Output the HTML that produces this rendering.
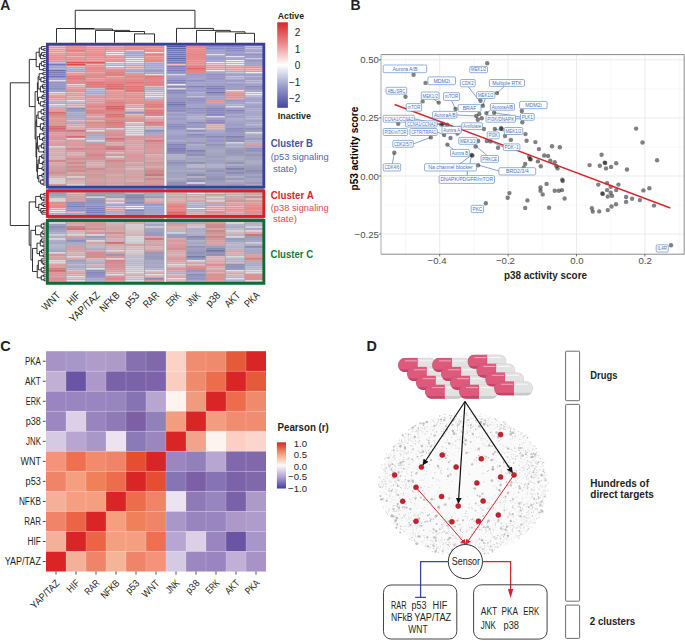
<!DOCTYPE html>
<html><head><meta charset="utf-8"><style>
html,body{margin:0;padding:0;background:#fff;width:685px;height:640px;overflow:hidden}
svg{display:block}
text{font-family:"Liberation Sans", sans-serif}
</style></head><body>
<svg width="685" height="640" viewBox="0 0 685 640">
<rect width="685" height="640" fill="#fff"/>
<text x="0.30" y="9.70" font-size="14" fill="#231f20" font-weight="bold" text-anchor="start">A</text>
<line x1="134.50" y1="33.90" x2="154.50" y2="33.90" stroke="#1a1a1a" stroke-width="0.9"/>
<line x1="134.50" y1="33.90" x2="134.50" y2="42.70" stroke="#1a1a1a" stroke-width="0.9"/>
<line x1="154.50" y1="33.90" x2="154.50" y2="42.70" stroke="#1a1a1a" stroke-width="0.9"/>
<line x1="114.50" y1="31.50" x2="144.50" y2="31.50" stroke="#1a1a1a" stroke-width="0.9"/>
<line x1="114.50" y1="31.50" x2="114.50" y2="42.70" stroke="#1a1a1a" stroke-width="0.9"/>
<line x1="144.50" y1="31.50" x2="144.50" y2="33.90" stroke="#1a1a1a" stroke-width="0.9"/>
<line x1="95.50" y1="30.40" x2="129.50" y2="30.40" stroke="#1a1a1a" stroke-width="0.9"/>
<line x1="95.50" y1="30.40" x2="95.50" y2="42.70" stroke="#1a1a1a" stroke-width="0.9"/>
<line x1="129.50" y1="30.40" x2="129.50" y2="31.50" stroke="#1a1a1a" stroke-width="0.9"/>
<line x1="75.50" y1="29.00" x2="112.50" y2="29.00" stroke="#1a1a1a" stroke-width="0.9"/>
<line x1="75.50" y1="29.00" x2="75.50" y2="42.70" stroke="#1a1a1a" stroke-width="0.9"/>
<line x1="112.50" y1="29.00" x2="112.50" y2="30.40" stroke="#1a1a1a" stroke-width="0.9"/>
<line x1="56.50" y1="28.50" x2="94.00" y2="28.50" stroke="#1a1a1a" stroke-width="0.9"/>
<line x1="56.50" y1="28.50" x2="56.50" y2="42.70" stroke="#1a1a1a" stroke-width="0.9"/>
<line x1="94.00" y1="28.50" x2="94.00" y2="29.00" stroke="#1a1a1a" stroke-width="0.9"/>
<line x1="235.50" y1="33.30" x2="254.50" y2="33.30" stroke="#1a1a1a" stroke-width="0.9"/>
<line x1="235.50" y1="33.30" x2="235.50" y2="42.70" stroke="#1a1a1a" stroke-width="0.9"/>
<line x1="254.50" y1="33.30" x2="254.50" y2="42.70" stroke="#1a1a1a" stroke-width="0.9"/>
<line x1="215.50" y1="31.80" x2="245.00" y2="31.80" stroke="#1a1a1a" stroke-width="0.9"/>
<line x1="215.50" y1="31.80" x2="215.50" y2="42.70" stroke="#1a1a1a" stroke-width="0.9"/>
<line x1="245.00" y1="31.80" x2="245.00" y2="33.30" stroke="#1a1a1a" stroke-width="0.9"/>
<line x1="196.50" y1="30.40" x2="230.25" y2="30.40" stroke="#1a1a1a" stroke-width="0.9"/>
<line x1="196.50" y1="30.40" x2="196.50" y2="42.70" stroke="#1a1a1a" stroke-width="0.9"/>
<line x1="230.25" y1="30.40" x2="230.25" y2="31.80" stroke="#1a1a1a" stroke-width="0.9"/>
<line x1="176.50" y1="28.40" x2="213.38" y2="28.40" stroke="#1a1a1a" stroke-width="0.9"/>
<line x1="176.50" y1="28.40" x2="176.50" y2="42.70" stroke="#1a1a1a" stroke-width="0.9"/>
<line x1="213.38" y1="28.40" x2="213.38" y2="30.40" stroke="#1a1a1a" stroke-width="0.9"/>
<line x1="75.25" y1="10.30" x2="194.94" y2="10.30" stroke="#1a1a1a" stroke-width="0.9"/>
<line x1="75.25" y1="10.30" x2="75.25" y2="28.50" stroke="#1a1a1a" stroke-width="0.9"/>
<line x1="194.94" y1="10.30" x2="194.94" y2="28.40" stroke="#1a1a1a" stroke-width="0.9"/>
<rect x="48" y="44" width="216" height="240" fill="#a6a4a8"/>
<rect x="46.95" y="46.02" width="18.70" height="1.16" fill="#f3bfc1"/>
<rect x="66.55" y="46.02" width="18.70" height="1.16" fill="#ef9292"/>
<rect x="86.15" y="46.02" width="18.70" height="1.16" fill="#f2b3b5"/>
<rect x="105.75" y="46.02" width="18.70" height="1.16" fill="#f2acad"/>
<rect x="125.35" y="46.02" width="18.70" height="1.16" fill="#f09b9b"/>
<rect x="144.95" y="46.02" width="18.70" height="1.16" fill="#f09797"/>
<rect x="167.15" y="46.02" width="18.63" height="1.16" fill="#5058a6"/>
<rect x="186.68" y="46.02" width="18.63" height="1.16" fill="#ec8384"/>
<rect x="206.21" y="46.02" width="18.63" height="1.16" fill="#8588c4"/>
<rect x="225.74" y="46.02" width="18.63" height="1.16" fill="#7f83c0"/>
<rect x="245.27" y="46.02" width="18.63" height="1.16" fill="#c2c2e1"/>
<rect x="46.95" y="48.03" width="18.70" height="1.16" fill="#f3bdbe"/>
<rect x="66.55" y="48.03" width="18.70" height="1.16" fill="#ef9292"/>
<rect x="86.15" y="48.03" width="18.70" height="1.16" fill="#f1a1a1"/>
<rect x="105.75" y="48.03" width="18.70" height="1.16" fill="#f19f9f"/>
<rect x="125.35" y="48.03" width="18.70" height="1.16" fill="#ee8e8e"/>
<rect x="144.95" y="48.03" width="18.70" height="1.16" fill="#f1a1a1"/>
<rect x="167.15" y="48.03" width="18.63" height="1.16" fill="#5c63ad"/>
<rect x="186.68" y="48.03" width="18.63" height="1.16" fill="#f09999"/>
<rect x="206.21" y="48.03" width="18.63" height="1.16" fill="#878bc5"/>
<rect x="225.74" y="48.03" width="18.63" height="1.16" fill="#8488c3"/>
<rect x="245.27" y="48.03" width="18.63" height="1.16" fill="#c3c3e2"/>
<rect x="46.95" y="50.03" width="18.70" height="1.16" fill="#f3b9bb"/>
<rect x="66.55" y="50.03" width="18.70" height="1.16" fill="#ea7d7e"/>
<rect x="86.15" y="50.03" width="18.70" height="1.16" fill="#f1a3a4"/>
<rect x="105.75" y="50.03" width="18.70" height="1.16" fill="#f2b4b5"/>
<rect x="125.35" y="50.03" width="18.70" height="1.16" fill="#f4c9cb"/>
<rect x="144.95" y="50.03" width="18.70" height="1.16" fill="#ee8d8d"/>
<rect x="167.15" y="50.03" width="18.63" height="1.16" fill="#7278b9"/>
<rect x="186.68" y="50.03" width="18.63" height="1.16" fill="#ee8f90"/>
<rect x="206.21" y="50.03" width="18.63" height="1.16" fill="#a3a5d3"/>
<rect x="225.74" y="50.03" width="18.63" height="1.16" fill="#898cc6"/>
<rect x="245.27" y="50.03" width="18.63" height="1.16" fill="#a6a7d4"/>
<rect x="46.95" y="52.04" width="18.70" height="1.16" fill="#f4c6c8"/>
<rect x="66.55" y="52.04" width="18.70" height="1.16" fill="#f2aeaf"/>
<rect x="86.15" y="52.04" width="18.70" height="1.16" fill="#f19e9e"/>
<rect x="105.75" y="52.04" width="18.70" height="1.16" fill="#f8f5f8"/>
<rect x="125.35" y="52.04" width="18.70" height="1.16" fill="#acadd7"/>
<rect x="144.95" y="52.04" width="18.70" height="1.16" fill="#f7e7eb"/>
<rect x="167.15" y="52.04" width="18.63" height="1.16" fill="#757abb"/>
<rect x="186.68" y="52.04" width="18.63" height="1.16" fill="#ee8e8f"/>
<rect x="206.21" y="52.04" width="18.63" height="1.16" fill="#abacd7"/>
<rect x="225.74" y="52.04" width="18.63" height="1.16" fill="#9fa0d1"/>
<rect x="245.27" y="52.04" width="18.63" height="1.16" fill="#c0c1e0"/>
<rect x="46.95" y="54.04" width="18.70" height="1.16" fill="#f1a7a8"/>
<rect x="66.55" y="54.04" width="18.70" height="1.16" fill="#f09898"/>
<rect x="86.15" y="54.04" width="18.70" height="1.16" fill="#ef9090"/>
<rect x="105.75" y="54.04" width="18.70" height="1.16" fill="#efeef6"/>
<rect x="125.35" y="54.04" width="18.70" height="1.16" fill="#b9b9dd"/>
<rect x="144.95" y="54.04" width="18.70" height="1.16" fill="#eb8081"/>
<rect x="167.15" y="54.04" width="18.63" height="1.16" fill="#6e73b7"/>
<rect x="186.68" y="54.04" width="18.63" height="1.16" fill="#ec8586"/>
<rect x="206.21" y="54.04" width="18.63" height="1.16" fill="#e5e4f1"/>
<rect x="225.74" y="54.04" width="18.63" height="1.16" fill="#9597cd"/>
<rect x="245.27" y="54.04" width="18.63" height="1.16" fill="#8e91c9"/>
<rect x="46.95" y="56.05" width="18.70" height="1.16" fill="#f19d9d"/>
<rect x="66.55" y="56.05" width="18.70" height="1.16" fill="#f3b5b6"/>
<rect x="86.15" y="56.05" width="18.70" height="1.16" fill="#f19e9f"/>
<rect x="105.75" y="56.05" width="18.70" height="1.16" fill="#f19e9e"/>
<rect x="125.35" y="56.05" width="18.70" height="1.16" fill="#c4c4e2"/>
<rect x="144.95" y="56.05" width="18.70" height="1.16" fill="#f1a2a3"/>
<rect x="167.15" y="56.05" width="18.63" height="1.16" fill="#6f74b7"/>
<rect x="186.68" y="56.05" width="18.63" height="1.16" fill="#ed8989"/>
<rect x="206.21" y="56.05" width="18.63" height="1.16" fill="#a1a3d2"/>
<rect x="225.74" y="56.05" width="18.63" height="1.16" fill="#e4e3f1"/>
<rect x="245.27" y="56.05" width="18.63" height="1.16" fill="#9c9ed0"/>
<rect x="46.95" y="58.06" width="18.70" height="1.16" fill="#f19d9e"/>
<rect x="66.55" y="58.06" width="18.70" height="1.16" fill="#f09a9a"/>
<rect x="86.15" y="58.06" width="18.70" height="1.16" fill="#f2a9a9"/>
<rect x="105.75" y="58.06" width="18.70" height="1.16" fill="#f2abac"/>
<rect x="125.35" y="58.06" width="18.70" height="1.16" fill="#f7eef2"/>
<rect x="144.95" y="58.06" width="18.70" height="1.16" fill="#f09797"/>
<rect x="167.15" y="58.06" width="18.63" height="1.16" fill="#5b62ac"/>
<rect x="186.68" y="58.06" width="18.63" height="1.16" fill="#ee8c8d"/>
<rect x="206.21" y="58.06" width="18.63" height="1.16" fill="#9a9bcf"/>
<rect x="225.74" y="58.06" width="18.63" height="1.16" fill="#a7a8d5"/>
<rect x="245.27" y="58.06" width="18.63" height="1.16" fill="#cbcbe5"/>
<rect x="46.95" y="60.06" width="18.70" height="1.16" fill="#f1a7a8"/>
<rect x="66.55" y="60.06" width="18.70" height="1.16" fill="#f19fa0"/>
<rect x="86.15" y="60.06" width="18.70" height="1.16" fill="#f1a5a6"/>
<rect x="105.75" y="60.06" width="18.70" height="1.16" fill="#f09696"/>
<rect x="125.35" y="60.06" width="18.70" height="1.16" fill="#f0eff6"/>
<rect x="144.95" y="60.06" width="18.70" height="1.16" fill="#ed8889"/>
<rect x="167.15" y="60.06" width="18.63" height="1.16" fill="#7378b9"/>
<rect x="186.68" y="60.06" width="18.63" height="1.16" fill="#f0999a"/>
<rect x="206.21" y="60.06" width="18.63" height="1.16" fill="#abacd7"/>
<rect x="225.74" y="60.06" width="18.63" height="1.16" fill="#f8f6fa"/>
<rect x="245.27" y="60.06" width="18.63" height="1.16" fill="#9194ca"/>
<rect x="46.95" y="62.07" width="18.70" height="1.16" fill="#c7c7e3"/>
<rect x="66.55" y="62.07" width="18.70" height="1.16" fill="#e04e51"/>
<rect x="86.15" y="62.07" width="18.70" height="1.16" fill="#e15457"/>
<rect x="105.75" y="62.07" width="18.70" height="1.16" fill="#f1f0f7"/>
<rect x="125.35" y="62.07" width="18.70" height="1.16" fill="#f7f0f4"/>
<rect x="144.95" y="62.07" width="18.70" height="1.16" fill="#c1c1e1"/>
<rect x="167.15" y="62.07" width="18.63" height="1.16" fill="#7479ba"/>
<rect x="186.68" y="62.07" width="18.63" height="1.16" fill="#f19c9c"/>
<rect x="206.21" y="62.07" width="18.63" height="1.16" fill="#f5f3f9"/>
<rect x="225.74" y="62.07" width="18.63" height="1.16" fill="#f6f4f9"/>
<rect x="245.27" y="62.07" width="18.63" height="1.16" fill="#a4a5d3"/>
<rect x="46.95" y="64.07" width="18.70" height="1.16" fill="#7378ba"/>
<rect x="66.55" y="64.07" width="18.70" height="1.16" fill="#de4549"/>
<rect x="86.15" y="64.07" width="18.70" height="1.16" fill="#f3b7b8"/>
<rect x="105.75" y="64.07" width="18.70" height="1.16" fill="#c9c9e4"/>
<rect x="125.35" y="64.07" width="18.70" height="1.16" fill="#c9c9e4"/>
<rect x="144.95" y="64.07" width="18.70" height="1.16" fill="#b4b4db"/>
<rect x="167.15" y="64.07" width="18.63" height="1.16" fill="#f3bec0"/>
<rect x="186.68" y="64.07" width="18.63" height="1.16" fill="#f09c9c"/>
<rect x="206.21" y="64.07" width="18.63" height="1.16" fill="#f4c8cb"/>
<rect x="225.74" y="64.07" width="18.63" height="1.16" fill="#f2f1f7"/>
<rect x="245.27" y="64.07" width="18.63" height="1.16" fill="#a7a8d5"/>
<rect x="46.95" y="66.08" width="18.70" height="1.16" fill="#acaed7"/>
<rect x="66.55" y="66.08" width="18.70" height="1.16" fill="#f3bcbd"/>
<rect x="86.15" y="66.08" width="18.70" height="1.16" fill="#f09c9c"/>
<rect x="105.75" y="66.08" width="18.70" height="1.16" fill="#f8f5f9"/>
<rect x="125.35" y="66.08" width="18.70" height="1.16" fill="#f4c7c9"/>
<rect x="144.95" y="66.08" width="18.70" height="1.16" fill="#b8b9dd"/>
<rect x="167.15" y="66.08" width="18.63" height="1.16" fill="#757abb"/>
<rect x="186.68" y="66.08" width="18.63" height="1.16" fill="#ea797b"/>
<rect x="206.21" y="66.08" width="18.63" height="1.16" fill="#f3b8b9"/>
<rect x="225.74" y="66.08" width="18.63" height="1.16" fill="#f2b0b1"/>
<rect x="245.27" y="66.08" width="18.63" height="1.16" fill="#f1a5a6"/>
<rect x="46.95" y="68.08" width="18.70" height="1.16" fill="#b6b7dc"/>
<rect x="66.55" y="68.08" width="18.70" height="1.16" fill="#c1c1e1"/>
<rect x="86.15" y="68.08" width="18.70" height="1.16" fill="#ed8a8b"/>
<rect x="105.75" y="68.08" width="18.70" height="1.16" fill="#f2aeaf"/>
<rect x="125.35" y="68.08" width="18.70" height="1.16" fill="#f4c7c9"/>
<rect x="144.95" y="68.08" width="18.70" height="1.16" fill="#bbbbde"/>
<rect x="167.15" y="68.08" width="18.63" height="1.16" fill="#8084c1"/>
<rect x="186.68" y="68.08" width="18.63" height="1.16" fill="#e35d60"/>
<rect x="206.21" y="68.08" width="18.63" height="1.16" fill="#f3bcbe"/>
<rect x="225.74" y="68.08" width="18.63" height="1.16" fill="#f3bdbe"/>
<rect x="245.27" y="68.08" width="18.63" height="1.16" fill="#f3bfc0"/>
<rect x="46.95" y="70.09" width="18.70" height="1.16" fill="#656bb2"/>
<rect x="66.55" y="70.09" width="18.70" height="1.16" fill="#b5b6db"/>
<rect x="86.15" y="70.09" width="18.70" height="1.16" fill="#ef9292"/>
<rect x="105.75" y="70.09" width="18.70" height="1.16" fill="#ed8a8a"/>
<rect x="125.35" y="70.09" width="18.70" height="1.16" fill="#acadd7"/>
<rect x="144.95" y="70.09" width="18.70" height="1.16" fill="#9799cd"/>
<rect x="167.15" y="70.09" width="18.63" height="1.16" fill="#767bbb"/>
<rect x="186.68" y="70.09" width="18.63" height="1.16" fill="#ea7d7e"/>
<rect x="206.21" y="70.09" width="18.63" height="1.16" fill="#f8f3f7"/>
<rect x="225.74" y="70.09" width="18.63" height="1.16" fill="#f3b9bb"/>
<rect x="245.27" y="70.09" width="18.63" height="1.16" fill="#f3bcbd"/>
<rect x="46.95" y="72.10" width="18.70" height="1.16" fill="#757abb"/>
<rect x="66.55" y="72.10" width="18.70" height="1.16" fill="#f4c4c6"/>
<rect x="86.15" y="72.10" width="18.70" height="1.16" fill="#f2a8a9"/>
<rect x="105.75" y="72.10" width="18.70" height="1.16" fill="#ea7c7e"/>
<rect x="125.35" y="72.10" width="18.70" height="1.16" fill="#c7c7e4"/>
<rect x="144.95" y="72.10" width="18.70" height="1.16" fill="#b1b2da"/>
<rect x="167.15" y="72.10" width="18.63" height="1.16" fill="#8c8fc7"/>
<rect x="186.68" y="72.10" width="18.63" height="1.16" fill="#ec8484"/>
<rect x="206.21" y="72.10" width="18.63" height="1.16" fill="#a8a9d5"/>
<rect x="225.74" y="72.10" width="18.63" height="1.16" fill="#cacae5"/>
<rect x="245.27" y="72.10" width="18.63" height="1.16" fill="#f8f5f9"/>
<rect x="46.95" y="74.10" width="18.70" height="1.16" fill="#7f83c0"/>
<rect x="66.55" y="74.10" width="18.70" height="1.16" fill="#f09999"/>
<rect x="86.15" y="74.10" width="18.70" height="1.16" fill="#ee8e8f"/>
<rect x="105.75" y="74.10" width="18.70" height="1.16" fill="#e97577"/>
<rect x="125.35" y="74.10" width="18.70" height="1.16" fill="#ef9494"/>
<rect x="144.95" y="74.10" width="18.70" height="1.16" fill="#f6dee1"/>
<rect x="167.15" y="74.10" width="18.63" height="1.16" fill="#dddcee"/>
<rect x="186.68" y="74.10" width="18.63" height="1.16" fill="#9b9ccf"/>
<rect x="206.21" y="74.10" width="18.63" height="1.16" fill="#8e90c8"/>
<rect x="225.74" y="74.10" width="18.63" height="1.16" fill="#a0a2d2"/>
<rect x="245.27" y="74.10" width="18.63" height="1.16" fill="#a0a2d2"/>
<rect x="46.95" y="76.11" width="18.70" height="1.16" fill="#686eb3"/>
<rect x="66.55" y="76.11" width="18.70" height="1.16" fill="#e87374"/>
<rect x="86.15" y="76.11" width="18.70" height="1.16" fill="#ed8888"/>
<rect x="105.75" y="76.11" width="18.70" height="1.16" fill="#f2adae"/>
<rect x="125.35" y="76.11" width="18.70" height="1.16" fill="#ec8384"/>
<rect x="144.95" y="76.11" width="18.70" height="1.16" fill="#e77072"/>
<rect x="167.15" y="76.11" width="18.63" height="1.16" fill="#a1a2d2"/>
<rect x="186.68" y="76.11" width="18.63" height="1.16" fill="#a3a4d3"/>
<rect x="206.21" y="76.11" width="18.63" height="1.16" fill="#9698cd"/>
<rect x="225.74" y="76.11" width="18.63" height="1.16" fill="#cacae5"/>
<rect x="245.27" y="76.11" width="18.63" height="1.16" fill="#b5b6db"/>
<rect x="46.95" y="78.11" width="18.70" height="1.16" fill="#a7a9d5"/>
<rect x="66.55" y="78.11" width="18.70" height="1.16" fill="#e87476"/>
<rect x="86.15" y="78.11" width="18.70" height="1.16" fill="#f1a6a7"/>
<rect x="105.75" y="78.11" width="18.70" height="1.16" fill="#f09595"/>
<rect x="125.35" y="78.11" width="18.70" height="1.16" fill="#f09595"/>
<rect x="144.95" y="78.11" width="18.70" height="1.16" fill="#ea7d7f"/>
<rect x="167.15" y="78.11" width="18.63" height="1.16" fill="#9799cd"/>
<rect x="186.68" y="78.11" width="18.63" height="1.16" fill="#a7a9d5"/>
<rect x="206.21" y="78.11" width="18.63" height="1.16" fill="#9193ca"/>
<rect x="225.74" y="78.11" width="18.63" height="1.16" fill="#bfc0e0"/>
<rect x="245.27" y="78.11" width="18.63" height="1.16" fill="#9d9ed0"/>
<rect x="46.95" y="80.12" width="18.70" height="1.16" fill="#e6e5f2"/>
<rect x="66.55" y="80.12" width="18.70" height="1.16" fill="#ed8a8b"/>
<rect x="86.15" y="80.12" width="18.70" height="1.16" fill="#f09898"/>
<rect x="105.75" y="80.12" width="18.70" height="1.16" fill="#ed8889"/>
<rect x="125.35" y="80.12" width="18.70" height="1.16" fill="#ec8384"/>
<rect x="144.95" y="80.12" width="18.70" height="1.16" fill="#ec8485"/>
<rect x="167.15" y="80.12" width="18.63" height="1.16" fill="#7d81bf"/>
<rect x="186.68" y="80.12" width="18.63" height="1.16" fill="#8c8fc7"/>
<rect x="206.21" y="80.12" width="18.63" height="1.16" fill="#a2a4d3"/>
<rect x="225.74" y="80.12" width="18.63" height="1.16" fill="#989ace"/>
<rect x="245.27" y="80.12" width="18.63" height="1.16" fill="#bfbfe0"/>
<rect x="46.95" y="82.12" width="18.70" height="1.16" fill="#9092ca"/>
<rect x="66.55" y="82.12" width="18.70" height="1.16" fill="#ed8787"/>
<rect x="86.15" y="82.12" width="18.70" height="1.16" fill="#e76e70"/>
<rect x="105.75" y="82.12" width="18.70" height="1.16" fill="#ea7d7f"/>
<rect x="125.35" y="82.12" width="18.70" height="1.16" fill="#e77072"/>
<rect x="144.95" y="82.12" width="18.70" height="1.16" fill="#ea7b7c"/>
<rect x="167.15" y="82.12" width="18.63" height="1.16" fill="#8185c1"/>
<rect x="186.68" y="82.12" width="18.63" height="1.16" fill="#a7a8d5"/>
<rect x="206.21" y="82.12" width="18.63" height="1.16" fill="#a6a7d4"/>
<rect x="225.74" y="82.12" width="18.63" height="1.16" fill="#b0b1d9"/>
<rect x="245.27" y="82.12" width="18.63" height="1.16" fill="#c4c4e2"/>
<rect x="46.95" y="84.13" width="18.70" height="1.16" fill="#9496cc"/>
<rect x="66.55" y="84.13" width="18.70" height="1.16" fill="#f6e3e6"/>
<rect x="86.15" y="84.13" width="18.70" height="1.16" fill="#e77172"/>
<rect x="105.75" y="84.13" width="18.70" height="1.16" fill="#e6696b"/>
<rect x="125.35" y="84.13" width="18.70" height="1.16" fill="#ed898a"/>
<rect x="144.95" y="84.13" width="18.70" height="1.16" fill="#ea7b7d"/>
<rect x="167.15" y="84.13" width="18.63" height="1.16" fill="#f7f5f9"/>
<rect x="186.68" y="84.13" width="18.63" height="1.16" fill="#a5a6d4"/>
<rect x="206.21" y="84.13" width="18.63" height="1.16" fill="#9d9ed0"/>
<rect x="225.74" y="84.13" width="18.63" height="1.16" fill="#9395cb"/>
<rect x="245.27" y="84.13" width="18.63" height="1.16" fill="#a2a3d2"/>
<rect x="46.95" y="86.14" width="18.70" height="1.16" fill="#9194ca"/>
<rect x="66.55" y="86.14" width="18.70" height="1.16" fill="#f3bdbe"/>
<rect x="86.15" y="86.14" width="18.70" height="1.16" fill="#ea7a7b"/>
<rect x="105.75" y="86.14" width="18.70" height="1.16" fill="#e56466"/>
<rect x="125.35" y="86.14" width="18.70" height="1.16" fill="#e76e70"/>
<rect x="144.95" y="86.14" width="18.70" height="1.16" fill="#f4c1c2"/>
<rect x="167.15" y="86.14" width="18.63" height="1.16" fill="#8487c3"/>
<rect x="186.68" y="86.14" width="18.63" height="1.16" fill="#797ebd"/>
<rect x="206.21" y="86.14" width="18.63" height="1.16" fill="#7a7ebd"/>
<rect x="225.74" y="86.14" width="18.63" height="1.16" fill="#9c9dd0"/>
<rect x="245.27" y="86.14" width="18.63" height="1.16" fill="#8386c2"/>
<rect x="46.95" y="88.14" width="18.70" height="1.16" fill="#878ac4"/>
<rect x="66.55" y="88.14" width="18.70" height="1.16" fill="#f1a3a3"/>
<rect x="86.15" y="88.14" width="18.70" height="1.16" fill="#c9c9e4"/>
<rect x="105.75" y="88.14" width="18.70" height="1.16" fill="#e56466"/>
<rect x="125.35" y="88.14" width="18.70" height="1.16" fill="#e87375"/>
<rect x="144.95" y="88.14" width="18.70" height="1.16" fill="#bbbbde"/>
<rect x="167.15" y="88.14" width="18.63" height="1.16" fill="#dcdbed"/>
<rect x="186.68" y="88.14" width="18.63" height="1.16" fill="#9a9bcf"/>
<rect x="206.21" y="88.14" width="18.63" height="1.16" fill="#7378b9"/>
<rect x="225.74" y="88.14" width="18.63" height="1.16" fill="#9c9ed0"/>
<rect x="245.27" y="88.14" width="18.63" height="1.16" fill="#9193ca"/>
<rect x="46.95" y="90.15" width="18.70" height="1.16" fill="#a1a3d2"/>
<rect x="66.55" y="90.15" width="18.70" height="1.16" fill="#ef9494"/>
<rect x="86.15" y="90.15" width="18.70" height="1.16" fill="#c1c1e1"/>
<rect x="105.75" y="90.15" width="18.70" height="1.16" fill="#f2afb0"/>
<rect x="125.35" y="90.15" width="18.70" height="1.16" fill="#e6696b"/>
<rect x="144.95" y="90.15" width="18.70" height="1.16" fill="#cbcbe5"/>
<rect x="167.15" y="90.15" width="18.63" height="1.16" fill="#7d81bf"/>
<rect x="186.68" y="90.15" width="18.63" height="1.16" fill="#9496cc"/>
<rect x="206.21" y="90.15" width="18.63" height="1.16" fill="#898cc6"/>
<rect x="225.74" y="90.15" width="18.63" height="1.16" fill="#f7eaed"/>
<rect x="245.27" y="90.15" width="18.63" height="1.16" fill="#aaabd6"/>
<rect x="46.95" y="92.15" width="18.70" height="1.16" fill="#f7eff3"/>
<rect x="66.55" y="92.15" width="18.70" height="1.16" fill="#f3c0c1"/>
<rect x="86.15" y="92.15" width="18.70" height="1.16" fill="#b6b6dc"/>
<rect x="105.75" y="92.15" width="18.70" height="1.16" fill="#f19c9d"/>
<rect x="125.35" y="92.15" width="18.70" height="1.16" fill="#f1a5a6"/>
<rect x="144.95" y="92.15" width="18.70" height="1.16" fill="#f7e5e8"/>
<rect x="167.15" y="92.15" width="18.63" height="1.16" fill="#7e82c0"/>
<rect x="186.68" y="92.15" width="18.63" height="1.16" fill="#b4b5db"/>
<rect x="206.21" y="92.15" width="18.63" height="1.16" fill="#6c71b5"/>
<rect x="225.74" y="92.15" width="18.63" height="1.16" fill="#f1a3a3"/>
<rect x="245.27" y="92.15" width="18.63" height="1.16" fill="#f7f5fa"/>
<rect x="46.95" y="94.16" width="18.70" height="1.16" fill="#f4c4c6"/>
<rect x="66.55" y="94.16" width="18.70" height="1.16" fill="#f2aaab"/>
<rect x="86.15" y="94.16" width="18.70" height="1.16" fill="#c4c4e2"/>
<rect x="105.75" y="94.16" width="18.70" height="1.16" fill="#f1a1a2"/>
<rect x="125.35" y="94.16" width="18.70" height="1.16" fill="#f19e9f"/>
<rect x="144.95" y="94.16" width="18.70" height="1.16" fill="#f6e2e5"/>
<rect x="167.15" y="94.16" width="18.63" height="1.16" fill="#9799cd"/>
<rect x="186.68" y="94.16" width="18.63" height="1.16" fill="#a5a6d4"/>
<rect x="206.21" y="94.16" width="18.63" height="1.16" fill="#9093ca"/>
<rect x="225.74" y="94.16" width="18.63" height="1.16" fill="#f09999"/>
<rect x="245.27" y="94.16" width="18.63" height="1.16" fill="#f8f5f9"/>
<rect x="46.95" y="96.16" width="18.70" height="1.16" fill="#f19d9d"/>
<rect x="66.55" y="96.16" width="18.70" height="1.16" fill="#f3bfc1"/>
<rect x="86.15" y="96.16" width="18.70" height="1.16" fill="#f09999"/>
<rect x="105.75" y="96.16" width="18.70" height="1.16" fill="#f09b9c"/>
<rect x="125.35" y="96.16" width="18.70" height="1.16" fill="#ef9393"/>
<rect x="144.95" y="96.16" width="18.70" height="1.16" fill="#f8f3f7"/>
<rect x="167.15" y="96.16" width="18.63" height="1.16" fill="#9a9ccf"/>
<rect x="186.68" y="96.16" width="18.63" height="1.16" fill="#c4c4e2"/>
<rect x="206.21" y="96.16" width="18.63" height="1.16" fill="#a9abd6"/>
<rect x="225.74" y="96.16" width="18.63" height="1.16" fill="#f1a2a3"/>
<rect x="245.27" y="96.16" width="18.63" height="1.16" fill="#c2c2e1"/>
<rect x="46.95" y="98.17" width="18.70" height="1.16" fill="#f3b9ba"/>
<rect x="66.55" y="98.17" width="18.70" height="1.16" fill="#f3b5b7"/>
<rect x="86.15" y="98.17" width="18.70" height="1.16" fill="#f2b3b4"/>
<rect x="105.75" y="98.17" width="18.70" height="1.16" fill="#f2abac"/>
<rect x="125.35" y="98.17" width="18.70" height="1.16" fill="#f19e9e"/>
<rect x="144.95" y="98.17" width="18.70" height="1.16" fill="#c8c8e4"/>
<rect x="167.15" y="98.17" width="18.63" height="1.16" fill="#8e91c8"/>
<rect x="186.68" y="98.17" width="18.63" height="1.16" fill="#8a8dc6"/>
<rect x="206.21" y="98.17" width="18.63" height="1.16" fill="#a6a7d4"/>
<rect x="225.74" y="98.17" width="18.63" height="1.16" fill="#f2aaab"/>
<rect x="245.27" y="98.17" width="18.63" height="1.16" fill="#a4a5d3"/>
<rect x="46.95" y="100.18" width="18.70" height="1.16" fill="#f4c3c5"/>
<rect x="66.55" y="100.18" width="18.70" height="1.16" fill="#f7f5fa"/>
<rect x="86.15" y="100.18" width="18.70" height="1.16" fill="#f2a9aa"/>
<rect x="105.75" y="100.18" width="18.70" height="1.16" fill="#ed8b8b"/>
<rect x="125.35" y="100.18" width="18.70" height="1.16" fill="#f09797"/>
<rect x="144.95" y="100.18" width="18.70" height="1.16" fill="#f09999"/>
<rect x="167.15" y="100.18" width="18.63" height="1.16" fill="#8a8dc6"/>
<rect x="186.68" y="100.18" width="18.63" height="1.16" fill="#8b8ec7"/>
<rect x="206.21" y="100.18" width="18.63" height="1.16" fill="#f09b9c"/>
<rect x="225.74" y="100.18" width="18.63" height="1.16" fill="#9799cd"/>
<rect x="245.27" y="100.18" width="18.63" height="1.16" fill="#aaabd6"/>
<rect x="46.95" y="102.18" width="18.70" height="1.16" fill="#bcbcde"/>
<rect x="66.55" y="102.18" width="18.70" height="1.16" fill="#c1c2e1"/>
<rect x="86.15" y="102.18" width="18.70" height="1.16" fill="#f2aeaf"/>
<rect x="105.75" y="102.18" width="18.70" height="1.16" fill="#e97779"/>
<rect x="125.35" y="102.18" width="18.70" height="1.16" fill="#ee8f8f"/>
<rect x="144.95" y="102.18" width="18.70" height="1.16" fill="#ed8888"/>
<rect x="167.15" y="102.18" width="18.63" height="1.16" fill="#7277b9"/>
<rect x="186.68" y="102.18" width="18.63" height="1.16" fill="#9597cc"/>
<rect x="206.21" y="102.18" width="18.63" height="1.16" fill="#f1a1a1"/>
<rect x="225.74" y="102.18" width="18.63" height="1.16" fill="#a9aad6"/>
<rect x="245.27" y="102.18" width="18.63" height="1.16" fill="#c9c9e4"/>
<rect x="46.95" y="104.19" width="18.70" height="1.16" fill="#f8f5f9"/>
<rect x="66.55" y="104.19" width="18.70" height="1.16" fill="#f4c5c7"/>
<rect x="86.15" y="104.19" width="18.70" height="1.16" fill="#ee8e8e"/>
<rect x="105.75" y="104.19" width="18.70" height="1.16" fill="#eb7e7f"/>
<rect x="125.35" y="104.19" width="18.70" height="1.16" fill="#f3bebf"/>
<rect x="144.95" y="104.19" width="18.70" height="1.16" fill="#e87576"/>
<rect x="167.15" y="104.19" width="18.63" height="1.16" fill="#646ab1"/>
<rect x="186.68" y="104.19" width="18.63" height="1.16" fill="#a4a6d3"/>
<rect x="206.21" y="104.19" width="18.63" height="1.16" fill="#a4a5d3"/>
<rect x="225.74" y="104.19" width="18.63" height="1.16" fill="#bdbedf"/>
<rect x="245.27" y="104.19" width="18.63" height="1.16" fill="#a4a6d4"/>
<rect x="46.95" y="106.19" width="18.70" height="1.16" fill="#cacae5"/>
<rect x="66.55" y="106.19" width="18.70" height="1.16" fill="#f4cacc"/>
<rect x="86.15" y="106.19" width="18.70" height="1.16" fill="#ec8485"/>
<rect x="105.75" y="106.19" width="18.70" height="1.16" fill="#e05053"/>
<rect x="125.35" y="106.19" width="18.70" height="1.16" fill="#f3b6b7"/>
<rect x="144.95" y="106.19" width="18.70" height="1.16" fill="#e97677"/>
<rect x="167.15" y="106.19" width="18.63" height="1.16" fill="#7f83c0"/>
<rect x="186.68" y="106.19" width="18.63" height="1.16" fill="#a5a6d4"/>
<rect x="206.21" y="106.19" width="18.63" height="1.16" fill="#9597cc"/>
<rect x="225.74" y="106.19" width="18.63" height="1.16" fill="#eae8f3"/>
<rect x="245.27" y="106.19" width="18.63" height="1.16" fill="#9c9ed0"/>
<rect x="46.95" y="108.20" width="18.70" height="1.16" fill="#f1a8a9"/>
<rect x="66.55" y="108.20" width="18.70" height="1.16" fill="#8589c4"/>
<rect x="86.15" y="108.20" width="18.70" height="1.16" fill="#f09b9b"/>
<rect x="105.75" y="108.20" width="18.70" height="1.16" fill="#e05053"/>
<rect x="125.35" y="108.20" width="18.70" height="1.16" fill="#f7edf1"/>
<rect x="144.95" y="108.20" width="18.70" height="1.16" fill="#f1a1a1"/>
<rect x="167.15" y="108.20" width="18.63" height="1.16" fill="#8588c3"/>
<rect x="186.68" y="108.20" width="18.63" height="1.16" fill="#878ac5"/>
<rect x="206.21" y="108.20" width="18.63" height="1.16" fill="#797ebd"/>
<rect x="225.74" y="108.20" width="18.63" height="1.16" fill="#999bce"/>
<rect x="245.27" y="108.20" width="18.63" height="1.16" fill="#b1b2d9"/>
<rect x="46.95" y="110.20" width="18.70" height="1.16" fill="#f1a4a5"/>
<rect x="66.55" y="110.20" width="18.70" height="1.16" fill="#9799ce"/>
<rect x="86.15" y="110.20" width="18.70" height="1.16" fill="#e97879"/>
<rect x="105.75" y="110.20" width="18.70" height="1.16" fill="#e87475"/>
<rect x="125.35" y="110.20" width="18.70" height="1.16" fill="#f3bfc1"/>
<rect x="144.95" y="110.20" width="18.70" height="1.16" fill="#e76e6f"/>
<rect x="167.15" y="110.20" width="18.63" height="1.16" fill="#7c80bf"/>
<rect x="186.68" y="110.20" width="18.63" height="1.16" fill="#9496cc"/>
<rect x="206.21" y="110.20" width="18.63" height="1.16" fill="#7b80be"/>
<rect x="225.74" y="110.20" width="18.63" height="1.16" fill="#797dbd"/>
<rect x="245.27" y="110.20" width="18.63" height="1.16" fill="#b3b4da"/>
<rect x="46.95" y="112.21" width="18.70" height="1.16" fill="#e35f61"/>
<rect x="66.55" y="112.21" width="18.70" height="1.16" fill="#b8b9dd"/>
<rect x="86.15" y="112.21" width="18.70" height="1.16" fill="#e9797a"/>
<rect x="105.75" y="112.21" width="18.70" height="1.16" fill="#ec8586"/>
<rect x="125.35" y="112.21" width="18.70" height="1.16" fill="#8f92c9"/>
<rect x="144.95" y="112.21" width="18.70" height="1.16" fill="#e66b6d"/>
<rect x="167.15" y="112.21" width="18.63" height="1.16" fill="#a9aad6"/>
<rect x="186.68" y="112.21" width="18.63" height="1.16" fill="#8f91c9"/>
<rect x="206.21" y="112.21" width="18.63" height="1.16" fill="#8386c2"/>
<rect x="225.74" y="112.21" width="18.63" height="1.16" fill="#9092c9"/>
<rect x="245.27" y="112.21" width="18.63" height="1.16" fill="#a9abd6"/>
<rect x="46.95" y="114.22" width="18.70" height="1.16" fill="#ea7c7e"/>
<rect x="66.55" y="114.22" width="18.70" height="1.16" fill="#afb0d8"/>
<rect x="86.15" y="114.22" width="18.70" height="1.16" fill="#f1a1a1"/>
<rect x="105.75" y="114.22" width="18.70" height="1.16" fill="#e46366"/>
<rect x="125.35" y="114.22" width="18.70" height="1.16" fill="#f4c8ca"/>
<rect x="144.95" y="114.22" width="18.70" height="1.16" fill="#e97778"/>
<rect x="167.15" y="114.22" width="18.63" height="1.16" fill="#9799ce"/>
<rect x="186.68" y="114.22" width="18.63" height="1.16" fill="#acadd7"/>
<rect x="206.21" y="114.22" width="18.63" height="1.16" fill="#7a7ebd"/>
<rect x="225.74" y="114.22" width="18.63" height="1.16" fill="#aaabd6"/>
<rect x="245.27" y="114.22" width="18.63" height="1.16" fill="#abadd7"/>
<rect x="46.95" y="116.22" width="18.70" height="1.16" fill="#ef9090"/>
<rect x="66.55" y="116.22" width="18.70" height="1.16" fill="#aeafd8"/>
<rect x="86.15" y="116.22" width="18.70" height="1.16" fill="#f3bfc0"/>
<rect x="105.75" y="116.22" width="18.70" height="1.16" fill="#e76e70"/>
<rect x="125.35" y="116.22" width="18.70" height="1.16" fill="#f2a9aa"/>
<rect x="144.95" y="116.22" width="18.70" height="1.16" fill="#f6e3e6"/>
<rect x="167.15" y="116.22" width="18.63" height="1.16" fill="#a6a7d4"/>
<rect x="186.68" y="116.22" width="18.63" height="1.16" fill="#bfc0e0"/>
<rect x="206.21" y="116.22" width="18.63" height="1.16" fill="#e1e0f0"/>
<rect x="225.74" y="116.22" width="18.63" height="1.16" fill="#9d9fd0"/>
<rect x="245.27" y="116.22" width="18.63" height="1.16" fill="#bbbcde"/>
<rect x="46.95" y="118.23" width="18.70" height="1.16" fill="#f1a3a3"/>
<rect x="66.55" y="118.23" width="18.70" height="1.16" fill="#b8b8dc"/>
<rect x="86.15" y="118.23" width="18.70" height="1.16" fill="#f09696"/>
<rect x="105.75" y="118.23" width="18.70" height="1.16" fill="#ee8e8f"/>
<rect x="125.35" y="118.23" width="18.70" height="1.16" fill="#f09696"/>
<rect x="144.95" y="118.23" width="18.70" height="1.16" fill="#f2b3b5"/>
<rect x="167.15" y="118.23" width="18.63" height="1.16" fill="#9698cd"/>
<rect x="186.68" y="118.23" width="18.63" height="1.16" fill="#bdbddf"/>
<rect x="206.21" y="118.23" width="18.63" height="1.16" fill="#9d9ed0"/>
<rect x="225.74" y="118.23" width="18.63" height="1.16" fill="#b7b8dc"/>
<rect x="245.27" y="118.23" width="18.63" height="1.16" fill="#c3c3e2"/>
<rect x="46.95" y="120.23" width="18.70" height="1.16" fill="#f09999"/>
<rect x="66.55" y="120.23" width="18.70" height="1.16" fill="#f4c8ca"/>
<rect x="86.15" y="120.23" width="18.70" height="1.16" fill="#f3b8b9"/>
<rect x="105.75" y="120.23" width="18.70" height="1.16" fill="#eb7e7f"/>
<rect x="125.35" y="120.23" width="18.70" height="1.16" fill="#ef9091"/>
<rect x="144.95" y="120.23" width="18.70" height="1.16" fill="#f19e9f"/>
<rect x="167.15" y="120.23" width="18.63" height="1.16" fill="#a5a6d4"/>
<rect x="186.68" y="120.23" width="18.63" height="1.16" fill="#a7a8d5"/>
<rect x="206.21" y="120.23" width="18.63" height="1.16" fill="#8488c3"/>
<rect x="225.74" y="120.23" width="18.63" height="1.16" fill="#aaabd6"/>
<rect x="245.27" y="120.23" width="18.63" height="1.16" fill="#a0a2d2"/>
<rect x="46.95" y="122.24" width="18.70" height="1.16" fill="#f09c9c"/>
<rect x="66.55" y="122.24" width="18.70" height="1.16" fill="#b1b2da"/>
<rect x="86.15" y="122.24" width="18.70" height="1.16" fill="#ec8586"/>
<rect x="105.75" y="122.24" width="18.70" height="1.16" fill="#e6696b"/>
<rect x="125.35" y="122.24" width="18.70" height="1.16" fill="#f7eef2"/>
<rect x="144.95" y="122.24" width="18.70" height="1.16" fill="#e77072"/>
<rect x="167.15" y="122.24" width="18.63" height="1.16" fill="#a3a4d3"/>
<rect x="186.68" y="122.24" width="18.63" height="1.16" fill="#8387c3"/>
<rect x="206.21" y="122.24" width="18.63" height="1.16" fill="#7d81bf"/>
<rect x="225.74" y="122.24" width="18.63" height="1.16" fill="#a3a4d3"/>
<rect x="245.27" y="122.24" width="18.63" height="1.16" fill="#b1b2d9"/>
<rect x="46.95" y="124.24" width="18.70" height="1.16" fill="#f09898"/>
<rect x="66.55" y="124.24" width="18.70" height="1.16" fill="#f3bebf"/>
<rect x="86.15" y="124.24" width="18.70" height="1.16" fill="#ef9191"/>
<rect x="105.75" y="124.24" width="18.70" height="1.16" fill="#e97678"/>
<rect x="125.35" y="124.24" width="18.70" height="1.16" fill="#f3c0c1"/>
<rect x="144.95" y="124.24" width="18.70" height="1.16" fill="#eb7f80"/>
<rect x="167.15" y="124.24" width="18.63" height="1.16" fill="#8487c3"/>
<rect x="186.68" y="124.24" width="18.63" height="1.16" fill="#9799cd"/>
<rect x="206.21" y="124.24" width="18.63" height="1.16" fill="#f3bec0"/>
<rect x="225.74" y="124.24" width="18.63" height="1.16" fill="#9a9bcf"/>
<rect x="245.27" y="124.24" width="18.63" height="1.16" fill="#c1c2e1"/>
<rect x="46.95" y="126.25" width="18.70" height="1.16" fill="#e35e60"/>
<rect x="66.55" y="126.25" width="18.70" height="1.16" fill="#f4c9cc"/>
<rect x="86.15" y="126.25" width="18.70" height="1.16" fill="#f09595"/>
<rect x="105.75" y="126.25" width="18.70" height="1.16" fill="#ea7d7f"/>
<rect x="125.35" y="126.25" width="18.70" height="1.16" fill="#f6f5f9"/>
<rect x="144.95" y="126.25" width="18.70" height="1.16" fill="#f4c6c8"/>
<rect x="167.15" y="126.25" width="18.63" height="1.16" fill="#7f83c0"/>
<rect x="186.68" y="126.25" width="18.63" height="1.16" fill="#9395cb"/>
<rect x="206.21" y="126.25" width="18.63" height="1.16" fill="#f4c9cb"/>
<rect x="225.74" y="126.25" width="18.63" height="1.16" fill="#a0a1d1"/>
<rect x="245.27" y="126.25" width="18.63" height="1.16" fill="#a3a5d3"/>
<rect x="46.95" y="128.26" width="18.70" height="1.16" fill="#e15558"/>
<rect x="66.55" y="128.26" width="18.70" height="1.16" fill="#f2afb0"/>
<rect x="86.15" y="128.26" width="18.70" height="1.16" fill="#f4c2c4"/>
<rect x="105.75" y="128.26" width="18.70" height="1.16" fill="#f6e2e5"/>
<rect x="125.35" y="128.26" width="18.70" height="1.16" fill="#efeef6"/>
<rect x="144.95" y="128.26" width="18.70" height="1.16" fill="#cacae5"/>
<rect x="167.15" y="128.26" width="18.63" height="1.16" fill="#8b8ec7"/>
<rect x="186.68" y="128.26" width="18.63" height="1.16" fill="#e2e1f0"/>
<rect x="206.21" y="128.26" width="18.63" height="1.16" fill="#f4c1c2"/>
<rect x="225.74" y="128.26" width="18.63" height="1.16" fill="#8386c2"/>
<rect x="245.27" y="128.26" width="18.63" height="1.16" fill="#8589c4"/>
<rect x="46.95" y="130.26" width="18.70" height="1.16" fill="#e87274"/>
<rect x="66.55" y="130.26" width="18.70" height="1.16" fill="#e56466"/>
<rect x="86.15" y="130.26" width="18.70" height="1.16" fill="#f7f0f4"/>
<rect x="105.75" y="130.26" width="18.70" height="1.16" fill="#f09a9a"/>
<rect x="125.35" y="130.26" width="18.70" height="1.16" fill="#f7eff2"/>
<rect x="144.95" y="130.26" width="18.70" height="1.16" fill="#878ac4"/>
<rect x="167.15" y="130.26" width="18.63" height="1.16" fill="#a7a8d5"/>
<rect x="186.68" y="130.26" width="18.63" height="1.16" fill="#8387c2"/>
<rect x="206.21" y="130.26" width="18.63" height="1.16" fill="#adaed7"/>
<rect x="225.74" y="130.26" width="18.63" height="1.16" fill="#888bc5"/>
<rect x="245.27" y="130.26" width="18.63" height="1.16" fill="#9c9ed0"/>
<rect x="46.95" y="132.27" width="18.70" height="1.16" fill="#f1a5a5"/>
<rect x="66.55" y="132.27" width="18.70" height="1.16" fill="#f19d9d"/>
<rect x="86.15" y="132.27" width="18.70" height="1.16" fill="#ef9090"/>
<rect x="105.75" y="132.27" width="18.70" height="1.16" fill="#ef9393"/>
<rect x="125.35" y="132.27" width="18.70" height="1.16" fill="#f0eef6"/>
<rect x="144.95" y="132.27" width="18.70" height="1.16" fill="#a7a8d5"/>
<rect x="167.15" y="132.27" width="18.63" height="1.16" fill="#acadd7"/>
<rect x="186.68" y="132.27" width="18.63" height="1.16" fill="#b0b1d9"/>
<rect x="206.21" y="132.27" width="18.63" height="1.16" fill="#a8a9d5"/>
<rect x="225.74" y="132.27" width="18.63" height="1.16" fill="#9597cd"/>
<rect x="245.27" y="132.27" width="18.63" height="1.16" fill="#f2f0f7"/>
<rect x="46.95" y="134.27" width="18.70" height="1.16" fill="#f1a7a8"/>
<rect x="66.55" y="134.27" width="18.70" height="1.16" fill="#f19c9d"/>
<rect x="86.15" y="134.27" width="18.70" height="1.16" fill="#adaed7"/>
<rect x="105.75" y="134.27" width="18.70" height="1.16" fill="#ed8787"/>
<rect x="125.35" y="134.27" width="18.70" height="1.16" fill="#f8f4f8"/>
<rect x="144.95" y="134.27" width="18.70" height="1.16" fill="#afb0d8"/>
<rect x="167.15" y="134.27" width="18.63" height="1.16" fill="#a0a1d2"/>
<rect x="186.68" y="134.27" width="18.63" height="1.16" fill="#7e82c0"/>
<rect x="206.21" y="134.27" width="18.63" height="1.16" fill="#9799ce"/>
<rect x="225.74" y="134.27" width="18.63" height="1.16" fill="#9799ce"/>
<rect x="245.27" y="134.27" width="18.63" height="1.16" fill="#b0b1d9"/>
<rect x="46.95" y="136.28" width="18.70" height="1.16" fill="#f09898"/>
<rect x="66.55" y="136.28" width="18.70" height="1.16" fill="#e2595c"/>
<rect x="86.15" y="136.28" width="18.70" height="1.16" fill="#b7b8dc"/>
<rect x="105.75" y="136.28" width="18.70" height="1.16" fill="#f09898"/>
<rect x="125.35" y="136.28" width="18.70" height="1.16" fill="#f09696"/>
<rect x="144.95" y="136.28" width="18.70" height="1.16" fill="#ef9192"/>
<rect x="167.15" y="136.28" width="18.63" height="1.16" fill="#9799cd"/>
<rect x="186.68" y="136.28" width="18.63" height="1.16" fill="#8d90c8"/>
<rect x="206.21" y="136.28" width="18.63" height="1.16" fill="#7d81bf"/>
<rect x="225.74" y="136.28" width="18.63" height="1.16" fill="#6f74b7"/>
<rect x="245.27" y="136.28" width="18.63" height="1.16" fill="#a9abd6"/>
<rect x="46.95" y="138.28" width="18.70" height="1.16" fill="#ef9292"/>
<rect x="66.55" y="138.28" width="18.70" height="1.16" fill="#f7edf1"/>
<rect x="86.15" y="138.28" width="18.70" height="1.16" fill="#c1c2e1"/>
<rect x="105.75" y="138.28" width="18.70" height="1.16" fill="#e46062"/>
<rect x="125.35" y="138.28" width="18.70" height="1.16" fill="#f09a9a"/>
<rect x="144.95" y="138.28" width="18.70" height="1.16" fill="#f1a2a3"/>
<rect x="167.15" y="138.28" width="18.63" height="1.16" fill="#999bcf"/>
<rect x="186.68" y="138.28" width="18.63" height="1.16" fill="#a8a9d5"/>
<rect x="206.21" y="138.28" width="18.63" height="1.16" fill="#9b9dcf"/>
<rect x="225.74" y="138.28" width="18.63" height="1.16" fill="#8a8dc7"/>
<rect x="245.27" y="138.28" width="18.63" height="1.16" fill="#9496cc"/>
<rect x="46.95" y="140.29" width="18.70" height="1.16" fill="#f2b4b5"/>
<rect x="66.55" y="140.29" width="18.70" height="1.16" fill="#f09b9b"/>
<rect x="86.15" y="140.29" width="18.70" height="1.16" fill="#f8f4f8"/>
<rect x="105.75" y="140.29" width="18.70" height="1.16" fill="#ed8788"/>
<rect x="125.35" y="140.29" width="18.70" height="1.16" fill="#f2b0b1"/>
<rect x="144.95" y="140.29" width="18.70" height="1.16" fill="#e6696b"/>
<rect x="167.15" y="140.29" width="18.63" height="1.16" fill="#b3b4da"/>
<rect x="186.68" y="140.29" width="18.63" height="1.16" fill="#a6a7d4"/>
<rect x="206.21" y="140.29" width="18.63" height="1.16" fill="#8f91c9"/>
<rect x="225.74" y="140.29" width="18.63" height="1.16" fill="#8185c1"/>
<rect x="245.27" y="140.29" width="18.63" height="1.16" fill="#b6b7dc"/>
<rect x="46.95" y="142.30" width="18.70" height="1.16" fill="#f1a4a5"/>
<rect x="66.55" y="142.30" width="18.70" height="1.16" fill="#f1a1a2"/>
<rect x="86.15" y="142.30" width="18.70" height="1.16" fill="#a8a9d5"/>
<rect x="105.75" y="142.30" width="18.70" height="1.16" fill="#f3bbbd"/>
<rect x="125.35" y="142.30" width="18.70" height="1.16" fill="#f1a7a8"/>
<rect x="144.95" y="142.30" width="18.70" height="1.16" fill="#ed8a8a"/>
<rect x="167.15" y="142.30" width="18.63" height="1.16" fill="#9597cc"/>
<rect x="186.68" y="142.30" width="18.63" height="1.16" fill="#9092ca"/>
<rect x="206.21" y="142.30" width="18.63" height="1.16" fill="#a0a2d2"/>
<rect x="225.74" y="142.30" width="18.63" height="1.16" fill="#e5e3f1"/>
<rect x="245.27" y="142.30" width="18.63" height="1.16" fill="#bbbcde"/>
<rect x="46.95" y="144.30" width="18.70" height="1.16" fill="#f19f9f"/>
<rect x="66.55" y="144.30" width="18.70" height="1.16" fill="#f09a9a"/>
<rect x="86.15" y="144.30" width="18.70" height="1.16" fill="#ec8687"/>
<rect x="105.75" y="144.30" width="18.70" height="1.16" fill="#f2b2b3"/>
<rect x="125.35" y="144.30" width="18.70" height="1.16" fill="#f2b3b4"/>
<rect x="144.95" y="144.30" width="18.70" height="1.16" fill="#f09696"/>
<rect x="167.15" y="144.30" width="18.63" height="1.16" fill="#7579ba"/>
<rect x="186.68" y="144.30" width="18.63" height="1.16" fill="#b4b5db"/>
<rect x="206.21" y="144.30" width="18.63" height="1.16" fill="#888bc5"/>
<rect x="225.74" y="144.30" width="18.63" height="1.16" fill="#b2b3da"/>
<rect x="245.27" y="144.30" width="18.63" height="1.16" fill="#f19d9d"/>
<rect x="46.95" y="146.31" width="18.70" height="1.16" fill="#efeef6"/>
<rect x="66.55" y="146.31" width="18.70" height="1.16" fill="#f2abac"/>
<rect x="86.15" y="146.31" width="18.70" height="1.16" fill="#ef9090"/>
<rect x="105.75" y="146.31" width="18.70" height="1.16" fill="#e87374"/>
<rect x="125.35" y="146.31" width="18.70" height="1.16" fill="#f2b3b5"/>
<rect x="144.95" y="146.31" width="18.70" height="1.16" fill="#ef9192"/>
<rect x="167.15" y="146.31" width="18.63" height="1.16" fill="#7f83c0"/>
<rect x="186.68" y="146.31" width="18.63" height="1.16" fill="#a7a8d5"/>
<rect x="206.21" y="146.31" width="18.63" height="1.16" fill="#9c9ed0"/>
<rect x="225.74" y="146.31" width="18.63" height="1.16" fill="#b9b9dd"/>
<rect x="245.27" y="146.31" width="18.63" height="1.16" fill="#aaacd6"/>
<rect x="46.95" y="148.31" width="18.70" height="1.16" fill="#f2b1b3"/>
<rect x="66.55" y="148.31" width="18.70" height="1.16" fill="#e97879"/>
<rect x="86.15" y="148.31" width="18.70" height="1.16" fill="#ec8687"/>
<rect x="105.75" y="148.31" width="18.70" height="1.16" fill="#e46062"/>
<rect x="125.35" y="148.31" width="18.70" height="1.16" fill="#f1a6a7"/>
<rect x="144.95" y="148.31" width="18.70" height="1.16" fill="#f0999a"/>
<rect x="167.15" y="148.31" width="18.63" height="1.16" fill="#676db3"/>
<rect x="186.68" y="148.31" width="18.63" height="1.16" fill="#a1a2d2"/>
<rect x="206.21" y="148.31" width="18.63" height="1.16" fill="#a1a3d2"/>
<rect x="225.74" y="148.31" width="18.63" height="1.16" fill="#9698cd"/>
<rect x="245.27" y="148.31" width="18.63" height="1.16" fill="#8589c4"/>
<rect x="46.95" y="150.32" width="18.70" height="1.16" fill="#f3babc"/>
<rect x="66.55" y="150.32" width="18.70" height="1.16" fill="#f09797"/>
<rect x="86.15" y="150.32" width="18.70" height="1.16" fill="#ef9394"/>
<rect x="105.75" y="150.32" width="18.70" height="1.16" fill="#f19f9f"/>
<rect x="125.35" y="150.32" width="18.70" height="1.16" fill="#f2b3b4"/>
<rect x="144.95" y="150.32" width="18.70" height="1.16" fill="#f19d9e"/>
<rect x="167.15" y="150.32" width="18.63" height="1.16" fill="#6b70b5"/>
<rect x="186.68" y="150.32" width="18.63" height="1.16" fill="#6c72b6"/>
<rect x="206.21" y="150.32" width="18.63" height="1.16" fill="#aaacd6"/>
<rect x="225.74" y="150.32" width="18.63" height="1.16" fill="#8c8fc8"/>
<rect x="245.27" y="150.32" width="18.63" height="1.16" fill="#8689c4"/>
<rect x="46.95" y="152.32" width="18.70" height="1.16" fill="#f3c0c1"/>
<rect x="66.55" y="152.32" width="18.70" height="1.16" fill="#f3bebf"/>
<rect x="86.15" y="152.32" width="18.70" height="1.16" fill="#ee8d8e"/>
<rect x="105.75" y="152.32" width="18.70" height="1.16" fill="#f4c9cb"/>
<rect x="125.35" y="152.32" width="18.70" height="1.16" fill="#f1a5a5"/>
<rect x="144.95" y="152.32" width="18.70" height="1.16" fill="#f09696"/>
<rect x="167.15" y="152.32" width="18.63" height="1.16" fill="#7d81bf"/>
<rect x="186.68" y="152.32" width="18.63" height="1.16" fill="#8e90c8"/>
<rect x="206.21" y="152.32" width="18.63" height="1.16" fill="#a5a6d4"/>
<rect x="225.74" y="152.32" width="18.63" height="1.16" fill="#8e90c8"/>
<rect x="245.27" y="152.32" width="18.63" height="1.16" fill="#a0a1d2"/>
<rect x="46.95" y="154.33" width="18.70" height="1.16" fill="#f3b6b7"/>
<rect x="66.55" y="154.33" width="18.70" height="1.16" fill="#f4c1c3"/>
<rect x="86.15" y="154.33" width="18.70" height="1.16" fill="#e9787a"/>
<rect x="105.75" y="154.33" width="18.70" height="1.16" fill="#ef9090"/>
<rect x="125.35" y="154.33" width="18.70" height="1.16" fill="#f09999"/>
<rect x="144.95" y="154.33" width="18.70" height="1.16" fill="#f3bec0"/>
<rect x="167.15" y="154.33" width="18.63" height="1.16" fill="#babbde"/>
<rect x="186.68" y="154.33" width="18.63" height="1.16" fill="#7e82c0"/>
<rect x="206.21" y="154.33" width="18.63" height="1.16" fill="#a3a4d3"/>
<rect x="225.74" y="154.33" width="18.63" height="1.16" fill="#9698cd"/>
<rect x="245.27" y="154.33" width="18.63" height="1.16" fill="#8c8ec7"/>
<rect x="46.95" y="156.34" width="18.70" height="1.16" fill="#f4c3c5"/>
<rect x="66.55" y="156.34" width="18.70" height="1.16" fill="#f1a2a2"/>
<rect x="86.15" y="156.34" width="18.70" height="1.16" fill="#ec8687"/>
<rect x="105.75" y="156.34" width="18.70" height="1.16" fill="#f7e4e7"/>
<rect x="125.35" y="156.34" width="18.70" height="1.16" fill="#ef9494"/>
<rect x="144.95" y="156.34" width="18.70" height="1.16" fill="#f2aeaf"/>
<rect x="167.15" y="156.34" width="18.63" height="1.16" fill="#b9badd"/>
<rect x="186.68" y="156.34" width="18.63" height="1.16" fill="#abadd7"/>
<rect x="206.21" y="156.34" width="18.63" height="1.16" fill="#999bcf"/>
<rect x="225.74" y="156.34" width="18.63" height="1.16" fill="#a9abd6"/>
<rect x="245.27" y="156.34" width="18.63" height="1.16" fill="#9d9fd0"/>
<rect x="46.95" y="158.34" width="18.70" height="1.16" fill="#f3bec0"/>
<rect x="66.55" y="158.34" width="18.70" height="1.16" fill="#ec8384"/>
<rect x="86.15" y="158.34" width="18.70" height="1.16" fill="#ed8a8b"/>
<rect x="105.75" y="158.34" width="18.70" height="1.16" fill="#f19f9f"/>
<rect x="125.35" y="158.34" width="18.70" height="1.16" fill="#f09999"/>
<rect x="144.95" y="158.34" width="18.70" height="1.16" fill="#f1a2a3"/>
<rect x="167.15" y="158.34" width="18.63" height="1.16" fill="#b3b4da"/>
<rect x="186.68" y="158.34" width="18.63" height="1.16" fill="#a2a4d3"/>
<rect x="206.21" y="158.34" width="18.63" height="1.16" fill="#a4a6d3"/>
<rect x="225.74" y="158.34" width="18.63" height="1.16" fill="#b1b2da"/>
<rect x="245.27" y="158.34" width="18.63" height="1.16" fill="#9d9fd0"/>
<rect x="46.95" y="160.35" width="18.70" height="1.16" fill="#ea7b7c"/>
<rect x="66.55" y="160.35" width="18.70" height="1.16" fill="#f09b9b"/>
<rect x="86.15" y="160.35" width="18.70" height="1.16" fill="#f1a7a8"/>
<rect x="105.75" y="160.35" width="18.70" height="1.16" fill="#e97879"/>
<rect x="125.35" y="160.35" width="18.70" height="1.16" fill="#f09696"/>
<rect x="144.95" y="160.35" width="18.70" height="1.16" fill="#f2aaab"/>
<rect x="167.15" y="160.35" width="18.63" height="1.16" fill="#9698cd"/>
<rect x="186.68" y="160.35" width="18.63" height="1.16" fill="#a6a7d4"/>
<rect x="206.21" y="160.35" width="18.63" height="1.16" fill="#9a9ccf"/>
<rect x="225.74" y="160.35" width="18.63" height="1.16" fill="#a4a5d3"/>
<rect x="245.27" y="160.35" width="18.63" height="1.16" fill="#afb0d8"/>
<rect x="46.95" y="162.35" width="18.70" height="1.16" fill="#f2b2b3"/>
<rect x="66.55" y="162.35" width="18.70" height="1.16" fill="#ea7e7f"/>
<rect x="86.15" y="162.35" width="18.70" height="1.16" fill="#f3bbbd"/>
<rect x="105.75" y="162.35" width="18.70" height="1.16" fill="#ef9393"/>
<rect x="125.35" y="162.35" width="18.70" height="1.16" fill="#f3b5b7"/>
<rect x="144.95" y="162.35" width="18.70" height="1.16" fill="#ef9393"/>
<rect x="167.15" y="162.35" width="18.63" height="1.16" fill="#8387c3"/>
<rect x="186.68" y="162.35" width="18.63" height="1.16" fill="#8286c2"/>
<rect x="206.21" y="162.35" width="18.63" height="1.16" fill="#9fa1d1"/>
<rect x="225.74" y="162.35" width="18.63" height="1.16" fill="#8589c4"/>
<rect x="245.27" y="162.35" width="18.63" height="1.16" fill="#b1b2d9"/>
<rect x="46.95" y="164.36" width="18.70" height="1.16" fill="#f2b1b2"/>
<rect x="66.55" y="164.36" width="18.70" height="1.16" fill="#f19d9d"/>
<rect x="86.15" y="164.36" width="18.70" height="1.16" fill="#f4c6c8"/>
<rect x="105.75" y="164.36" width="18.70" height="1.16" fill="#f09595"/>
<rect x="125.35" y="164.36" width="18.70" height="1.16" fill="#f19fa0"/>
<rect x="144.95" y="164.36" width="18.70" height="1.16" fill="#f19f9f"/>
<rect x="167.15" y="164.36" width="18.63" height="1.16" fill="#9597cd"/>
<rect x="186.68" y="164.36" width="18.63" height="1.16" fill="#c3c3e2"/>
<rect x="206.21" y="164.36" width="18.63" height="1.16" fill="#bbbbde"/>
<rect x="225.74" y="164.36" width="18.63" height="1.16" fill="#b1b2d9"/>
<rect x="245.27" y="164.36" width="18.63" height="1.16" fill="#a4a5d3"/>
<rect x="46.95" y="166.36" width="18.70" height="1.16" fill="#f19e9e"/>
<rect x="66.55" y="166.36" width="18.70" height="1.16" fill="#eb8081"/>
<rect x="86.15" y="166.36" width="18.70" height="1.16" fill="#f2abab"/>
<rect x="105.75" y="166.36" width="18.70" height="1.16" fill="#ef9292"/>
<rect x="125.35" y="166.36" width="18.70" height="1.16" fill="#f3b6b7"/>
<rect x="144.95" y="166.36" width="18.70" height="1.16" fill="#f2b2b3"/>
<rect x="167.15" y="166.36" width="18.63" height="1.16" fill="#a2a4d3"/>
<rect x="186.68" y="166.36" width="18.63" height="1.16" fill="#c3c3e2"/>
<rect x="206.21" y="166.36" width="18.63" height="1.16" fill="#b8b8dd"/>
<rect x="225.74" y="166.36" width="18.63" height="1.16" fill="#9597cc"/>
<rect x="245.27" y="166.36" width="18.63" height="1.16" fill="#9698cd"/>
<rect x="46.95" y="168.37" width="18.70" height="1.16" fill="#f09a9a"/>
<rect x="66.55" y="168.37" width="18.70" height="1.16" fill="#ee8e8e"/>
<rect x="86.15" y="168.37" width="18.70" height="1.16" fill="#eb7f80"/>
<rect x="105.75" y="168.37" width="18.70" height="1.16" fill="#f1a2a2"/>
<rect x="125.35" y="168.37" width="18.70" height="1.16" fill="#f4c9cb"/>
<rect x="144.95" y="168.37" width="18.70" height="1.16" fill="#ef9393"/>
<rect x="167.15" y="168.37" width="18.63" height="1.16" fill="#a2a3d3"/>
<rect x="186.68" y="168.37" width="18.63" height="1.16" fill="#9d9fd0"/>
<rect x="206.21" y="168.37" width="18.63" height="1.16" fill="#9b9dcf"/>
<rect x="225.74" y="168.37" width="18.63" height="1.16" fill="#686eb3"/>
<rect x="245.27" y="168.37" width="18.63" height="1.16" fill="#9194ca"/>
<rect x="46.95" y="170.38" width="18.70" height="1.16" fill="#ef9494"/>
<rect x="66.55" y="170.38" width="18.70" height="1.16" fill="#ea7b7c"/>
<rect x="86.15" y="170.38" width="18.70" height="1.16" fill="#f09797"/>
<rect x="105.75" y="170.38" width="18.70" height="1.16" fill="#f09797"/>
<rect x="125.35" y="170.38" width="18.70" height="1.16" fill="#f1a5a6"/>
<rect x="144.95" y="170.38" width="18.70" height="1.16" fill="#ea797b"/>
<rect x="167.15" y="170.38" width="18.63" height="1.16" fill="#abacd6"/>
<rect x="186.68" y="170.38" width="18.63" height="1.16" fill="#afb0d9"/>
<rect x="206.21" y="170.38" width="18.63" height="1.16" fill="#8488c3"/>
<rect x="225.74" y="170.38" width="18.63" height="1.16" fill="#9092ca"/>
<rect x="245.27" y="170.38" width="18.63" height="1.16" fill="#7a7fbd"/>
<rect x="46.95" y="172.38" width="18.70" height="1.16" fill="#eb8283"/>
<rect x="66.55" y="172.38" width="18.70" height="1.16" fill="#f2aaab"/>
<rect x="86.15" y="172.38" width="18.70" height="1.16" fill="#f19e9f"/>
<rect x="105.75" y="172.38" width="18.70" height="1.16" fill="#f09a9a"/>
<rect x="125.35" y="172.38" width="18.70" height="1.16" fill="#f2a8a9"/>
<rect x="144.95" y="172.38" width="18.70" height="1.16" fill="#ea7a7b"/>
<rect x="167.15" y="172.38" width="18.63" height="1.16" fill="#9b9dcf"/>
<rect x="186.68" y="172.38" width="18.63" height="1.16" fill="#9799ce"/>
<rect x="206.21" y="172.38" width="18.63" height="1.16" fill="#9ea0d1"/>
<rect x="225.74" y="172.38" width="18.63" height="1.16" fill="#767bbb"/>
<rect x="245.27" y="172.38" width="18.63" height="1.16" fill="#8c8ec7"/>
<rect x="46.95" y="174.39" width="18.70" height="1.16" fill="#f1a2a2"/>
<rect x="66.55" y="174.39" width="18.70" height="1.16" fill="#f09999"/>
<rect x="86.15" y="174.39" width="18.70" height="1.16" fill="#ef9293"/>
<rect x="105.75" y="174.39" width="18.70" height="1.16" fill="#f2b0b2"/>
<rect x="125.35" y="174.39" width="18.70" height="1.16" fill="#f1a6a7"/>
<rect x="144.95" y="174.39" width="18.70" height="1.16" fill="#e2595c"/>
<rect x="167.15" y="174.39" width="18.63" height="1.16" fill="#a3a4d3"/>
<rect x="186.68" y="174.39" width="18.63" height="1.16" fill="#787dbd"/>
<rect x="206.21" y="174.39" width="18.63" height="1.16" fill="#9496cc"/>
<rect x="225.74" y="174.39" width="18.63" height="1.16" fill="#9a9ccf"/>
<rect x="245.27" y="174.39" width="18.63" height="1.16" fill="#a2a4d3"/>
<rect x="46.95" y="176.39" width="18.70" height="1.16" fill="#f3babb"/>
<rect x="66.55" y="176.39" width="18.70" height="1.16" fill="#f7e6e9"/>
<rect x="86.15" y="176.39" width="18.70" height="1.16" fill="#ef9393"/>
<rect x="105.75" y="176.39" width="18.70" height="1.16" fill="#f1a2a3"/>
<rect x="125.35" y="176.39" width="18.70" height="1.16" fill="#f19e9e"/>
<rect x="144.95" y="176.39" width="18.70" height="1.16" fill="#f1a0a0"/>
<rect x="167.15" y="176.39" width="18.63" height="1.16" fill="#a2a4d3"/>
<rect x="186.68" y="176.39" width="18.63" height="1.16" fill="#b8b9dd"/>
<rect x="206.21" y="176.39" width="18.63" height="1.16" fill="#8b8ec7"/>
<rect x="225.74" y="176.39" width="18.63" height="1.16" fill="#b3b4da"/>
<rect x="245.27" y="176.39" width="18.63" height="1.16" fill="#9193ca"/>
<rect x="46.95" y="178.40" width="18.70" height="1.16" fill="#f7e9ec"/>
<rect x="66.55" y="178.40" width="18.70" height="1.16" fill="#f1a2a2"/>
<rect x="86.15" y="178.40" width="18.70" height="1.16" fill="#f1a1a1"/>
<rect x="105.75" y="178.40" width="18.70" height="1.16" fill="#f1a6a7"/>
<rect x="125.35" y="178.40" width="18.70" height="1.16" fill="#f1a8a8"/>
<rect x="144.95" y="178.40" width="18.70" height="1.16" fill="#e9797a"/>
<rect x="167.15" y="178.40" width="18.63" height="1.16" fill="#b3b3da"/>
<rect x="186.68" y="178.40" width="18.63" height="1.16" fill="#8f92c9"/>
<rect x="206.21" y="178.40" width="18.63" height="1.16" fill="#8084c1"/>
<rect x="225.74" y="178.40" width="18.63" height="1.16" fill="#8d90c8"/>
<rect x="245.27" y="178.40" width="18.63" height="1.16" fill="#a4a6d4"/>
<rect x="46.95" y="180.40" width="18.70" height="1.16" fill="#f6f4f9"/>
<rect x="66.55" y="180.40" width="18.70" height="1.16" fill="#f3bcbe"/>
<rect x="86.15" y="180.40" width="18.70" height="1.16" fill="#f1a4a4"/>
<rect x="105.75" y="180.40" width="18.70" height="1.16" fill="#f2aaaa"/>
<rect x="125.35" y="180.40" width="18.70" height="1.16" fill="#f3b6b7"/>
<rect x="144.95" y="180.40" width="18.70" height="1.16" fill="#f09898"/>
<rect x="167.15" y="180.40" width="18.63" height="1.16" fill="#9c9ed0"/>
<rect x="186.68" y="180.40" width="18.63" height="1.16" fill="#7f83c0"/>
<rect x="206.21" y="180.40" width="18.63" height="1.16" fill="#9295cb"/>
<rect x="225.74" y="180.40" width="18.63" height="1.16" fill="#b7b8dc"/>
<rect x="245.27" y="180.40" width="18.63" height="1.16" fill="#a4a6d4"/>
<rect x="46.95" y="182.41" width="18.70" height="1.16" fill="#f8f1f5"/>
<rect x="66.55" y="182.41" width="18.70" height="1.16" fill="#f4c6c8"/>
<rect x="86.15" y="182.41" width="18.70" height="1.16" fill="#f09797"/>
<rect x="105.75" y="182.41" width="18.70" height="1.16" fill="#f19f9f"/>
<rect x="125.35" y="182.41" width="18.70" height="1.16" fill="#f09494"/>
<rect x="144.95" y="182.41" width="18.70" height="1.16" fill="#f09696"/>
<rect x="167.15" y="182.41" width="18.63" height="1.16" fill="#7f83c0"/>
<rect x="186.68" y="182.41" width="18.63" height="1.16" fill="#f0eef6"/>
<rect x="206.21" y="182.41" width="18.63" height="1.16" fill="#9c9ed0"/>
<rect x="225.74" y="182.41" width="18.63" height="1.16" fill="#9fa0d1"/>
<rect x="245.27" y="182.41" width="18.63" height="1.16" fill="#9092ca"/>
<rect x="46.95" y="184.42" width="18.70" height="1.16" fill="#f09999"/>
<rect x="66.55" y="184.42" width="18.70" height="1.16" fill="#f7eef2"/>
<rect x="86.15" y="184.42" width="18.70" height="1.16" fill="#f19fa0"/>
<rect x="105.75" y="184.42" width="18.70" height="1.16" fill="#f2aeaf"/>
<rect x="125.35" y="184.42" width="18.70" height="1.16" fill="#f09b9b"/>
<rect x="144.95" y="184.42" width="18.70" height="1.16" fill="#ef9090"/>
<rect x="167.15" y="184.42" width="18.63" height="1.16" fill="#7c81bf"/>
<rect x="186.68" y="184.42" width="18.63" height="1.16" fill="#7378b9"/>
<rect x="206.21" y="184.42" width="18.63" height="1.16" fill="#9a9ccf"/>
<rect x="225.74" y="184.42" width="18.63" height="1.16" fill="#9294cb"/>
<rect x="245.27" y="184.42" width="18.63" height="1.16" fill="#aaabd6"/>
<rect x="46.95" y="192.80" width="18.70" height="1.10" fill="#989ace"/>
<rect x="66.55" y="192.80" width="18.70" height="1.10" fill="#f3bbbc"/>
<rect x="86.15" y="192.80" width="18.70" height="1.10" fill="#989ace"/>
<rect x="105.75" y="192.80" width="18.70" height="1.10" fill="#9395cb"/>
<rect x="125.35" y="192.80" width="18.70" height="1.10" fill="#b8b8dc"/>
<rect x="144.95" y="192.80" width="18.70" height="1.10" fill="#a2a4d3"/>
<rect x="167.15" y="192.80" width="18.63" height="1.10" fill="#f2a8a9"/>
<rect x="186.68" y="192.80" width="18.63" height="1.10" fill="#f8f5f9"/>
<rect x="206.21" y="192.80" width="18.63" height="1.10" fill="#f4c6c8"/>
<rect x="225.74" y="192.80" width="18.63" height="1.10" fill="#f2b4b5"/>
<rect x="245.27" y="192.80" width="18.63" height="1.10" fill="#f09b9c"/>
<rect x="46.95" y="194.69" width="18.70" height="1.10" fill="#9a9ccf"/>
<rect x="66.55" y="194.69" width="18.70" height="1.10" fill="#f2aaab"/>
<rect x="86.15" y="194.69" width="18.70" height="1.10" fill="#8a8dc7"/>
<rect x="105.75" y="194.69" width="18.70" height="1.10" fill="#a3a5d3"/>
<rect x="125.35" y="194.69" width="18.70" height="1.10" fill="#7e82c0"/>
<rect x="144.95" y="194.69" width="18.70" height="1.10" fill="#adaed8"/>
<rect x="167.15" y="194.69" width="18.63" height="1.10" fill="#f3babc"/>
<rect x="186.68" y="194.69" width="18.63" height="1.10" fill="#f4c2c4"/>
<rect x="206.21" y="194.69" width="18.63" height="1.10" fill="#f19f9f"/>
<rect x="225.74" y="194.69" width="18.63" height="1.10" fill="#f4c4c6"/>
<rect x="245.27" y="194.69" width="18.63" height="1.10" fill="#f3babc"/>
<rect x="46.95" y="196.58" width="18.70" height="1.10" fill="#b1b1d9"/>
<rect x="66.55" y="196.58" width="18.70" height="1.10" fill="#f1a2a3"/>
<rect x="86.15" y="196.58" width="18.70" height="1.10" fill="#e5e3f1"/>
<rect x="105.75" y="196.58" width="18.70" height="1.10" fill="#989ace"/>
<rect x="125.35" y="196.58" width="18.70" height="1.10" fill="#7075b8"/>
<rect x="144.95" y="196.58" width="18.70" height="1.10" fill="#9496cc"/>
<rect x="167.15" y="196.58" width="18.63" height="1.10" fill="#f2aaab"/>
<rect x="186.68" y="196.58" width="18.63" height="1.10" fill="#f2afb0"/>
<rect x="206.21" y="196.58" width="18.63" height="1.10" fill="#f7e6e9"/>
<rect x="225.74" y="196.58" width="18.63" height="1.10" fill="#f2abac"/>
<rect x="245.27" y="196.58" width="18.63" height="1.10" fill="#ea7c7d"/>
<rect x="46.95" y="198.47" width="18.70" height="1.10" fill="#f7f5fa"/>
<rect x="66.55" y="198.47" width="18.70" height="1.10" fill="#f1a0a0"/>
<rect x="86.15" y="198.47" width="18.70" height="1.10" fill="#9194ca"/>
<rect x="105.75" y="198.47" width="18.70" height="1.10" fill="#f4f2f8"/>
<rect x="125.35" y="198.47" width="18.70" height="1.10" fill="#8689c4"/>
<rect x="144.95" y="198.47" width="18.70" height="1.10" fill="#f4c5c7"/>
<rect x="167.15" y="198.47" width="18.63" height="1.10" fill="#f4c1c3"/>
<rect x="186.68" y="198.47" width="18.63" height="1.10" fill="#f4c8ca"/>
<rect x="206.21" y="198.47" width="18.63" height="1.10" fill="#f4c6c8"/>
<rect x="225.74" y="198.47" width="18.63" height="1.10" fill="#f1a6a7"/>
<rect x="245.27" y="198.47" width="18.63" height="1.10" fill="#f5d7da"/>
<rect x="46.95" y="200.36" width="18.70" height="1.10" fill="#f8f1f5"/>
<rect x="66.55" y="200.36" width="18.70" height="1.10" fill="#f19e9f"/>
<rect x="86.15" y="200.36" width="18.70" height="1.10" fill="#878ac4"/>
<rect x="105.75" y="200.36" width="18.70" height="1.10" fill="#f3bdbf"/>
<rect x="125.35" y="200.36" width="18.70" height="1.10" fill="#9395cb"/>
<rect x="144.95" y="200.36" width="18.70" height="1.10" fill="#f3bdbf"/>
<rect x="167.15" y="200.36" width="18.63" height="1.10" fill="#f3bfc1"/>
<rect x="186.68" y="200.36" width="18.63" height="1.10" fill="#f2a9aa"/>
<rect x="206.21" y="200.36" width="18.63" height="1.10" fill="#f7f0f4"/>
<rect x="225.74" y="200.36" width="18.63" height="1.10" fill="#ee8e8e"/>
<rect x="245.27" y="200.36" width="18.63" height="1.10" fill="#f09b9b"/>
<rect x="46.95" y="202.26" width="18.70" height="1.10" fill="#ed8889"/>
<rect x="66.55" y="202.26" width="18.70" height="1.10" fill="#7f83c0"/>
<rect x="86.15" y="202.26" width="18.70" height="1.10" fill="#8689c4"/>
<rect x="105.75" y="202.26" width="18.70" height="1.10" fill="#f7f5fa"/>
<rect x="125.35" y="202.26" width="18.70" height="1.10" fill="#7b7fbe"/>
<rect x="144.95" y="202.26" width="18.70" height="1.10" fill="#f1a0a1"/>
<rect x="167.15" y="202.26" width="18.63" height="1.10" fill="#f2aaaa"/>
<rect x="186.68" y="202.26" width="18.63" height="1.10" fill="#cbcae5"/>
<rect x="206.21" y="202.26" width="18.63" height="1.10" fill="#f1a3a3"/>
<rect x="225.74" y="202.26" width="18.63" height="1.10" fill="#f3bbbd"/>
<rect x="245.27" y="202.26" width="18.63" height="1.10" fill="#f2b0b1"/>
<rect x="46.95" y="204.15" width="18.70" height="1.10" fill="#ef9292"/>
<rect x="66.55" y="204.15" width="18.70" height="1.10" fill="#8488c3"/>
<rect x="86.15" y="204.15" width="18.70" height="1.10" fill="#9496cc"/>
<rect x="105.75" y="204.15" width="18.70" height="1.10" fill="#aaabd6"/>
<rect x="125.35" y="204.15" width="18.70" height="1.10" fill="#a9aad6"/>
<rect x="144.95" y="204.15" width="18.70" height="1.10" fill="#9194ca"/>
<rect x="167.15" y="204.15" width="18.63" height="1.10" fill="#ec8787"/>
<rect x="186.68" y="204.15" width="18.63" height="1.10" fill="#c4c4e2"/>
<rect x="206.21" y="204.15" width="18.63" height="1.10" fill="#b3b4da"/>
<rect x="225.74" y="204.15" width="18.63" height="1.10" fill="#f1a4a5"/>
<rect x="245.27" y="204.15" width="18.63" height="1.10" fill="#f09595"/>
<rect x="46.95" y="206.04" width="18.70" height="1.10" fill="#ec8485"/>
<rect x="66.55" y="206.04" width="18.70" height="1.10" fill="#787dbc"/>
<rect x="86.15" y="206.04" width="18.70" height="1.10" fill="#8487c3"/>
<rect x="105.75" y="206.04" width="18.70" height="1.10" fill="#c7c7e3"/>
<rect x="125.35" y="206.04" width="18.70" height="1.10" fill="#f6f4f9"/>
<rect x="144.95" y="206.04" width="18.70" height="1.10" fill="#b2b3da"/>
<rect x="167.15" y="206.04" width="18.63" height="1.10" fill="#ea7c7d"/>
<rect x="186.68" y="206.04" width="18.63" height="1.10" fill="#b8b8dc"/>
<rect x="206.21" y="206.04" width="18.63" height="1.10" fill="#f4c6c8"/>
<rect x="225.74" y="206.04" width="18.63" height="1.10" fill="#f3bcbd"/>
<rect x="245.27" y="206.04" width="18.63" height="1.10" fill="#ef9292"/>
<rect x="46.95" y="207.93" width="18.70" height="1.10" fill="#f4c4c6"/>
<rect x="66.55" y="207.93" width="18.70" height="1.10" fill="#9395cb"/>
<rect x="86.15" y="207.93" width="18.70" height="1.10" fill="#7d81bf"/>
<rect x="105.75" y="207.93" width="18.70" height="1.10" fill="#f4c1c3"/>
<rect x="125.35" y="207.93" width="18.70" height="1.10" fill="#f2f0f7"/>
<rect x="144.95" y="207.93" width="18.70" height="1.10" fill="#a7a9d5"/>
<rect x="167.15" y="207.93" width="18.63" height="1.10" fill="#ed8a8b"/>
<rect x="186.68" y="207.93" width="18.63" height="1.10" fill="#f8f5f9"/>
<rect x="206.21" y="207.93" width="18.63" height="1.10" fill="#f3bbbd"/>
<rect x="225.74" y="207.93" width="18.63" height="1.10" fill="#f2abac"/>
<rect x="245.27" y="207.93" width="18.63" height="1.10" fill="#ec8485"/>
<rect x="46.95" y="209.82" width="18.70" height="1.10" fill="#f3f2f8"/>
<rect x="66.55" y="209.82" width="18.70" height="1.10" fill="#8d90c8"/>
<rect x="86.15" y="209.82" width="18.70" height="1.10" fill="#7a7fbe"/>
<rect x="105.75" y="209.82" width="18.70" height="1.10" fill="#f2aeaf"/>
<rect x="125.35" y="209.82" width="18.70" height="1.10" fill="#8185c1"/>
<rect x="144.95" y="209.82" width="18.70" height="1.10" fill="#a7a8d5"/>
<rect x="167.15" y="209.82" width="18.63" height="1.10" fill="#ec8586"/>
<rect x="186.68" y="209.82" width="18.63" height="1.10" fill="#bcbddf"/>
<rect x="206.21" y="209.82" width="18.63" height="1.10" fill="#f4c3c5"/>
<rect x="225.74" y="209.82" width="18.63" height="1.10" fill="#f19fa0"/>
<rect x="245.27" y="209.82" width="18.63" height="1.10" fill="#f09494"/>
<rect x="46.95" y="211.71" width="18.70" height="1.10" fill="#f7eef1"/>
<rect x="66.55" y="211.71" width="18.70" height="1.10" fill="#f3bfc1"/>
<rect x="86.15" y="211.71" width="18.70" height="1.10" fill="#7378ba"/>
<rect x="105.75" y="211.71" width="18.70" height="1.10" fill="#b4b5db"/>
<rect x="125.35" y="211.71" width="18.70" height="1.10" fill="#8d90c8"/>
<rect x="144.95" y="211.71" width="18.70" height="1.10" fill="#a6a8d5"/>
<rect x="167.15" y="211.71" width="18.63" height="1.10" fill="#e25b5d"/>
<rect x="186.68" y="211.71" width="18.63" height="1.10" fill="#f3bbbd"/>
<rect x="206.21" y="211.71" width="18.63" height="1.10" fill="#ed8a8a"/>
<rect x="225.74" y="211.71" width="18.63" height="1.10" fill="#f3b8ba"/>
<rect x="245.27" y="211.71" width="18.63" height="1.10" fill="#ee8e8e"/>
<rect x="46.95" y="213.61" width="18.70" height="1.10" fill="#b3b4da"/>
<rect x="66.55" y="213.61" width="18.70" height="1.10" fill="#a7a9d5"/>
<rect x="86.15" y="213.61" width="18.70" height="1.10" fill="#8689c4"/>
<rect x="105.75" y="213.61" width="18.70" height="1.10" fill="#c3c3e2"/>
<rect x="125.35" y="213.61" width="18.70" height="1.10" fill="#8e90c8"/>
<rect x="144.95" y="213.61" width="18.70" height="1.10" fill="#aeafd8"/>
<rect x="167.15" y="213.61" width="18.63" height="1.10" fill="#e15558"/>
<rect x="186.68" y="213.61" width="18.63" height="1.10" fill="#f4c1c2"/>
<rect x="206.21" y="213.61" width="18.63" height="1.10" fill="#f1a0a0"/>
<rect x="225.74" y="213.61" width="18.63" height="1.10" fill="#f2abac"/>
<rect x="245.27" y="213.61" width="18.63" height="1.10" fill="#f09696"/>
<rect x="46.95" y="222.42" width="18.70" height="1.16" fill="#f2f0f7"/>
<rect x="66.55" y="222.42" width="18.70" height="1.16" fill="#f1a5a6"/>
<rect x="86.15" y="222.42" width="18.70" height="1.16" fill="#f09797"/>
<rect x="105.75" y="222.42" width="18.70" height="1.16" fill="#cbcbe5"/>
<rect x="125.35" y="222.42" width="18.70" height="1.16" fill="#f2b1b3"/>
<rect x="144.95" y="222.42" width="18.70" height="1.16" fill="#c7c7e4"/>
<rect x="167.15" y="222.42" width="18.63" height="1.16" fill="#a5a6d4"/>
<rect x="186.68" y="222.42" width="18.63" height="1.16" fill="#afb0d8"/>
<rect x="206.21" y="222.42" width="18.63" height="1.16" fill="#f09999"/>
<rect x="225.74" y="222.42" width="18.63" height="1.16" fill="#f6f4f9"/>
<rect x="245.27" y="222.42" width="18.63" height="1.16" fill="#b9badd"/>
<rect x="46.95" y="224.41" width="18.70" height="1.16" fill="#999bcf"/>
<rect x="66.55" y="224.41" width="18.70" height="1.16" fill="#f2b1b3"/>
<rect x="86.15" y="224.41" width="18.70" height="1.16" fill="#ef9393"/>
<rect x="105.75" y="224.41" width="18.70" height="1.16" fill="#f3b5b6"/>
<rect x="125.35" y="224.41" width="18.70" height="1.16" fill="#f7e6ea"/>
<rect x="144.95" y="224.41" width="18.70" height="1.16" fill="#a6a7d4"/>
<rect x="167.15" y="224.41" width="18.63" height="1.16" fill="#f19e9e"/>
<rect x="186.68" y="224.41" width="18.63" height="1.16" fill="#f4c9cb"/>
<rect x="206.21" y="224.41" width="18.63" height="1.16" fill="#eb7f80"/>
<rect x="225.74" y="224.41" width="18.63" height="1.16" fill="#bebfdf"/>
<rect x="245.27" y="224.41" width="18.63" height="1.16" fill="#c1c1e1"/>
<rect x="46.95" y="226.41" width="18.70" height="1.16" fill="#7d81bf"/>
<rect x="66.55" y="226.41" width="18.70" height="1.16" fill="#e66c6e"/>
<rect x="86.15" y="226.41" width="18.70" height="1.16" fill="#f19d9e"/>
<rect x="105.75" y="226.41" width="18.70" height="1.16" fill="#f2a9aa"/>
<rect x="125.35" y="226.41" width="18.70" height="1.16" fill="#f7e8eb"/>
<rect x="144.95" y="226.41" width="18.70" height="1.16" fill="#e5e4f1"/>
<rect x="167.15" y="226.41" width="18.63" height="1.16" fill="#f3bbbc"/>
<rect x="186.68" y="226.41" width="18.63" height="1.16" fill="#e7e6f2"/>
<rect x="206.21" y="226.41" width="18.63" height="1.16" fill="#e9797a"/>
<rect x="225.74" y="226.41" width="18.63" height="1.16" fill="#afb0d9"/>
<rect x="245.27" y="226.41" width="18.63" height="1.16" fill="#f4f2f8"/>
<rect x="46.95" y="228.40" width="18.70" height="1.16" fill="#8e91c9"/>
<rect x="66.55" y="228.40" width="18.70" height="1.16" fill="#e2575a"/>
<rect x="86.15" y="228.40" width="18.70" height="1.16" fill="#eb8182"/>
<rect x="105.75" y="228.40" width="18.70" height="1.16" fill="#f1a7a8"/>
<rect x="125.35" y="228.40" width="18.70" height="1.16" fill="#f6e0e3"/>
<rect x="144.95" y="228.40" width="18.70" height="1.16" fill="#a6a7d4"/>
<rect x="167.15" y="228.40" width="18.63" height="1.16" fill="#f3b8b9"/>
<rect x="186.68" y="228.40" width="18.63" height="1.16" fill="#b3b4da"/>
<rect x="206.21" y="228.40" width="18.63" height="1.16" fill="#f1a6a7"/>
<rect x="225.74" y="228.40" width="18.63" height="1.16" fill="#cacae5"/>
<rect x="245.27" y="228.40" width="18.63" height="1.16" fill="#adaed7"/>
<rect x="46.95" y="230.39" width="18.70" height="1.16" fill="#a1a2d2"/>
<rect x="66.55" y="230.39" width="18.70" height="1.16" fill="#f3bcbe"/>
<rect x="86.15" y="230.39" width="18.70" height="1.16" fill="#f3b4b6"/>
<rect x="105.75" y="230.39" width="18.70" height="1.16" fill="#f2afb0"/>
<rect x="125.35" y="230.39" width="18.70" height="1.16" fill="#f5d4d6"/>
<rect x="144.95" y="230.39" width="18.70" height="1.16" fill="#a0a2d2"/>
<rect x="167.15" y="230.39" width="18.63" height="1.16" fill="#c4c4e2"/>
<rect x="186.68" y="230.39" width="18.63" height="1.16" fill="#b7b7dc"/>
<rect x="206.21" y="230.39" width="18.63" height="1.16" fill="#e97779"/>
<rect x="225.74" y="230.39" width="18.63" height="1.16" fill="#f7eef2"/>
<rect x="245.27" y="230.39" width="18.63" height="1.16" fill="#f8f3f6"/>
<rect x="46.95" y="232.39" width="18.70" height="1.16" fill="#b7b7dc"/>
<rect x="66.55" y="232.39" width="18.70" height="1.16" fill="#f4cacc"/>
<rect x="86.15" y="232.39" width="18.70" height="1.16" fill="#ef8f90"/>
<rect x="105.75" y="232.39" width="18.70" height="1.16" fill="#ec8384"/>
<rect x="125.35" y="232.39" width="18.70" height="1.16" fill="#f4cacc"/>
<rect x="144.95" y="232.39" width="18.70" height="1.16" fill="#9295cb"/>
<rect x="167.15" y="232.39" width="18.63" height="1.16" fill="#edecf5"/>
<rect x="186.68" y="232.39" width="18.63" height="1.16" fill="#bebedf"/>
<rect x="206.21" y="232.39" width="18.63" height="1.16" fill="#ed8b8b"/>
<rect x="225.74" y="232.39" width="18.63" height="1.16" fill="#f4c7ca"/>
<rect x="245.27" y="232.39" width="18.63" height="1.16" fill="#f2b0b1"/>
<rect x="46.95" y="234.38" width="18.70" height="1.16" fill="#e7e6f2"/>
<rect x="66.55" y="234.38" width="18.70" height="1.16" fill="#f8f1f5"/>
<rect x="86.15" y="234.38" width="18.70" height="1.16" fill="#f1f0f7"/>
<rect x="105.75" y="234.38" width="18.70" height="1.16" fill="#f2b1b2"/>
<rect x="125.35" y="234.38" width="18.70" height="1.16" fill="#f3bebf"/>
<rect x="144.95" y="234.38" width="18.70" height="1.16" fill="#8f92c9"/>
<rect x="167.15" y="234.38" width="18.63" height="1.16" fill="#9799ce"/>
<rect x="186.68" y="234.38" width="18.63" height="1.16" fill="#b1b2d9"/>
<rect x="206.21" y="234.38" width="18.63" height="1.16" fill="#f0999a"/>
<rect x="225.74" y="234.38" width="18.63" height="1.16" fill="#c1c1e1"/>
<rect x="245.27" y="234.38" width="18.63" height="1.16" fill="#e2585a"/>
<rect x="46.95" y="236.37" width="18.70" height="1.16" fill="#b7b8dc"/>
<rect x="66.55" y="236.37" width="18.70" height="1.16" fill="#f19e9e"/>
<rect x="86.15" y="236.37" width="18.70" height="1.16" fill="#9295cb"/>
<rect x="105.75" y="236.37" width="18.70" height="1.16" fill="#f1a3a4"/>
<rect x="125.35" y="236.37" width="18.70" height="1.16" fill="#f8f2f6"/>
<rect x="144.95" y="236.37" width="18.70" height="1.16" fill="#f2aaab"/>
<rect x="167.15" y="236.37" width="18.63" height="1.16" fill="#9496cc"/>
<rect x="186.68" y="236.37" width="18.63" height="1.16" fill="#7479ba"/>
<rect x="206.21" y="236.37" width="18.63" height="1.16" fill="#e87576"/>
<rect x="225.74" y="236.37" width="18.63" height="1.16" fill="#f4f2f8"/>
<rect x="245.27" y="236.37" width="18.63" height="1.16" fill="#9698cd"/>
<rect x="46.95" y="238.37" width="18.70" height="1.16" fill="#f8f3f7"/>
<rect x="66.55" y="238.37" width="18.70" height="1.16" fill="#a2a3d2"/>
<rect x="86.15" y="238.37" width="18.70" height="1.16" fill="#aeafd8"/>
<rect x="105.75" y="238.37" width="18.70" height="1.16" fill="#f3bec0"/>
<rect x="125.35" y="238.37" width="18.70" height="1.16" fill="#f5f3f9"/>
<rect x="144.95" y="238.37" width="18.70" height="1.16" fill="#e35e61"/>
<rect x="167.15" y="238.37" width="18.63" height="1.16" fill="#f2aeaf"/>
<rect x="186.68" y="238.37" width="18.63" height="1.16" fill="#8d90c8"/>
<rect x="206.21" y="238.37" width="18.63" height="1.16" fill="#ef9393"/>
<rect x="225.74" y="238.37" width="18.63" height="1.16" fill="#9396cc"/>
<rect x="245.27" y="238.37" width="18.63" height="1.16" fill="#9e9fd1"/>
<rect x="46.95" y="240.36" width="18.70" height="1.16" fill="#b6b6dc"/>
<rect x="66.55" y="240.36" width="18.70" height="1.16" fill="#8084c1"/>
<rect x="86.15" y="240.36" width="18.70" height="1.16" fill="#f8f1f5"/>
<rect x="105.75" y="240.36" width="18.70" height="1.16" fill="#f3b9ba"/>
<rect x="125.35" y="240.36" width="18.70" height="1.16" fill="#f8f3f7"/>
<rect x="144.95" y="240.36" width="18.70" height="1.16" fill="#f2a9aa"/>
<rect x="167.15" y="240.36" width="18.63" height="1.16" fill="#f09999"/>
<rect x="186.68" y="240.36" width="18.63" height="1.16" fill="#babadd"/>
<rect x="206.21" y="240.36" width="18.63" height="1.16" fill="#f1a7a7"/>
<rect x="225.74" y="240.36" width="18.63" height="1.16" fill="#9fa1d1"/>
<rect x="245.27" y="240.36" width="18.63" height="1.16" fill="#a9abd6"/>
<rect x="46.95" y="242.35" width="18.70" height="1.16" fill="#aaabd6"/>
<rect x="66.55" y="242.35" width="18.70" height="1.16" fill="#abadd7"/>
<rect x="86.15" y="242.35" width="18.70" height="1.16" fill="#f1a3a4"/>
<rect x="105.75" y="242.35" width="18.70" height="1.16" fill="#e2585b"/>
<rect x="125.35" y="242.35" width="18.70" height="1.16" fill="#e2e1f0"/>
<rect x="144.95" y="242.35" width="18.70" height="1.16" fill="#f2b0b1"/>
<rect x="167.15" y="242.35" width="18.63" height="1.16" fill="#f2aaab"/>
<rect x="186.68" y="242.35" width="18.63" height="1.16" fill="#a7a8d5"/>
<rect x="206.21" y="242.35" width="18.63" height="1.16" fill="#f2adae"/>
<rect x="225.74" y="242.35" width="18.63" height="1.16" fill="#c1c2e1"/>
<rect x="245.27" y="242.35" width="18.63" height="1.16" fill="#e5e4f1"/>
<rect x="46.95" y="244.35" width="18.70" height="1.16" fill="#c2c2e1"/>
<rect x="66.55" y="244.35" width="18.70" height="1.16" fill="#b2b3da"/>
<rect x="86.15" y="244.35" width="18.70" height="1.16" fill="#f3bbbd"/>
<rect x="105.75" y="244.35" width="18.70" height="1.16" fill="#f2acad"/>
<rect x="125.35" y="244.35" width="18.70" height="1.16" fill="#f1a5a5"/>
<rect x="144.95" y="244.35" width="18.70" height="1.16" fill="#f1a3a3"/>
<rect x="167.15" y="244.35" width="18.63" height="1.16" fill="#f0999a"/>
<rect x="186.68" y="244.35" width="18.63" height="1.16" fill="#b2b2da"/>
<rect x="206.21" y="244.35" width="18.63" height="1.16" fill="#f1a2a3"/>
<rect x="225.74" y="244.35" width="18.63" height="1.16" fill="#cacae5"/>
<rect x="245.27" y="244.35" width="18.63" height="1.16" fill="#b5b6db"/>
<rect x="46.95" y="246.34" width="18.70" height="1.16" fill="#c1c2e1"/>
<rect x="66.55" y="246.34" width="18.70" height="1.16" fill="#f09c9c"/>
<rect x="86.15" y="246.34" width="18.70" height="1.16" fill="#cbcbe5"/>
<rect x="105.75" y="246.34" width="18.70" height="1.16" fill="#f3bec0"/>
<rect x="125.35" y="246.34" width="18.70" height="1.16" fill="#f5d1d3"/>
<rect x="144.95" y="246.34" width="18.70" height="1.16" fill="#f4c1c3"/>
<rect x="167.15" y="246.34" width="18.63" height="1.16" fill="#ef9393"/>
<rect x="186.68" y="246.34" width="18.63" height="1.16" fill="#898cc6"/>
<rect x="206.21" y="246.34" width="18.63" height="1.16" fill="#999bce"/>
<rect x="225.74" y="246.34" width="18.63" height="1.16" fill="#bebedf"/>
<rect x="245.27" y="246.34" width="18.63" height="1.16" fill="#7c80bf"/>
<rect x="46.95" y="248.33" width="18.70" height="1.16" fill="#b6b6dc"/>
<rect x="66.55" y="248.33" width="18.70" height="1.16" fill="#f19fa0"/>
<rect x="86.15" y="248.33" width="18.70" height="1.16" fill="#b3b4db"/>
<rect x="105.75" y="248.33" width="18.70" height="1.16" fill="#f3c0c1"/>
<rect x="125.35" y="248.33" width="18.70" height="1.16" fill="#f5d4d7"/>
<rect x="144.95" y="248.33" width="18.70" height="1.16" fill="#f3bfc1"/>
<rect x="167.15" y="248.33" width="18.63" height="1.16" fill="#ec8384"/>
<rect x="186.68" y="248.33" width="18.63" height="1.16" fill="#9d9fd0"/>
<rect x="206.21" y="248.33" width="18.63" height="1.16" fill="#797dbd"/>
<rect x="225.74" y="248.33" width="18.63" height="1.16" fill="#c4c4e2"/>
<rect x="245.27" y="248.33" width="18.63" height="1.16" fill="#b1b2da"/>
<rect x="46.95" y="250.33" width="18.70" height="1.16" fill="#a8a9d5"/>
<rect x="66.55" y="250.33" width="18.70" height="1.16" fill="#f2adae"/>
<rect x="86.15" y="250.33" width="18.70" height="1.16" fill="#f2b0b1"/>
<rect x="105.75" y="250.33" width="18.70" height="1.16" fill="#f7edf1"/>
<rect x="125.35" y="250.33" width="18.70" height="1.16" fill="#f2f0f7"/>
<rect x="144.95" y="250.33" width="18.70" height="1.16" fill="#f09a9a"/>
<rect x="167.15" y="250.33" width="18.63" height="1.16" fill="#f2aeaf"/>
<rect x="186.68" y="250.33" width="18.63" height="1.16" fill="#9496cc"/>
<rect x="206.21" y="250.33" width="18.63" height="1.16" fill="#545ca9"/>
<rect x="225.74" y="250.33" width="18.63" height="1.16" fill="#f2acad"/>
<rect x="245.27" y="250.33" width="18.63" height="1.16" fill="#aaabd6"/>
<rect x="46.95" y="252.32" width="18.70" height="1.16" fill="#f7eff2"/>
<rect x="66.55" y="252.32" width="18.70" height="1.16" fill="#f4c9cb"/>
<rect x="86.15" y="252.32" width="18.70" height="1.16" fill="#eb8182"/>
<rect x="105.75" y="252.32" width="18.70" height="1.16" fill="#f1a1a2"/>
<rect x="125.35" y="252.32" width="18.70" height="1.16" fill="#f7e5e8"/>
<rect x="144.95" y="252.32" width="18.70" height="1.16" fill="#8f92c9"/>
<rect x="167.15" y="252.32" width="18.63" height="1.16" fill="#f3b8b9"/>
<rect x="186.68" y="252.32" width="18.63" height="1.16" fill="#8487c3"/>
<rect x="206.21" y="252.32" width="18.63" height="1.16" fill="#878bc5"/>
<rect x="225.74" y="252.32" width="18.63" height="1.16" fill="#f3bfc1"/>
<rect x="245.27" y="252.32" width="18.63" height="1.16" fill="#a8a9d5"/>
<rect x="46.95" y="254.31" width="18.70" height="1.16" fill="#ee8f90"/>
<rect x="66.55" y="254.31" width="18.70" height="1.16" fill="#f3bcbd"/>
<rect x="86.15" y="254.31" width="18.70" height="1.16" fill="#ec8485"/>
<rect x="105.75" y="254.31" width="18.70" height="1.16" fill="#8b8ec7"/>
<rect x="125.35" y="254.31" width="18.70" height="1.16" fill="#f5cfd1"/>
<rect x="144.95" y="254.31" width="18.70" height="1.16" fill="#9698cd"/>
<rect x="167.15" y="254.31" width="18.63" height="1.16" fill="#f4c2c3"/>
<rect x="186.68" y="254.31" width="18.63" height="1.16" fill="#9194ca"/>
<rect x="206.21" y="254.31" width="18.63" height="1.16" fill="#8286c2"/>
<rect x="225.74" y="254.31" width="18.63" height="1.16" fill="#f3babc"/>
<rect x="245.27" y="254.31" width="18.63" height="1.16" fill="#f2a9aa"/>
<rect x="46.95" y="256.31" width="18.70" height="1.16" fill="#f2acad"/>
<rect x="66.55" y="256.31" width="18.70" height="1.16" fill="#f7ebee"/>
<rect x="86.15" y="256.31" width="18.70" height="1.16" fill="#eb7f80"/>
<rect x="105.75" y="256.31" width="18.70" height="1.16" fill="#ef9292"/>
<rect x="125.35" y="256.31" width="18.70" height="1.16" fill="#cdcde6"/>
<rect x="144.95" y="256.31" width="18.70" height="1.16" fill="#8f91c9"/>
<rect x="167.15" y="256.31" width="18.63" height="1.16" fill="#f2a9a9"/>
<rect x="186.68" y="256.31" width="18.63" height="1.16" fill="#6269b0"/>
<rect x="206.21" y="256.31" width="18.63" height="1.16" fill="#f4c8ca"/>
<rect x="225.74" y="256.31" width="18.63" height="1.16" fill="#f2f0f7"/>
<rect x="245.27" y="256.31" width="18.63" height="1.16" fill="#f19d9d"/>
<rect x="46.95" y="258.30" width="18.70" height="1.16" fill="#f1a5a6"/>
<rect x="66.55" y="258.30" width="18.70" height="1.16" fill="#f2acad"/>
<rect x="86.15" y="258.30" width="18.70" height="1.16" fill="#f4c3c4"/>
<rect x="105.75" y="258.30" width="18.70" height="1.16" fill="#f7e9ec"/>
<rect x="125.35" y="258.30" width="18.70" height="1.16" fill="#dddcee"/>
<rect x="144.95" y="258.30" width="18.70" height="1.16" fill="#9295cb"/>
<rect x="167.15" y="258.30" width="18.63" height="1.16" fill="#f09797"/>
<rect x="186.68" y="258.30" width="18.63" height="1.16" fill="#9294cb"/>
<rect x="206.21" y="258.30" width="18.63" height="1.16" fill="#f4cacc"/>
<rect x="225.74" y="258.30" width="18.63" height="1.16" fill="#c3c3e2"/>
<rect x="245.27" y="258.30" width="18.63" height="1.16" fill="#e97778"/>
<rect x="46.95" y="260.29" width="18.70" height="1.16" fill="#f8f1f4"/>
<rect x="66.55" y="260.29" width="18.70" height="1.16" fill="#9c9ed0"/>
<rect x="86.15" y="260.29" width="18.70" height="1.16" fill="#c9c9e4"/>
<rect x="105.75" y="260.29" width="18.70" height="1.16" fill="#e97678"/>
<rect x="125.35" y="260.29" width="18.70" height="1.16" fill="#cccce6"/>
<rect x="144.95" y="260.29" width="18.70" height="1.16" fill="#abacd7"/>
<rect x="167.15" y="260.29" width="18.63" height="1.16" fill="#f2adae"/>
<rect x="186.68" y="260.29" width="18.63" height="1.16" fill="#f5f3f8"/>
<rect x="206.21" y="260.29" width="18.63" height="1.16" fill="#f3b6b7"/>
<rect x="225.74" y="260.29" width="18.63" height="1.16" fill="#c9c9e4"/>
<rect x="245.27" y="260.29" width="18.63" height="1.16" fill="#f1a1a2"/>
<rect x="46.95" y="262.29" width="18.70" height="1.16" fill="#f2f0f7"/>
<rect x="66.55" y="262.29" width="18.70" height="1.16" fill="#afb0d8"/>
<rect x="86.15" y="262.29" width="18.70" height="1.16" fill="#b7b8dc"/>
<rect x="105.75" y="262.29" width="18.70" height="1.16" fill="#eb8283"/>
<rect x="125.35" y="262.29" width="18.70" height="1.16" fill="#cfcfe7"/>
<rect x="144.95" y="262.29" width="18.70" height="1.16" fill="#a9abd6"/>
<rect x="167.15" y="262.29" width="18.63" height="1.16" fill="#f4c6c8"/>
<rect x="186.68" y="262.29" width="18.63" height="1.16" fill="#f2afb0"/>
<rect x="206.21" y="262.29" width="18.63" height="1.16" fill="#f3bbbd"/>
<rect x="225.74" y="262.29" width="18.63" height="1.16" fill="#f4c3c5"/>
<rect x="245.27" y="262.29" width="18.63" height="1.16" fill="#b5b6db"/>
<rect x="46.95" y="264.28" width="18.70" height="1.16" fill="#f1a2a2"/>
<rect x="66.55" y="264.28" width="18.70" height="1.16" fill="#c3c3e2"/>
<rect x="86.15" y="264.28" width="18.70" height="1.16" fill="#f4c1c3"/>
<rect x="105.75" y="264.28" width="18.70" height="1.16" fill="#ee8c8d"/>
<rect x="125.35" y="264.28" width="18.70" height="1.16" fill="#d0d0e8"/>
<rect x="144.95" y="264.28" width="18.70" height="1.16" fill="#b0b1d9"/>
<rect x="167.15" y="264.28" width="18.63" height="1.16" fill="#f7f0f4"/>
<rect x="186.68" y="264.28" width="18.63" height="1.16" fill="#f4c9cb"/>
<rect x="206.21" y="264.28" width="18.63" height="1.16" fill="#ed8787"/>
<rect x="225.74" y="264.28" width="18.63" height="1.16" fill="#8689c4"/>
<rect x="245.27" y="264.28" width="18.63" height="1.16" fill="#b4b5db"/>
<rect x="46.95" y="266.27" width="18.70" height="1.16" fill="#f1a3a3"/>
<rect x="66.55" y="266.27" width="18.70" height="1.16" fill="#abacd7"/>
<rect x="86.15" y="266.27" width="18.70" height="1.16" fill="#bebedf"/>
<rect x="105.75" y="266.27" width="18.70" height="1.16" fill="#ed8889"/>
<rect x="125.35" y="266.27" width="18.70" height="1.16" fill="#e4e3f1"/>
<rect x="144.95" y="266.27" width="18.70" height="1.16" fill="#a8a9d5"/>
<rect x="167.15" y="266.27" width="18.63" height="1.16" fill="#f4c3c5"/>
<rect x="186.68" y="266.27" width="18.63" height="1.16" fill="#ee8e8f"/>
<rect x="206.21" y="266.27" width="18.63" height="1.16" fill="#f2b3b4"/>
<rect x="225.74" y="266.27" width="18.63" height="1.16" fill="#8589c4"/>
<rect x="245.27" y="266.27" width="18.63" height="1.16" fill="#c9c9e4"/>
<rect x="46.95" y="268.27" width="18.70" height="1.16" fill="#e77072"/>
<rect x="66.55" y="268.27" width="18.70" height="1.16" fill="#c4c4e2"/>
<rect x="86.15" y="268.27" width="18.70" height="1.16" fill="#f8f1f4"/>
<rect x="105.75" y="268.27" width="18.70" height="1.16" fill="#f09898"/>
<rect x="125.35" y="268.27" width="18.70" height="1.16" fill="#ebe9f4"/>
<rect x="144.95" y="268.27" width="18.70" height="1.16" fill="#c1c2e1"/>
<rect x="167.15" y="268.27" width="18.63" height="1.16" fill="#ef9394"/>
<rect x="186.68" y="268.27" width="18.63" height="1.16" fill="#ea7d7e"/>
<rect x="206.21" y="268.27" width="18.63" height="1.16" fill="#f4c6c8"/>
<rect x="225.74" y="268.27" width="18.63" height="1.16" fill="#9093ca"/>
<rect x="245.27" y="268.27" width="18.63" height="1.16" fill="#cacae5"/>
<rect x="46.95" y="270.26" width="18.70" height="1.16" fill="#e2595b"/>
<rect x="66.55" y="270.26" width="18.70" height="1.16" fill="#f4c8ca"/>
<rect x="86.15" y="270.26" width="18.70" height="1.16" fill="#878bc5"/>
<rect x="105.75" y="270.26" width="18.70" height="1.16" fill="#f2acac"/>
<rect x="125.35" y="270.26" width="18.70" height="1.16" fill="#f7e9ec"/>
<rect x="144.95" y="270.26" width="18.70" height="1.16" fill="#f3f2f8"/>
<rect x="167.15" y="270.26" width="18.63" height="1.16" fill="#f2aeaf"/>
<rect x="186.68" y="270.26" width="18.63" height="1.16" fill="#8c8fc7"/>
<rect x="206.21" y="270.26" width="18.63" height="1.16" fill="#f1a2a2"/>
<rect x="225.74" y="270.26" width="18.63" height="1.16" fill="#f6f4f9"/>
<rect x="245.27" y="270.26" width="18.63" height="1.16" fill="#f5f3f9"/>
<rect x="46.95" y="272.25" width="18.70" height="1.16" fill="#f09696"/>
<rect x="66.55" y="272.25" width="18.70" height="1.16" fill="#f2abac"/>
<rect x="86.15" y="272.25" width="18.70" height="1.16" fill="#7a7ebd"/>
<rect x="105.75" y="272.25" width="18.70" height="1.16" fill="#f4c2c4"/>
<rect x="125.35" y="272.25" width="18.70" height="1.16" fill="#f7eff2"/>
<rect x="144.95" y="272.25" width="18.70" height="1.16" fill="#f3b5b7"/>
<rect x="167.15" y="272.25" width="18.63" height="1.16" fill="#c0c0e0"/>
<rect x="186.68" y="272.25" width="18.63" height="1.16" fill="#a6a7d4"/>
<rect x="206.21" y="272.25" width="18.63" height="1.16" fill="#f3b6b8"/>
<rect x="225.74" y="272.25" width="18.63" height="1.16" fill="#f3bdbf"/>
<rect x="245.27" y="272.25" width="18.63" height="1.16" fill="#f7edf1"/>
<rect x="46.95" y="274.25" width="18.70" height="1.16" fill="#f09a9a"/>
<rect x="66.55" y="274.25" width="18.70" height="1.16" fill="#f4c0c2"/>
<rect x="86.15" y="274.25" width="18.70" height="1.16" fill="#8286c2"/>
<rect x="105.75" y="274.25" width="18.70" height="1.16" fill="#f2f0f7"/>
<rect x="125.35" y="274.25" width="18.70" height="1.16" fill="#f3bdbf"/>
<rect x="144.95" y="274.25" width="18.70" height="1.16" fill="#f6f4f9"/>
<rect x="167.15" y="274.25" width="18.63" height="1.16" fill="#f4c9cb"/>
<rect x="186.68" y="274.25" width="18.63" height="1.16" fill="#8084c1"/>
<rect x="206.21" y="274.25" width="18.63" height="1.16" fill="#ee8c8d"/>
<rect x="225.74" y="274.25" width="18.63" height="1.16" fill="#f4c9cc"/>
<rect x="245.27" y="274.25" width="18.63" height="1.16" fill="#ee8e8e"/>
<rect x="46.95" y="276.24" width="18.70" height="1.16" fill="#f1a1a1"/>
<rect x="66.55" y="276.24" width="18.70" height="1.16" fill="#f7eef2"/>
<rect x="86.15" y="276.24" width="18.70" height="1.16" fill="#8c8fc7"/>
<rect x="105.75" y="276.24" width="18.70" height="1.16" fill="#ee8e8e"/>
<rect x="125.35" y="276.24" width="18.70" height="1.16" fill="#f6dcdf"/>
<rect x="144.95" y="276.24" width="18.70" height="1.16" fill="#f3b5b6"/>
<rect x="167.15" y="276.24" width="18.63" height="1.16" fill="#f2b0b1"/>
<rect x="186.68" y="276.24" width="18.63" height="1.16" fill="#8e91c9"/>
<rect x="206.21" y="276.24" width="18.63" height="1.16" fill="#ef9091"/>
<rect x="225.74" y="276.24" width="18.63" height="1.16" fill="#cbcbe5"/>
<rect x="245.27" y="276.24" width="18.63" height="1.16" fill="#ee8c8c"/>
<rect x="46.95" y="278.23" width="18.70" height="1.16" fill="#ed8788"/>
<rect x="66.55" y="278.23" width="18.70" height="1.16" fill="#f4cacc"/>
<rect x="86.15" y="278.23" width="18.70" height="1.16" fill="#b1b2d9"/>
<rect x="105.75" y="278.23" width="18.70" height="1.16" fill="#ea7d7e"/>
<rect x="125.35" y="278.23" width="18.70" height="1.16" fill="#dfdeef"/>
<rect x="144.95" y="278.23" width="18.70" height="1.16" fill="#7c80bf"/>
<rect x="167.15" y="278.23" width="18.63" height="1.16" fill="#f8f5f9"/>
<rect x="186.68" y="278.23" width="18.63" height="1.16" fill="#8c8fc8"/>
<rect x="206.21" y="278.23" width="18.63" height="1.16" fill="#ef8f90"/>
<rect x="225.74" y="278.23" width="18.63" height="1.16" fill="#f6f4f9"/>
<rect x="245.27" y="278.23" width="18.63" height="1.16" fill="#ed8b8b"/>
<rect x="46.95" y="280.23" width="18.70" height="1.16" fill="#ee8d8e"/>
<rect x="66.55" y="280.23" width="18.70" height="1.16" fill="#f8f0f4"/>
<rect x="86.15" y="280.23" width="18.70" height="1.16" fill="#b2b3da"/>
<rect x="105.75" y="280.23" width="18.70" height="1.16" fill="#f09b9c"/>
<rect x="125.35" y="280.23" width="18.70" height="1.16" fill="#f8f2f6"/>
<rect x="144.95" y="280.23" width="18.70" height="1.16" fill="#f19c9d"/>
<rect x="167.15" y="280.23" width="18.63" height="1.16" fill="#f4c0c2"/>
<rect x="186.68" y="280.23" width="18.63" height="1.16" fill="#aeafd8"/>
<rect x="206.21" y="280.23" width="18.63" height="1.16" fill="#f19f9f"/>
<rect x="225.74" y="280.23" width="18.63" height="1.16" fill="#b8b8dd"/>
<rect x="245.27" y="280.23" width="18.63" height="1.16" fill="#f6e3e6"/>
<rect x="164.4" y="44" width="1.9" height="240" fill="#ffffff"/>
<rect x="47.35" y="44.15" width="216.5" height="143.0" fill="none" stroke="#3b3f9c" stroke-width="2.8"/>
<rect x="47.35" y="190.85" width="216.5" height="25.6" fill="none" stroke="#dc1f26" stroke-width="2.9"/>
<rect x="47.35" y="220.5" width="216.5" height="62.8" fill="none" stroke="#0f6b30" stroke-width="2.9"/>
<path d="M45.80 48.61H43.73V50.61H45.80M45.80 46.60H41.57V49.61H43.73M45.80 54.63H43.57V56.63H45.80M45.80 52.62H41.63V55.63H43.57M41.63 54.12H40.37V58.64H45.80M41.57 48.11H39.22V56.38H40.37M45.80 60.64H43.80V62.65H45.80M45.80 64.65H43.69V66.66H45.80M43.80 61.65H41.31V65.66H43.69M45.80 68.67H43.00V70.67H45.80M41.31 63.65H39.46V69.67H43.00M39.22 52.24H36.20V66.66H39.46M45.80 72.68H42.85V74.68H45.80M45.80 76.69H43.78V78.69H45.80M45.80 80.70H43.65V82.71H45.80M43.78 77.69H40.88V81.70H43.65M42.85 73.68H39.12V79.70H40.88M45.80 86.72H43.11V88.72H45.80M45.80 84.71H42.41V87.72H43.11M45.80 90.73H43.39V92.73H45.80M42.41 86.22H40.36V91.73H43.39M39.12 76.69H38.10V88.97H40.36M45.80 94.74H43.00V96.75H45.80M43.00 95.74H41.98V98.75H45.80M45.80 100.76H43.96V102.76H45.80M45.80 104.77H42.91V106.77H45.80M43.96 101.76H40.30V105.77H42.91M41.98 97.25H38.54V103.77H40.30M38.10 82.83H37.40V100.51H38.54M45.80 108.78H43.59V110.79H45.80M45.80 112.79H43.42V114.80H45.80M43.59 109.78H41.14V113.79H43.42M45.80 118.81H43.21V120.81H45.80M45.80 116.80H41.79V119.81H43.21M41.14 111.79H38.10V118.31H41.79M45.80 122.82H43.60V124.83H45.80M45.80 126.83H43.00V128.84H45.80M43.00 127.83H42.27V130.84H45.80M43.60 123.82H40.37V129.34H42.27M38.10 115.05H36.70V126.58H40.37M45.80 132.85H43.35V134.85H45.80M45.80 136.86H43.84V138.87H45.80M43.84 137.86H42.44V140.87H45.80M43.35 133.85H39.60V139.37H42.44M45.80 142.88H42.87V144.88H45.80M45.80 146.89H43.61V148.89H45.80M42.87 143.88H41.35V147.89H43.61M45.80 150.90H43.54V152.91H45.80M41.35 145.89H38.78V151.90H43.54M39.60 136.61H37.40V148.89H38.78M45.80 156.92H43.03V158.92H45.80M45.80 154.91H41.69V157.92H43.03M45.80 160.93H43.34V162.93H45.80M43.34 161.93H42.34V164.94H45.80M41.69 156.42H39.26V163.44H42.34M45.80 168.95H43.59V170.96H45.80M45.80 166.95H42.06V169.95H43.59M39.26 159.93H38.10V168.45H42.06M45.80 172.96H43.48V174.97H45.80M43.48 173.97H41.98V176.97H45.80M45.80 178.98H42.94V180.99H45.80M45.80 182.99H43.02V185.00H45.80M42.94 179.98H40.70V183.99H43.02M41.98 175.47H38.79V181.99H40.70M38.10 164.19H37.40V178.73H38.79M37.40 142.75H36.70V171.46H37.40M36.70 120.81H36.00V157.11H36.70M37.40 91.67H35.10V138.96H36.00M36.20 59.45H29.30V106.60H35.10M45.80 193.35H43.83V195.24H45.80M45.80 199.02H43.44V200.91H45.80M45.80 197.13H41.58V199.97H43.44M43.83 194.29H40.43V198.55H41.58M45.80 204.70H43.49V206.59H45.80M45.80 202.80H41.87V205.64H43.49M45.80 210.37H42.90V212.26H45.80M42.90 211.32H41.89V214.15H45.80M45.80 208.48H40.86V212.74H41.89M41.87 204.22H38.76V210.61H40.86M40.43 196.42H35.70V207.42H38.76M45.80 223.00H43.71V224.99H45.80M45.80 226.98H42.94V228.98H45.80M43.71 223.99H41.24V227.98H42.94M45.80 232.96H43.80V234.96H45.80M45.80 230.97H42.15V233.96H43.80M42.15 232.47H40.86V236.95H45.80M41.24 225.99H35.50V234.71H40.86M45.80 240.94H42.82V242.93H45.80M45.80 238.94H41.35V241.93H42.82M45.80 244.92H43.08V246.92H45.80M41.35 240.44H40.29V245.92H43.08M45.80 248.91H43.31V250.90H45.80M43.31 249.91H41.53V252.90H45.80M45.80 254.89H43.16V256.88H45.80M41.53 251.40H39.53V255.89H43.16M40.29 243.18H36.97V253.64H39.53M45.80 262.86H43.72V264.86H45.80M45.80 260.87H42.17V263.86H43.72M45.80 258.88H41.30V262.37H42.17M45.80 266.85H43.79V268.84H45.80M45.80 270.84H42.95V272.83H45.80M43.79 267.85H41.24V271.83H42.95M41.30 260.62H38.35V269.84H41.24M45.80 274.82H43.68V276.82H45.80M45.80 278.81H43.94V280.80H45.80M43.68 275.82H41.25V279.81H43.94M38.35 265.23H37.23V277.81H41.25M36.97 248.41H32.50V271.52H37.23M35.50 230.35H30.90V259.97H32.50M35.70 201.92H29.2V245.16H30.90M29.30 82.80H10.3V225.50H29.2" stroke="#111" stroke-width="0.85" fill="none"/>
<defs><linearGradient id="lg1" x1="0" y1="0" x2="0" y2="1"><stop offset="0" stop-color="#d7262b"/><stop offset="0.25" stop-color="#ec8a8c"/><stop offset="0.5" stop-color="#ffffff"/><stop offset="0.75" stop-color="#9a9ccc"/><stop offset="1" stop-color="#43499c"/></linearGradient></defs>
<rect x="277.2" y="22.3" width="10.7" height="85.5" fill="url(#lg1)"/>
<text x="277.80" y="19.00" font-size="9.5" fill="#231f20" font-weight="bold" text-anchor="start" textLength="26.20" lengthAdjust="spacingAndGlyphs">Active</text>
<text x="277.80" y="118.90" font-size="9.5" fill="#231f20" font-weight="bold" text-anchor="start" textLength="33.20" lengthAdjust="spacingAndGlyphs">Inactive</text>
<text x="300.40" y="36.10" font-size="10" fill="#231f20" text-anchor="end">2</text>
<text x="300.40" y="53.00" font-size="10" fill="#231f20" text-anchor="end">1</text>
<text x="300.40" y="69.30" font-size="10" fill="#231f20" text-anchor="end">0</text>
<text x="300.40" y="86.00" font-size="10" fill="#231f20" text-anchor="end">−1</text>
<text x="300.40" y="102.30" font-size="10" fill="#231f20" text-anchor="end">−2</text>
<text x="270.70" y="147.20" font-size="11" fill="#4a4f9e" font-weight="bold" text-anchor="start" textLength="42.30" lengthAdjust="spacingAndGlyphs">Cluster B</text>
<text x="270.70" y="160.40" font-size="9.5" fill="#5a5fab" text-anchor="start" textLength="58.00" lengthAdjust="spacingAndGlyphs">(p53 signaling</text>
<text x="272.90" y="171.60" font-size="9.5" fill="#5a5fab" text-anchor="start" textLength="24.20" lengthAdjust="spacingAndGlyphs">state)</text>
<text x="270.70" y="198.50" font-size="11" fill="#d9262b" font-weight="bold" text-anchor="start" textLength="43.00" lengthAdjust="spacingAndGlyphs">Cluster A</text>
<text x="270.70" y="211.00" font-size="9.5" fill="#e04a4f" text-anchor="start" textLength="58.00" lengthAdjust="spacingAndGlyphs">(p38 signaling</text>
<text x="272.90" y="222.20" font-size="9.5" fill="#e04a4f" text-anchor="start" textLength="24.20" lengthAdjust="spacingAndGlyphs">state)</text>
<text x="270.50" y="257.80" font-size="11" fill="#17793a" font-weight="bold" text-anchor="start" textLength="42.70" lengthAdjust="spacingAndGlyphs">Cluster C</text>
<text transform="translate(61.14,296.00) rotate(-45)" font-size="10.5" fill="#231f20" text-anchor="end" textLength="21.62" lengthAdjust="spacingAndGlyphs">WNT</text>
<text transform="translate(80.87,296.00) rotate(-45)" font-size="10.5" fill="#231f20" text-anchor="end" textLength="14.10" lengthAdjust="spacingAndGlyphs">HIF</text>
<text transform="translate(100.60,296.00) rotate(-45)" font-size="10.5" fill="#231f20" text-anchor="end" textLength="38.37" lengthAdjust="spacingAndGlyphs">YAP/TAZ</text>
<text transform="translate(120.33,296.00) rotate(-45)" font-size="10.5" fill="#231f20" text-anchor="end" textLength="23.32" lengthAdjust="spacingAndGlyphs">NFKB</text>
<text transform="translate(140.06,296.00) rotate(-45)" font-size="10.5" fill="#231f20" text-anchor="end" textLength="16.22" lengthAdjust="spacingAndGlyphs">p53</text>
<text transform="translate(159.79,296.00) rotate(-45)" font-size="10.5" fill="#231f20" text-anchor="end" textLength="17.70" lengthAdjust="spacingAndGlyphs">RAR</text>
<text transform="translate(181.45,296.00) rotate(-45)" font-size="10.5" fill="#231f20" text-anchor="end" textLength="16.01" lengthAdjust="spacingAndGlyphs">ERK</text>
<text transform="translate(201.20,296.00) rotate(-45)" font-size="10.5" fill="#231f20" text-anchor="end" textLength="15.69" lengthAdjust="spacingAndGlyphs">JNK</text>
<text transform="translate(220.95,296.00) rotate(-45)" font-size="10.5" fill="#231f20" text-anchor="end" textLength="16.01" lengthAdjust="spacingAndGlyphs">p38</text>
<text transform="translate(240.70,296.00) rotate(-45)" font-size="10.5" fill="#231f20" text-anchor="end" textLength="16.96" lengthAdjust="spacingAndGlyphs">AKT</text>
<text transform="translate(260.45,296.00) rotate(-45)" font-size="10.5" fill="#231f20" text-anchor="end" textLength="16.96" lengthAdjust="spacingAndGlyphs">PKA</text>
<text x="350.60" y="9.80" font-size="14" fill="#231f20" font-weight="bold" text-anchor="start">B</text>
<path d="M405.50 54.6V254.2M473.90 54.6V254.2M542.30 54.6V254.2M610.70 54.6V254.2M679.10 54.6V254.2M381.0 88.85H684.2M381.0 146.95H684.2M381.0 205.05H684.2" stroke="#f2f2f2" stroke-width="0.6" fill="none"/>
<path d="M439.70 54.6V254.2M508.10 54.6V254.2M576.50 54.6V254.2M644.90 54.6V254.2M381.0 59.80H684.2M381.0 117.90H684.2M381.0 176.00H684.2M381.0 234.10H684.2" stroke="#ebebeb" stroke-width="1" fill="none"/>
<path d="M381.0 54.6H684.2V254.2H381.0" stroke="#8a8a8a" stroke-width="1" fill="none"/>
<path d="M381.0 54.6V254.2" stroke="#c4c4c4" stroke-width="1.4" fill="none"/>
<path d="M378.80 59.80H381.0M378.80 117.90H381.0M378.80 176.00H381.0M378.80 234.10H381.0M439.70 254.2V256.40M508.10 254.2V256.40M576.50 254.2V256.40M644.90 254.2V256.40" stroke="#4d4d4d" stroke-width="0.8" fill="none"/>
<text x="378.90" y="63.30" font-size="9.6" fill="#4d4d4d" text-anchor="end">0.50</text>
<text x="378.90" y="121.40" font-size="9.6" fill="#4d4d4d" text-anchor="end">0.25</text>
<text x="378.90" y="179.50" font-size="9.6" fill="#4d4d4d" text-anchor="end">0.00</text>
<text x="378.90" y="237.60" font-size="9.6" fill="#4d4d4d" text-anchor="end">−0.25</text>
<text x="437.10" y="264.20" font-size="9.6" fill="#4d4d4d" text-anchor="middle">−0.4</text>
<text x="505.50" y="264.20" font-size="9.6" fill="#4d4d4d" text-anchor="middle">−0.2</text>
<text x="576.80" y="264.20" font-size="9.6" fill="#4d4d4d" text-anchor="middle">0.0</text>
<text x="645.20" y="264.20" font-size="9.6" fill="#4d4d4d" text-anchor="middle">0.2</text>
<text x="545.50" y="279.30" font-size="10" fill="#231f20" font-weight="bold" text-anchor="middle" textLength="83.00" lengthAdjust="spacingAndGlyphs">p38 activity score</text>
<text transform="translate(357.9,148.6) rotate(-90)" font-size="10" font-weight="bold" fill="#000" text-anchor="middle" textLength="83.7" lengthAdjust="spacingAndGlyphs">p53 activity score</text>
<path d="M468.3 86.8L479.3 100.7M504.3 86.4L497.0 93.1M434.0 99.3L438.7 102.6M451.5 100.4L455.5 109.0M485.3 98.5L482.8 105.8M490.4 110.2L486.4 113.1M456.9 115.0L476.0 116.0M414.3 118.8L441.3 124.6M520.4 117.0L494.1 112.7M437.2 132.0L444.2 135.1M504.3 131.0L494.8 129.0M413.3 143.9L430.8 137.4M503.3 147.0L490.4 141.4M453.0 149.4L447.4 144.6M487.0 155.5L476.6 146.5M392.4 163.7L394.3 152.8M460.0 163.7L471.7 155.0M469.8 163.7L471.7 155.0M498.9 171.0L478.8 165.2M467.3 171.0L467.3 175.6M436.2 124.0L447.2 124.6M515.5 118.8L520.4 118.8M461.8 126.0L457.4 126.5" stroke="#4a7ebb" stroke-width="0.7" fill="none"/>
<g fill="#1a1a1a" fill-opacity="0.55"><circle cx="413.6" cy="74.7" r="2.2"/><circle cx="425.5" cy="82.9" r="2.2"/><circle cx="405.5" cy="96.8" r="2.2"/><circle cx="422.6" cy="101.4" r="2.2"/><circle cx="438.7" cy="102.6" r="2.2"/><circle cx="455.5" cy="109.0" r="2.2"/><circle cx="480.5" cy="100.7" r="2.2"/><circle cx="482.8" cy="105.8" r="2.2"/><circle cx="476.4" cy="116.0" r="2.2"/><circle cx="479.3" cy="113.9" r="2.2"/><circle cx="477.8" cy="119.7" r="2.2"/><circle cx="398.2" cy="123.8" r="2.2"/><circle cx="442.8" cy="123.8" r="2.2"/><circle cx="487.2" cy="63.2" r="2.2"/><circle cx="497.0" cy="93.1" r="2.2"/><circle cx="486.4" cy="113.1" r="2.2"/><circle cx="494.1" cy="112.7" r="2.2"/><circle cx="481.7" cy="118.2" r="2.2"/><circle cx="521.8" cy="111.0" r="2.2"/><circle cx="522.3" cy="122.3" r="2.2"/><circle cx="447.2" cy="124.6" r="2.2"/><circle cx="444.2" cy="135.1" r="2.2"/><circle cx="450.5" cy="138.0" r="2.2"/><circle cx="457.4" cy="133.6" r="2.2"/><circle cx="447.4" cy="144.6" r="2.2"/><circle cx="471.7" cy="155.0" r="2.2"/><circle cx="472.4" cy="155.6" r="2.2"/><circle cx="475.6" cy="146.5" r="2.2"/><circle cx="478.1" cy="141.0" r="2.2"/><circle cx="478.1" cy="165.2" r="2.2"/><circle cx="430.8" cy="137.4" r="2.2"/><circle cx="394.3" cy="152.8" r="2.2"/><circle cx="483.9" cy="129.0" r="2.2"/><circle cx="494.8" cy="129.0" r="2.2"/><circle cx="501.0" cy="128.2" r="2.2"/><circle cx="501.6" cy="128.8" r="2.2"/><circle cx="505.0" cy="136.0" r="2.2"/><circle cx="510.9" cy="139.9" r="2.2"/><circle cx="525.5" cy="134.1" r="2.2"/><circle cx="526.6" cy="140.7" r="2.2"/><circle cx="535.4" cy="142.1" r="2.2"/><circle cx="538.9" cy="149.1" r="2.2"/><circle cx="552.0" cy="146.2" r="2.2"/><circle cx="559.8" cy="147.2" r="2.2"/><circle cx="486.8" cy="141.0" r="2.2"/><circle cx="490.4" cy="141.4" r="2.2"/><circle cx="498.0" cy="147.7" r="2.2"/><circle cx="529.1" cy="156.7" r="2.2"/><circle cx="530.1" cy="158.9" r="2.2"/><circle cx="530.6" cy="159.4" r="2.2"/><circle cx="544.2" cy="155.5" r="2.2"/><circle cx="548.1" cy="156.0" r="2.2"/><circle cx="537.9" cy="161.4" r="2.2"/><circle cx="550.3" cy="160.8" r="2.2"/><circle cx="554.7" cy="162.3" r="2.2"/><circle cx="556.4" cy="166.2" r="2.2"/><circle cx="557.6" cy="168.4" r="2.2"/><circle cx="525.2" cy="164.0" r="2.2"/><circle cx="540.8" cy="166.2" r="2.2"/><circle cx="523.7" cy="167.7" r="2.2"/><circle cx="562.3" cy="179.8" r="2.2"/><circle cx="636.1" cy="128.6" r="2.2"/><circle cx="642.5" cy="142.5" r="2.2"/><circle cx="601.6" cy="154.7" r="2.2"/><circle cx="604.7" cy="162.6" r="2.2"/><circle cx="605.2" cy="163.0" r="2.2"/><circle cx="589.6" cy="165.1" r="2.2"/><circle cx="599.8" cy="165.7" r="2.2"/><circle cx="606.0" cy="168.4" r="2.2"/><circle cx="611.1" cy="166.9" r="2.2"/><circle cx="616.2" cy="163.3" r="2.2"/><circle cx="627.0" cy="169.5" r="2.2"/><circle cx="657.1" cy="160.2" r="2.2"/><circle cx="485.8" cy="203.3" r="2.2"/><circle cx="509.4" cy="193.1" r="2.2"/><circle cx="507.7" cy="197.7" r="2.2"/><circle cx="527.4" cy="200.4" r="2.2"/><circle cx="525.2" cy="208.0" r="2.2"/><circle cx="540.5" cy="187.5" r="2.2"/><circle cx="540.5" cy="190.7" r="2.2"/><circle cx="542.7" cy="194.4" r="2.2"/><circle cx="546.6" cy="183.9" r="2.2"/><circle cx="554.7" cy="190.7" r="2.2"/><circle cx="558.8" cy="190.7" r="2.2"/><circle cx="562.0" cy="190.1" r="2.2"/><circle cx="564.6" cy="198.5" r="2.2"/><circle cx="549.1" cy="207.7" r="2.2"/><circle cx="562.7" cy="181.0" r="2.2"/><circle cx="598.3" cy="184.6" r="2.2"/><circle cx="607.1" cy="183.1" r="2.2"/><circle cx="610.7" cy="186.8" r="2.2"/><circle cx="618.4" cy="184.6" r="2.2"/><circle cx="607.1" cy="190.1" r="2.2"/><circle cx="602.3" cy="193.4" r="2.2"/><circle cx="602.8" cy="193.9" r="2.2"/><circle cx="610.7" cy="192.8" r="2.2"/><circle cx="607.8" cy="196.5" r="2.2"/><circle cx="612.0" cy="195.9" r="2.2"/><circle cx="616.2" cy="190.1" r="2.2"/><circle cx="626.1" cy="197.0" r="2.2"/><circle cx="632.1" cy="198.8" r="2.2"/><circle cx="626.1" cy="201.9" r="2.2"/><circle cx="639.9" cy="200.1" r="2.2"/><circle cx="643.4" cy="190.4" r="2.2"/><circle cx="649.4" cy="188.2" r="2.2"/><circle cx="654.0" cy="205.6" r="2.2"/><circle cx="591.9" cy="208.3" r="2.2"/><circle cx="592.8" cy="211.6" r="2.2"/><circle cx="599.2" cy="211.4" r="2.2"/><circle cx="607.8" cy="210.1" r="2.2"/><circle cx="611.5" cy="206.5" r="2.2"/><circle cx="616.0" cy="204.3" r="2.2"/><circle cx="671.0" cy="245.2" r="2.2"/><circle cx="441.3" cy="124.6" r="2.2"/></g>
<line x1="394.60" y1="104.40" x2="670.40" y2="208.00" stroke="#d7262b" stroke-width="1.6"/>
<rect x="383.20" y="65.00" width="43.50" height="7.70" rx="1.2" fill="#ffffff" stroke="#4a7ebb" stroke-width="0.6"/>
<text x="404.95" y="70.70" font-size="5.2" fill="#4472c4" text-anchor="middle">Aurora A/B</text>
<rect x="427.90" y="76.90" width="27.60" height="7.80" rx="1.2" fill="#ffffff" stroke="#4a7ebb" stroke-width="0.6"/>
<text x="441.70" y="82.65" font-size="5.2" fill="#4472c4" text-anchor="middle">MDM2i</text>
<rect x="469.80" y="66.40" width="17.70" height="6.30" rx="1.2" fill="#ffffff" stroke="#4a7ebb" stroke-width="0.6"/>
<text x="478.65" y="71.40" font-size="5.2" fill="#4472c4" text-anchor="middle" textLength="15.10" lengthAdjust="spacingAndGlyphs">MEK1/2</text>
<rect x="460.30" y="79.50" width="14.90" height="7.30" rx="1.2" fill="#ffffff" stroke="#4a7ebb" stroke-width="0.6"/>
<text x="467.75" y="85.00" font-size="5.2" fill="#4472c4" text-anchor="middle" textLength="12.30" lengthAdjust="spacingAndGlyphs">CDK2</text>
<rect x="489.40" y="79.50" width="35.10" height="6.90" rx="1.2" fill="#ffffff" stroke="#4a7ebb" stroke-width="0.6"/>
<text x="506.95" y="84.80" font-size="5.2" fill="#4472c4" text-anchor="middle">Multiple RTK</text>
<rect x="386.10" y="87.30" width="20.60" height="6.80" rx="1.2" fill="#ffffff" stroke="#4a7ebb" stroke-width="0.6"/>
<text x="396.40" y="92.55" font-size="5.2" fill="#4472c4" text-anchor="middle" textLength="18.00" lengthAdjust="spacingAndGlyphs">ABL/SRC</text>
<rect x="421.30" y="92.00" width="17.80" height="7.30" rx="1.2" fill="#ffffff" stroke="#4a7ebb" stroke-width="0.6"/>
<text x="430.20" y="97.50" font-size="5.2" fill="#4472c4" text-anchor="middle" textLength="15.20" lengthAdjust="spacingAndGlyphs">MEK1/2</text>
<rect x="443.50" y="92.70" width="16.10" height="7.70" rx="1.2" fill="#ffffff" stroke="#4a7ebb" stroke-width="0.6"/>
<text x="451.55" y="98.40" font-size="5.2" fill="#4472c4" text-anchor="middle" textLength="13.50" lengthAdjust="spacingAndGlyphs">mTOR</text>
<rect x="476.60" y="91.70" width="18.20" height="6.80" rx="1.2" fill="#ffffff" stroke="#4a7ebb" stroke-width="0.6"/>
<text x="485.70" y="96.95" font-size="5.2" fill="#4472c4" text-anchor="middle" textLength="15.60" lengthAdjust="spacingAndGlyphs">MEK1/2</text>
<rect x="458.10" y="104.60" width="22.90" height="7.00" rx="1.2" fill="#ffffff" stroke="#4a7ebb" stroke-width="0.6"/>
<text x="469.55" y="109.95" font-size="5.2" fill="#4472c4" text-anchor="middle">BRAF</text>
<rect x="490.40" y="103.60" width="24.10" height="6.60" rx="1.2" fill="#ffffff" stroke="#4a7ebb" stroke-width="0.6"/>
<text x="502.45" y="108.75" font-size="5.2" fill="#4472c4" text-anchor="middle" textLength="21.50" lengthAdjust="spacingAndGlyphs">AuroraA/B</text>
<rect x="519.60" y="101.40" width="27.50" height="7.30" rx="1.2" fill="#ffffff" stroke="#4a7ebb" stroke-width="0.6"/>
<text x="533.35" y="106.90" font-size="5.2" fill="#4472c4" text-anchor="middle">MDM2i</text>
<rect x="406.30" y="103.60" width="15.30" height="7.60" rx="1.2" fill="#ffffff" stroke="#4a7ebb" stroke-width="0.6"/>
<text x="413.95" y="109.25" font-size="5.2" fill="#4472c4" text-anchor="middle" textLength="12.70" lengthAdjust="spacingAndGlyphs">mTOR</text>
<rect x="432.60" y="111.40" width="24.30" height="6.80" rx="1.2" fill="#ffffff" stroke="#4a7ebb" stroke-width="0.6"/>
<text x="444.75" y="116.65" font-size="5.2" fill="#4472c4" text-anchor="middle" textLength="21.70" lengthAdjust="spacingAndGlyphs">AuroraA/B</text>
<rect x="383.20" y="115.30" width="31.10" height="6.90" rx="1.2" fill="#ffffff" stroke="#4a7ebb" stroke-width="0.6"/>
<text x="398.75" y="120.60" font-size="5.2" fill="#4472c4" text-anchor="middle" textLength="28.50" lengthAdjust="spacingAndGlyphs">CCNA1/CCNA2</text>
<rect x="486.00" y="115.30" width="29.50" height="6.90" rx="1.2" fill="#ffffff" stroke="#4a7ebb" stroke-width="0.6"/>
<text x="500.75" y="120.60" font-size="5.2" fill="#4472c4" text-anchor="middle" textLength="26.90" lengthAdjust="spacingAndGlyphs">PI3K/DNAPK</text>
<rect x="520.40" y="113.50" width="13.80" height="6.80" rx="1.2" fill="#ffffff" stroke="#4a7ebb" stroke-width="0.6"/>
<text x="527.30" y="118.75" font-size="5.2" fill="#4472c4" text-anchor="middle" textLength="11.20" lengthAdjust="spacingAndGlyphs">PLK1</text>
<rect x="405.60" y="120.80" width="31.50" height="6.20" rx="1.2" fill="#ffffff" stroke="#4a7ebb" stroke-width="0.6"/>
<text x="421.35" y="125.75" font-size="5.2" fill="#4472c4" text-anchor="middle" textLength="28.90" lengthAdjust="spacingAndGlyphs">CCNA1/CCNA2</text>
<rect x="461.80" y="122.80" width="20.60" height="6.80" rx="1.2" fill="#ffffff" stroke="#4a7ebb" stroke-width="0.6"/>
<text x="472.10" y="128.05" font-size="5.2" fill="#4472c4" text-anchor="middle" textLength="18.00" lengthAdjust="spacingAndGlyphs">Antifolate</text>
<rect x="442.00" y="126.40" width="19.30" height="7.00" rx="1.2" fill="#ffffff" stroke="#4a7ebb" stroke-width="0.6"/>
<text x="451.65" y="131.75" font-size="5.2" fill="#4472c4" text-anchor="middle" textLength="16.70" lengthAdjust="spacingAndGlyphs">Aurora A</text>
<rect x="383.20" y="128.50" width="24.50" height="7.00" rx="1.2" fill="#ffffff" stroke="#4a7ebb" stroke-width="0.6"/>
<text x="395.45" y="133.85" font-size="5.2" fill="#4472c4" text-anchor="middle" textLength="21.90" lengthAdjust="spacingAndGlyphs">PI3K/mTOR</text>
<rect x="409.90" y="128.50" width="27.30" height="7.00" rx="1.2" fill="#ffffff" stroke="#4a7ebb" stroke-width="0.6"/>
<text x="423.55" y="133.85" font-size="5.2" fill="#4472c4" text-anchor="middle" textLength="24.70" lengthAdjust="spacingAndGlyphs">CFTR/TRPA1</text>
<rect x="504.30" y="127.50" width="18.50" height="7.00" rx="1.2" fill="#ffffff" stroke="#4a7ebb" stroke-width="0.6"/>
<text x="513.55" y="132.85" font-size="5.2" fill="#4472c4" text-anchor="middle" textLength="15.90" lengthAdjust="spacingAndGlyphs">MEK1/2</text>
<rect x="487.20" y="131.90" width="12.00" height="7.00" rx="1.2" fill="#ffffff" stroke="#4a7ebb" stroke-width="0.6"/>
<text x="493.20" y="137.25" font-size="5.2" fill="#4472c4" text-anchor="middle" textLength="9.40" lengthAdjust="spacingAndGlyphs">PI3K</text>
<rect x="458.80" y="137.40" width="18.30" height="6.90" rx="1.2" fill="#ffffff" stroke="#4a7ebb" stroke-width="0.6"/>
<text x="467.95" y="142.70" font-size="5.2" fill="#4472c4" text-anchor="middle" textLength="15.70" lengthAdjust="spacingAndGlyphs">MEK1/2</text>
<rect x="392.80" y="140.40" width="20.50" height="6.80" rx="1.2" fill="#ffffff" stroke="#4a7ebb" stroke-width="0.6"/>
<text x="403.05" y="145.65" font-size="5.2" fill="#4472c4" text-anchor="middle" textLength="17.90" lengthAdjust="spacingAndGlyphs">CDK2/5/7</text>
<rect x="503.30" y="143.90" width="16.60" height="6.70" rx="1.2" fill="#ffffff" stroke="#4a7ebb" stroke-width="0.6"/>
<text x="511.60" y="149.10" font-size="5.2" fill="#4472c4" text-anchor="middle" textLength="14.00" lengthAdjust="spacingAndGlyphs">PDK−1</text>
<rect x="450.50" y="149.40" width="18.80" height="7.00" rx="1.2" fill="#ffffff" stroke="#4a7ebb" stroke-width="0.6"/>
<text x="459.90" y="154.75" font-size="5.2" fill="#4472c4" text-anchor="middle" textLength="16.20" lengthAdjust="spacingAndGlyphs">Aurora B</text>
<rect x="481.00" y="155.50" width="17.50" height="6.80" rx="1.2" fill="#ffffff" stroke="#4a7ebb" stroke-width="0.6"/>
<text x="489.75" y="160.75" font-size="5.2" fill="#4472c4" text-anchor="middle" textLength="14.90" lengthAdjust="spacingAndGlyphs">PRKCE</text>
<rect x="383.20" y="163.70" width="17.50" height="7.30" rx="1.2" fill="#ffffff" stroke="#4a7ebb" stroke-width="0.6"/>
<text x="391.95" y="169.20" font-size="5.2" fill="#4472c4" text-anchor="middle" textLength="14.90" lengthAdjust="spacingAndGlyphs">CDK4/6</text>
<rect x="424.50" y="163.70" width="51.90" height="7.30" rx="1.2" fill="#ffffff" stroke="#4a7ebb" stroke-width="0.6"/>
<text x="450.45" y="169.20" font-size="5.2" fill="#4472c4" text-anchor="middle">Na channel blocker</text>
<rect x="498.90" y="167.70" width="36.80" height="7.30" rx="1.2" fill="#ffffff" stroke="#4a7ebb" stroke-width="0.6"/>
<text x="517.30" y="173.20" font-size="5.2" fill="#4472c4" text-anchor="middle">BRD2/3/4</text>
<rect x="439.10" y="175.60" width="55.40" height="7.80" rx="1.2" fill="#ffffff" stroke="#4a7ebb" stroke-width="0.6"/>
<text x="466.80" y="181.35" font-size="5.2" fill="#4472c4" text-anchor="middle" textLength="52.80" lengthAdjust="spacingAndGlyphs">DNAPK/PDGFR/mTOR</text>
<rect x="471.20" y="205.30" width="12.40" height="7.30" rx="1.2" fill="#ffffff" stroke="#4a7ebb" stroke-width="0.6"/>
<text x="477.40" y="210.80" font-size="5.2" fill="#4472c4" text-anchor="middle" textLength="9.80" lengthAdjust="spacingAndGlyphs">PKC</text>
<rect x="656.20" y="244.80" width="12.00" height="7.30" rx="1.2" fill="#ffffff" stroke="#4a7ebb" stroke-width="0.6"/>
<text x="662.20" y="250.30" font-size="5.2" fill="#4472c4" text-anchor="middle" textLength="9.40" lengthAdjust="spacingAndGlyphs">IL4R</text>
<text x="0.30" y="350.60" font-size="14.5" fill="#231f20" font-weight="bold" text-anchor="start">C</text>
<rect x="46.00" y="351.20" width="20.00" height="20.03" fill="#a893c6"/>
<rect x="66.00" y="351.20" width="20.00" height="20.03" fill="#a697c8"/>
<rect x="86.00" y="351.20" width="20.00" height="20.03" fill="#b09ccb"/>
<rect x="106.00" y="351.20" width="20.00" height="20.03" fill="#ae9ac8"/>
<rect x="126.00" y="351.20" width="20.00" height="20.03" fill="#8670b0"/>
<rect x="146.00" y="351.20" width="20.00" height="20.03" fill="#8068ab"/>
<rect x="166.00" y="351.20" width="20.00" height="20.03" fill="#fbd2c5"/>
<rect x="186.00" y="351.20" width="20.00" height="20.03" fill="#f08c70"/>
<rect x="206.00" y="351.20" width="20.00" height="20.03" fill="#f08a6d"/>
<rect x="226.00" y="351.20" width="20.00" height="20.03" fill="#e55a38"/>
<rect x="246.00" y="351.20" width="20.00" height="20.03" fill="#d92525"/>
<rect x="46.00" y="371.23" width="20.00" height="20.03" fill="#c2afd6"/>
<rect x="66.00" y="371.23" width="20.00" height="20.03" fill="#6a55a4"/>
<rect x="86.00" y="371.23" width="20.00" height="20.03" fill="#ae98c9"/>
<rect x="106.00" y="371.23" width="20.00" height="20.03" fill="#7a62a8"/>
<rect x="126.00" y="371.23" width="20.00" height="20.03" fill="#7c63a9"/>
<rect x="146.00" y="371.23" width="20.00" height="20.03" fill="#7e63aa"/>
<rect x="166.00" y="371.23" width="20.00" height="20.03" fill="#fbcdbf"/>
<rect x="186.00" y="371.23" width="20.00" height="20.03" fill="#f08a6d"/>
<rect x="206.00" y="371.23" width="20.00" height="20.03" fill="#ec6c4b"/>
<rect x="226.00" y="371.23" width="20.00" height="20.03" fill="#d92525"/>
<rect x="246.00" y="371.23" width="20.00" height="20.03" fill="#e55a38"/>
<rect x="46.00" y="391.26" width="20.00" height="20.03" fill="#9b85c0"/>
<rect x="66.00" y="391.26" width="20.00" height="20.03" fill="#9a85c0"/>
<rect x="86.00" y="391.26" width="20.00" height="20.03" fill="#9985bf"/>
<rect x="106.00" y="391.26" width="20.00" height="20.03" fill="#9884be"/>
<rect x="126.00" y="391.26" width="20.00" height="20.03" fill="#8673b3"/>
<rect x="146.00" y="391.26" width="20.00" height="20.03" fill="#b8a5d0"/>
<rect x="166.00" y="391.26" width="20.00" height="20.03" fill="#fdf3ef"/>
<rect x="186.00" y="391.26" width="20.00" height="20.03" fill="#f29a7e"/>
<rect x="206.00" y="391.26" width="20.00" height="20.03" fill="#d92525"/>
<rect x="226.00" y="391.26" width="20.00" height="20.03" fill="#ec6c4b"/>
<rect x="246.00" y="391.26" width="20.00" height="20.03" fill="#f08a6d"/>
<rect x="46.00" y="411.29" width="20.00" height="20.03" fill="#9c87c0"/>
<rect x="66.00" y="411.29" width="20.00" height="20.03" fill="#dccfe6"/>
<rect x="86.00" y="411.29" width="20.00" height="20.03" fill="#9984bf"/>
<rect x="106.00" y="411.29" width="20.00" height="20.03" fill="#8f7ab7"/>
<rect x="126.00" y="411.29" width="20.00" height="20.03" fill="#7d5fa6"/>
<rect x="146.00" y="411.29" width="20.00" height="20.03" fill="#9280bb"/>
<rect x="166.00" y="411.29" width="20.00" height="20.03" fill="#f29c80"/>
<rect x="186.00" y="411.29" width="20.00" height="20.03" fill="#d92525"/>
<rect x="206.00" y="411.29" width="20.00" height="20.03" fill="#f29c80"/>
<rect x="226.00" y="411.29" width="20.00" height="20.03" fill="#f08c70"/>
<rect x="246.00" y="411.29" width="20.00" height="20.03" fill="#f08c70"/>
<rect x="46.00" y="431.32" width="20.00" height="20.03" fill="#d5cae4"/>
<rect x="66.00" y="431.32" width="20.00" height="20.03" fill="#b9a5d1"/>
<rect x="86.00" y="431.32" width="20.00" height="20.03" fill="#a897c8"/>
<rect x="106.00" y="431.32" width="20.00" height="20.03" fill="#ece2f0"/>
<rect x="126.00" y="431.32" width="20.00" height="20.03" fill="#8a7ab8"/>
<rect x="146.00" y="431.32" width="20.00" height="20.03" fill="#9b86c0"/>
<rect x="166.00" y="431.32" width="20.00" height="20.03" fill="#d92525"/>
<rect x="186.00" y="431.32" width="20.00" height="20.03" fill="#f2a48a"/>
<rect x="206.00" y="431.32" width="20.00" height="20.03" fill="#fdf3ef"/>
<rect x="226.00" y="431.32" width="20.00" height="20.03" fill="#fbcfc2"/>
<rect x="246.00" y="431.32" width="20.00" height="20.03" fill="#fad6cc"/>
<rect x="46.00" y="451.35" width="20.00" height="20.03" fill="#f4937a"/>
<rect x="66.00" y="451.35" width="20.00" height="20.03" fill="#ee7050"/>
<rect x="86.00" y="451.35" width="20.00" height="20.03" fill="#f38a6c"/>
<rect x="106.00" y="451.35" width="20.00" height="20.03" fill="#f08468"/>
<rect x="126.00" y="451.35" width="20.00" height="20.03" fill="#e54e30"/>
<rect x="146.00" y="451.35" width="20.00" height="20.03" fill="#d92525"/>
<rect x="166.00" y="451.35" width="20.00" height="20.03" fill="#9b86c0"/>
<rect x="186.00" y="451.35" width="20.00" height="20.03" fill="#9280bb"/>
<rect x="206.00" y="451.35" width="20.00" height="20.03" fill="#b8a5d0"/>
<rect x="226.00" y="451.35" width="20.00" height="20.03" fill="#8068ab"/>
<rect x="246.00" y="451.35" width="20.00" height="20.03" fill="#8068ab"/>
<rect x="46.00" y="471.38" width="20.00" height="20.03" fill="#f08468"/>
<rect x="66.00" y="471.38" width="20.00" height="20.03" fill="#f4a080"/>
<rect x="86.00" y="471.38" width="20.00" height="20.03" fill="#f08058"/>
<rect x="106.00" y="471.38" width="20.00" height="20.03" fill="#ec6c4b"/>
<rect x="126.00" y="471.38" width="20.00" height="20.03" fill="#d92525"/>
<rect x="146.00" y="471.38" width="20.00" height="20.03" fill="#e54e30"/>
<rect x="166.00" y="471.38" width="20.00" height="20.03" fill="#8674b4"/>
<rect x="186.00" y="471.38" width="20.00" height="20.03" fill="#7c5fa6"/>
<rect x="206.00" y="471.38" width="20.00" height="20.03" fill="#8673b3"/>
<rect x="226.00" y="471.38" width="20.00" height="20.03" fill="#7c63a9"/>
<rect x="246.00" y="471.38" width="20.00" height="20.03" fill="#8068ab"/>
<rect x="46.00" y="491.41" width="20.00" height="20.03" fill="#f4b098"/>
<rect x="66.00" y="491.41" width="20.00" height="20.03" fill="#f4a080"/>
<rect x="86.00" y="491.41" width="20.00" height="20.03" fill="#f4a080"/>
<rect x="106.00" y="491.41" width="20.00" height="20.03" fill="#d92525"/>
<rect x="126.00" y="491.41" width="20.00" height="20.03" fill="#ec6c4b"/>
<rect x="146.00" y="491.41" width="20.00" height="20.03" fill="#f08468"/>
<rect x="166.00" y="491.41" width="20.00" height="20.03" fill="#ece2f0"/>
<rect x="186.00" y="491.41" width="20.00" height="20.03" fill="#8f7ab7"/>
<rect x="206.00" y="491.41" width="20.00" height="20.03" fill="#9884be"/>
<rect x="226.00" y="491.41" width="20.00" height="20.03" fill="#7a62a8"/>
<rect x="246.00" y="491.41" width="20.00" height="20.03" fill="#ae9ac8"/>
<rect x="46.00" y="511.44" width="20.00" height="20.03" fill="#f08468"/>
<rect x="66.00" y="511.44" width="20.00" height="20.03" fill="#ec6446"/>
<rect x="86.00" y="511.44" width="20.00" height="20.03" fill="#d92525"/>
<rect x="106.00" y="511.44" width="20.00" height="20.03" fill="#f4a080"/>
<rect x="126.00" y="511.44" width="20.00" height="20.03" fill="#f08058"/>
<rect x="146.00" y="511.44" width="20.00" height="20.03" fill="#f08468"/>
<rect x="166.00" y="511.44" width="20.00" height="20.03" fill="#a897c8"/>
<rect x="186.00" y="511.44" width="20.00" height="20.03" fill="#9984bf"/>
<rect x="206.00" y="511.44" width="20.00" height="20.03" fill="#9985bf"/>
<rect x="226.00" y="511.44" width="20.00" height="20.03" fill="#ae98c9"/>
<rect x="246.00" y="511.44" width="20.00" height="20.03" fill="#b09ccb"/>
<rect x="46.00" y="531.47" width="20.00" height="20.03" fill="#f4b098"/>
<rect x="66.00" y="531.47" width="20.00" height="20.03" fill="#d92525"/>
<rect x="86.00" y="531.47" width="20.00" height="20.03" fill="#ec6446"/>
<rect x="106.00" y="531.47" width="20.00" height="20.03" fill="#f4a080"/>
<rect x="126.00" y="531.47" width="20.00" height="20.03" fill="#f4a080"/>
<rect x="146.00" y="531.47" width="20.00" height="20.03" fill="#ee7050"/>
<rect x="166.00" y="531.47" width="20.00" height="20.03" fill="#b9a5d1"/>
<rect x="186.00" y="531.47" width="20.00" height="20.03" fill="#dccfe6"/>
<rect x="206.00" y="531.47" width="20.00" height="20.03" fill="#9a85c0"/>
<rect x="226.00" y="531.47" width="20.00" height="20.03" fill="#6a55a4"/>
<rect x="246.00" y="531.47" width="20.00" height="20.03" fill="#a697c8"/>
<rect x="46.00" y="551.50" width="20.00" height="20.03" fill="#d92525"/>
<rect x="66.00" y="551.50" width="20.00" height="20.03" fill="#f4b098"/>
<rect x="86.00" y="551.50" width="20.00" height="20.03" fill="#f08468"/>
<rect x="106.00" y="551.50" width="20.00" height="20.03" fill="#f4b498"/>
<rect x="126.00" y="551.50" width="20.00" height="20.03" fill="#f08468"/>
<rect x="146.00" y="551.50" width="20.00" height="20.03" fill="#f4937a"/>
<rect x="166.00" y="551.50" width="20.00" height="20.03" fill="#d5cae4"/>
<rect x="186.00" y="551.50" width="20.00" height="20.03" fill="#9c87c0"/>
<rect x="206.00" y="551.50" width="20.00" height="20.03" fill="#9b85c0"/>
<rect x="226.00" y="551.50" width="20.00" height="20.03" fill="#c2afd6"/>
<rect x="246.00" y="551.50" width="20.00" height="20.03" fill="#a893c6"/>
<path d="M66.00 351.2V571.53M46.0 371.23H266.00M86.00 351.2V571.53M46.0 391.26H266.00M106.00 351.2V571.53M46.0 411.29H266.00M126.00 351.2V571.53M46.0 431.32H266.00M146.00 351.2V571.53M46.0 451.35H266.00M166.00 351.2V571.53M46.0 471.38H266.00M186.00 351.2V571.53M46.0 491.41H266.00M206.00 351.2V571.53M46.0 511.44H266.00M226.00 351.2V571.53M46.0 531.47H266.00M246.00 351.2V571.53M46.0 551.50H266.00" stroke="#ffffff" stroke-opacity="0.35" stroke-width="0.5" fill="none"/>
<text x="40.90" y="364.71" font-size="10" fill="#231f20" text-anchor="end" textLength="16.00" lengthAdjust="spacingAndGlyphs">PKA</text>
<text x="40.90" y="384.75" font-size="10" fill="#231f20" text-anchor="end" textLength="16.00" lengthAdjust="spacingAndGlyphs">AKT</text>
<text x="40.90" y="404.77" font-size="10" fill="#231f20" text-anchor="end" textLength="15.10" lengthAdjust="spacingAndGlyphs">ERK</text>
<text x="40.90" y="424.81" font-size="10" fill="#231f20" text-anchor="end" textLength="15.10" lengthAdjust="spacingAndGlyphs">p38</text>
<text x="40.90" y="444.83" font-size="10" fill="#231f20" text-anchor="end" textLength="14.80" lengthAdjust="spacingAndGlyphs">JNK</text>
<text x="40.90" y="464.87" font-size="10" fill="#231f20" text-anchor="end" textLength="20.40" lengthAdjust="spacingAndGlyphs">WNT</text>
<text x="40.90" y="484.89" font-size="10" fill="#231f20" text-anchor="end" textLength="15.30" lengthAdjust="spacingAndGlyphs">p53</text>
<text x="40.90" y="504.93" font-size="10" fill="#231f20" text-anchor="end" textLength="22.00" lengthAdjust="spacingAndGlyphs">NFKB</text>
<text x="40.90" y="524.95" font-size="10" fill="#231f20" text-anchor="end" textLength="16.70" lengthAdjust="spacingAndGlyphs">RAR</text>
<text x="40.90" y="544.99" font-size="10" fill="#231f20" text-anchor="end" textLength="13.30" lengthAdjust="spacingAndGlyphs">HIF</text>
<text x="40.90" y="565.01" font-size="10" fill="#231f20" text-anchor="end" textLength="36.20" lengthAdjust="spacingAndGlyphs">YAP/TAZ</text>
<text transform="translate(60.20,583.80) rotate(-45)" font-size="10" fill="#231f20" text-anchor="end" textLength="36.2" lengthAdjust="spacingAndGlyphs">YAP/TAZ</text>
<text transform="translate(80.20,583.80) rotate(-45)" font-size="10" fill="#231f20" text-anchor="end" textLength="13.3" lengthAdjust="spacingAndGlyphs">HIF</text>
<text transform="translate(100.20,583.80) rotate(-45)" font-size="10" fill="#231f20" text-anchor="end" textLength="16.7" lengthAdjust="spacingAndGlyphs">RAR</text>
<text transform="translate(120.20,583.80) rotate(-45)" font-size="10" fill="#231f20" text-anchor="end" textLength="22" lengthAdjust="spacingAndGlyphs">NFKB</text>
<text transform="translate(140.20,583.80) rotate(-45)" font-size="10" fill="#231f20" text-anchor="end" textLength="15.3" lengthAdjust="spacingAndGlyphs">p53</text>
<text transform="translate(160.20,583.80) rotate(-45)" font-size="10" fill="#231f20" text-anchor="end" textLength="20.4" lengthAdjust="spacingAndGlyphs">WNT</text>
<text transform="translate(180.20,583.80) rotate(-45)" font-size="10" fill="#231f20" text-anchor="end" textLength="14.8" lengthAdjust="spacingAndGlyphs">JNK</text>
<text transform="translate(200.20,583.80) rotate(-45)" font-size="10" fill="#231f20" text-anchor="end" textLength="15.1" lengthAdjust="spacingAndGlyphs">p38</text>
<text transform="translate(220.20,583.80) rotate(-45)" font-size="10" fill="#231f20" text-anchor="end" textLength="15.1" lengthAdjust="spacingAndGlyphs">ERK</text>
<text transform="translate(240.20,583.80) rotate(-45)" font-size="10" fill="#231f20" text-anchor="end" textLength="16" lengthAdjust="spacingAndGlyphs">AKT</text>
<text transform="translate(260.20,583.80) rotate(-45)" font-size="10" fill="#231f20" text-anchor="end" textLength="16" lengthAdjust="spacingAndGlyphs">PKA</text>
<path d="M42.8 361.21H45.6M42.8 381.25H45.6M42.8 401.27H45.6M42.8 421.31H45.6M42.8 441.33H45.6M42.8 461.37H45.6M42.8 481.39H45.6M42.8 501.43H45.6M42.8 521.45H45.6M42.8 541.49H45.6M42.8 561.51H45.6M56.00 571.6V574.6M76.00 571.6V574.6M96.00 571.6V574.6M116.00 571.6V574.6M136.00 571.6V574.6M156.00 571.6V574.6M176.00 571.6V574.6M196.00 571.6V574.6M216.00 571.6V574.6M236.00 571.6V574.6M256.00 571.6V574.6" stroke="#333" stroke-width="0.9" fill="none"/>
<defs><linearGradient id="lg2" x1="0" y1="0" x2="0" y2="1"><stop offset="0" stop-color="#d92525"/><stop offset="0.25" stop-color="#f4a080"/><stop offset="0.5" stop-color="#fdf7f7"/><stop offset="0.75" stop-color="#b2a0d2"/><stop offset="1" stop-color="#3f3f9f"/></linearGradient></defs>
<rect x="276.9" y="442.3" width="9.1" height="46.2" fill="url(#lg2)"/>
<text x="277.50" y="430.60" font-size="10" fill="#231f20" font-weight="bold" text-anchor="start" textLength="51.30" lengthAdjust="spacingAndGlyphs">Pearson (r)</text>
<text x="307.00" y="447.40" font-size="9.6" fill="#231f20" text-anchor="end">1.0</text>
<text x="307.00" y="458.20" font-size="9.6" fill="#231f20" text-anchor="end">0.5</text>
<text x="307.00" y="469.90" font-size="9.6" fill="#231f20" text-anchor="end">0.0</text>
<text x="307.00" y="480.30" font-size="9.6" fill="#231f20" text-anchor="end">−0.5</text>
<text x="307.00" y="491.50" font-size="9.6" fill="#231f20" text-anchor="end">−1.0</text>
<text x="366.60" y="351.00" font-size="14.4" fill="#231f20" font-weight="bold" text-anchor="start">D</text>
<ellipse cx="463.5" cy="484.5" rx="83.0" ry="70.0" fill="#f5f5f5" fill-opacity="0.5"/>
<g fill="#bcbcbc" fill-opacity="0.8"><circle cx="400.2" cy="463.4" r="0.58"/><circle cx="395.0" cy="481.6" r="0.48"/><circle cx="410.7" cy="481.1" r="0.49"/><circle cx="529.6" cy="522.1" r="0.39"/><circle cx="479.4" cy="450.3" r="0.51"/><circle cx="498.2" cy="481.2" r="0.59"/><circle cx="407.1" cy="442.1" r="0.35"/><circle cx="437.7" cy="480.6" r="0.32"/><circle cx="466.2" cy="529.7" r="0.31"/><circle cx="399.7" cy="505.7" r="0.55"/><circle cx="418.5" cy="438.3" r="0.45"/><circle cx="390.5" cy="501.5" r="0.38"/><circle cx="548.4" cy="482.6" r="0.55"/><circle cx="432.7" cy="544.4" r="0.37"/><circle cx="517.8" cy="506.2" r="0.53"/><circle cx="501.0" cy="438.7" r="0.42"/><circle cx="511.7" cy="426.2" r="0.30"/><circle cx="509.9" cy="459.7" r="0.44"/><circle cx="395.9" cy="527.5" r="0.32"/><circle cx="476.8" cy="422.3" r="0.38"/><circle cx="442.2" cy="516.1" r="0.59"/><circle cx="521.5" cy="529.5" r="0.37"/><circle cx="505.1" cy="498.4" r="0.54"/><circle cx="414.7" cy="468.3" r="0.43"/><circle cx="457.4" cy="439.5" r="0.34"/><circle cx="519.4" cy="527.0" r="0.43"/><circle cx="456.7" cy="530.8" r="0.59"/><circle cx="436.8" cy="548.3" r="0.57"/><circle cx="420.2" cy="513.2" r="0.56"/><circle cx="524.1" cy="522.0" r="0.60"/><circle cx="460.6" cy="531.1" r="0.53"/><circle cx="445.6" cy="535.0" r="0.32"/><circle cx="425.9" cy="466.3" r="0.37"/><circle cx="412.5" cy="529.6" r="0.44"/><circle cx="379.9" cy="491.8" r="0.47"/><circle cx="497.0" cy="547.6" r="0.35"/><circle cx="497.7" cy="420.7" r="0.37"/><circle cx="460.0" cy="439.4" r="0.58"/><circle cx="514.8" cy="470.4" r="0.56"/><circle cx="398.5" cy="514.1" r="0.33"/><circle cx="496.8" cy="477.8" r="0.37"/><circle cx="460.1" cy="549.7" r="0.55"/><circle cx="443.7" cy="544.5" r="0.35"/><circle cx="533.9" cy="512.0" r="0.37"/><circle cx="506.8" cy="435.5" r="0.48"/><circle cx="515.2" cy="459.5" r="0.36"/><circle cx="460.3" cy="507.2" r="0.43"/><circle cx="480.8" cy="513.9" r="0.41"/><circle cx="512.7" cy="529.8" r="0.41"/><circle cx="545.2" cy="476.0" r="0.50"/><circle cx="397.4" cy="451.6" r="0.34"/><circle cx="496.6" cy="487.7" r="0.57"/><circle cx="538.4" cy="469.4" r="0.31"/><circle cx="389.1" cy="491.6" r="0.52"/><circle cx="525.2" cy="484.3" r="0.32"/><circle cx="457.6" cy="423.9" r="0.57"/><circle cx="441.1" cy="421.2" r="0.54"/><circle cx="414.0" cy="540.8" r="0.51"/><circle cx="520.4" cy="433.9" r="0.43"/><circle cx="515.6" cy="433.5" r="0.47"/><circle cx="408.4" cy="527.0" r="0.47"/><circle cx="528.3" cy="514.8" r="0.49"/><circle cx="525.3" cy="435.2" r="0.52"/><circle cx="457.4" cy="429.5" r="0.47"/><circle cx="499.1" cy="435.9" r="0.33"/><circle cx="540.6" cy="496.9" r="0.48"/><circle cx="472.1" cy="542.7" r="0.51"/><circle cx="410.9" cy="445.5" r="0.58"/><circle cx="521.4" cy="488.0" r="0.39"/><circle cx="485.9" cy="546.2" r="0.35"/><circle cx="419.2" cy="425.4" r="0.43"/><circle cx="425.2" cy="546.2" r="0.50"/><circle cx="414.5" cy="503.8" r="0.54"/><circle cx="524.0" cy="436.5" r="0.42"/><circle cx="433.8" cy="541.1" r="0.34"/><circle cx="499.9" cy="434.0" r="0.55"/><circle cx="537.0" cy="464.3" r="0.38"/><circle cx="414.3" cy="497.9" r="0.38"/><circle cx="416.2" cy="508.6" r="0.49"/><circle cx="435.6" cy="538.7" r="0.55"/><circle cx="382.7" cy="505.6" r="0.32"/><circle cx="486.0" cy="464.9" r="0.31"/><circle cx="393.8" cy="456.4" r="0.39"/><circle cx="542.5" cy="492.6" r="0.34"/><circle cx="530.9" cy="493.4" r="0.55"/><circle cx="499.5" cy="521.8" r="0.31"/><circle cx="393.0" cy="505.4" r="0.49"/><circle cx="490.1" cy="424.7" r="0.59"/><circle cx="487.4" cy="546.0" r="0.44"/><circle cx="515.9" cy="487.5" r="0.44"/><circle cx="496.8" cy="543.6" r="0.38"/><circle cx="443.0" cy="433.9" r="0.46"/><circle cx="466.4" cy="421.7" r="0.42"/><circle cx="529.7" cy="447.0" r="0.33"/><circle cx="449.1" cy="415.0" r="0.34"/><circle cx="415.5" cy="443.6" r="0.57"/><circle cx="404.8" cy="461.5" r="0.56"/><circle cx="538.4" cy="461.3" r="0.44"/><circle cx="484.6" cy="545.8" r="0.52"/><circle cx="412.9" cy="431.6" r="0.52"/><circle cx="508.1" cy="457.0" r="0.59"/><circle cx="381.3" cy="468.0" r="0.54"/><circle cx="515.7" cy="456.4" r="0.56"/><circle cx="518.4" cy="511.1" r="0.43"/><circle cx="471.7" cy="424.0" r="0.45"/><circle cx="474.9" cy="459.7" r="0.32"/><circle cx="500.7" cy="544.4" r="0.40"/><circle cx="514.0" cy="536.5" r="0.34"/><circle cx="451.8" cy="425.5" r="0.55"/><circle cx="535.7" cy="462.8" r="0.45"/><circle cx="535.3" cy="521.0" r="0.37"/><circle cx="445.8" cy="542.8" r="0.52"/><circle cx="389.3" cy="475.4" r="0.55"/><circle cx="436.2" cy="541.2" r="0.41"/><circle cx="529.3" cy="444.3" r="0.36"/><circle cx="543.1" cy="470.9" r="0.46"/><circle cx="485.6" cy="543.2" r="0.46"/><circle cx="408.1" cy="448.0" r="0.31"/><circle cx="379.7" cy="477.3" r="0.42"/><circle cx="389.8" cy="458.5" r="0.45"/><circle cx="533.7" cy="510.6" r="0.46"/><circle cx="527.5" cy="469.4" r="0.58"/><circle cx="405.5" cy="492.9" r="0.34"/><circle cx="490.5" cy="432.3" r="0.57"/><circle cx="435.2" cy="537.9" r="0.36"/><circle cx="529.7" cy="456.0" r="0.34"/><circle cx="542.0" cy="494.1" r="0.36"/><circle cx="441.9" cy="440.6" r="0.40"/><circle cx="417.1" cy="447.7" r="0.33"/><circle cx="519.3" cy="530.5" r="0.45"/><circle cx="482.1" cy="530.8" r="0.46"/><circle cx="415.6" cy="524.7" r="0.42"/><circle cx="501.7" cy="535.3" r="0.36"/><circle cx="415.3" cy="436.1" r="0.46"/><circle cx="401.5" cy="440.1" r="0.56"/><circle cx="460.2" cy="436.7" r="0.54"/><circle cx="430.3" cy="548.6" r="0.39"/><circle cx="480.0" cy="553.5" r="0.60"/><circle cx="518.3" cy="536.4" r="0.37"/><circle cx="458.9" cy="550.2" r="0.33"/><circle cx="392.4" cy="516.8" r="0.54"/><circle cx="424.5" cy="507.6" r="0.51"/><circle cx="471.8" cy="506.7" r="0.50"/><circle cx="544.7" cy="470.7" r="0.33"/><circle cx="467.1" cy="425.1" r="0.45"/><circle cx="492.1" cy="544.6" r="0.32"/><circle cx="507.6" cy="493.5" r="0.47"/><circle cx="399.4" cy="459.5" r="0.34"/><circle cx="478.6" cy="527.5" r="0.55"/><circle cx="539.5" cy="452.7" r="0.33"/><circle cx="500.7" cy="474.6" r="0.44"/><circle cx="426.9" cy="543.7" r="0.44"/><circle cx="399.6" cy="509.9" r="0.48"/><circle cx="455.8" cy="464.1" r="0.55"/><circle cx="413.0" cy="497.2" r="0.52"/><circle cx="485.8" cy="537.1" r="0.35"/><circle cx="533.7" cy="490.3" r="0.57"/><circle cx="441.1" cy="419.5" r="0.56"/><circle cx="401.9" cy="520.2" r="0.48"/><circle cx="533.3" cy="478.0" r="0.54"/><circle cx="512.9" cy="458.4" r="0.52"/><circle cx="494.8" cy="422.8" r="0.42"/><circle cx="523.5" cy="436.6" r="0.51"/><circle cx="471.0" cy="418.0" r="0.42"/><circle cx="533.6" cy="512.7" r="0.40"/><circle cx="532.1" cy="488.4" r="0.41"/><circle cx="410.2" cy="439.9" r="0.37"/><circle cx="421.4" cy="423.3" r="0.40"/><circle cx="395.0" cy="457.4" r="0.46"/><circle cx="528.8" cy="484.5" r="0.49"/><circle cx="469.2" cy="419.5" r="0.59"/><circle cx="441.4" cy="467.9" r="0.52"/><circle cx="416.2" cy="513.0" r="0.32"/><circle cx="425.3" cy="516.6" r="0.33"/><circle cx="511.4" cy="457.2" r="0.47"/><circle cx="532.3" cy="472.3" r="0.47"/><circle cx="408.6" cy="429.7" r="0.54"/><circle cx="429.7" cy="464.4" r="0.53"/><circle cx="495.8" cy="471.7" r="0.35"/><circle cx="497.0" cy="535.5" r="0.45"/><circle cx="532.6" cy="507.1" r="0.58"/><circle cx="397.7" cy="475.0" r="0.48"/><circle cx="449.2" cy="537.5" r="0.50"/><circle cx="448.4" cy="544.4" r="0.51"/><circle cx="523.7" cy="489.0" r="0.37"/><circle cx="483.0" cy="509.3" r="0.53"/><circle cx="515.7" cy="451.3" r="0.52"/><circle cx="500.2" cy="482.3" r="0.58"/><circle cx="497.4" cy="465.1" r="0.43"/><circle cx="531.6" cy="474.7" r="0.37"/><circle cx="529.0" cy="461.4" r="0.52"/><circle cx="531.6" cy="476.8" r="0.55"/><circle cx="518.8" cy="525.9" r="0.49"/><circle cx="483.1" cy="539.8" r="0.32"/><circle cx="514.0" cy="526.9" r="0.43"/><circle cx="390.5" cy="502.2" r="0.38"/><circle cx="399.6" cy="514.5" r="0.53"/><circle cx="534.7" cy="483.6" r="0.59"/><circle cx="469.2" cy="550.4" r="0.33"/><circle cx="481.1" cy="416.4" r="0.49"/><circle cx="454.9" cy="538.1" r="0.51"/><circle cx="402.8" cy="451.1" r="0.49"/><circle cx="492.5" cy="546.3" r="0.37"/><circle cx="536.4" cy="448.3" r="0.56"/><circle cx="495.4" cy="495.4" r="0.38"/><circle cx="415.7" cy="444.8" r="0.33"/><circle cx="527.8" cy="511.2" r="0.33"/><circle cx="391.1" cy="464.3" r="0.49"/><circle cx="399.6" cy="491.8" r="0.36"/><circle cx="461.5" cy="431.1" r="0.55"/><circle cx="493.5" cy="508.3" r="0.54"/><circle cx="472.3" cy="421.9" r="0.36"/><circle cx="460.1" cy="541.1" r="0.54"/><circle cx="426.9" cy="439.7" r="0.60"/><circle cx="404.3" cy="468.7" r="0.52"/><circle cx="388.9" cy="515.4" r="0.41"/><circle cx="494.8" cy="458.0" r="0.32"/><circle cx="424.6" cy="470.4" r="0.45"/><circle cx="440.4" cy="546.2" r="0.53"/><circle cx="473.0" cy="518.6" r="0.50"/><circle cx="449.5" cy="518.2" r="0.52"/><circle cx="447.7" cy="548.1" r="0.34"/><circle cx="453.9" cy="431.1" r="0.41"/><circle cx="451.7" cy="446.3" r="0.47"/><circle cx="540.7" cy="458.6" r="0.57"/><circle cx="485.6" cy="430.5" r="0.39"/><circle cx="413.7" cy="515.3" r="0.58"/><circle cx="464.4" cy="554.3" r="0.41"/><circle cx="421.6" cy="525.6" r="0.42"/><circle cx="485.6" cy="536.4" r="0.47"/><circle cx="386.3" cy="467.5" r="0.55"/><circle cx="495.7" cy="539.4" r="0.53"/><circle cx="447.4" cy="552.6" r="0.31"/><circle cx="395.6" cy="468.1" r="0.47"/><circle cx="414.5" cy="426.5" r="0.54"/><circle cx="425.8" cy="474.8" r="0.54"/><circle cx="500.5" cy="502.2" r="0.52"/><circle cx="534.6" cy="520.0" r="0.49"/><circle cx="462.2" cy="442.7" r="0.49"/><circle cx="474.1" cy="532.3" r="0.53"/><circle cx="470.0" cy="424.8" r="0.42"/><circle cx="525.0" cy="474.0" r="0.50"/><circle cx="395.7" cy="470.8" r="0.52"/><circle cx="529.9" cy="451.2" r="0.42"/><circle cx="423.2" cy="425.4" r="0.56"/><circle cx="503.7" cy="425.9" r="0.57"/><circle cx="410.1" cy="429.6" r="0.46"/><circle cx="488.4" cy="422.6" r="0.43"/><circle cx="504.0" cy="529.4" r="0.52"/><circle cx="403.4" cy="535.1" r="0.35"/><circle cx="415.0" cy="505.5" r="0.39"/><circle cx="542.0" cy="510.4" r="0.39"/><circle cx="435.8" cy="453.0" r="0.53"/><circle cx="512.1" cy="501.5" r="0.44"/><circle cx="525.1" cy="451.1" r="0.31"/><circle cx="481.8" cy="520.0" r="0.37"/><circle cx="451.9" cy="437.5" r="0.48"/><circle cx="485.7" cy="528.0" r="0.38"/><circle cx="465.9" cy="440.5" r="0.39"/><circle cx="492.9" cy="429.0" r="0.44"/><circle cx="507.8" cy="452.4" r="0.57"/><circle cx="403.3" cy="468.9" r="0.59"/><circle cx="476.1" cy="542.2" r="0.31"/><circle cx="490.1" cy="417.2" r="0.42"/><circle cx="392.8" cy="478.5" r="0.38"/><circle cx="417.0" cy="424.5" r="0.37"/><circle cx="439.9" cy="488.0" r="0.41"/><circle cx="445.3" cy="418.7" r="0.48"/><circle cx="491.5" cy="520.3" r="0.40"/><circle cx="503.2" cy="448.4" r="0.45"/><circle cx="538.3" cy="481.8" r="0.38"/><circle cx="505.2" cy="533.5" r="0.53"/><circle cx="469.3" cy="474.3" r="0.55"/><circle cx="533.4" cy="518.2" r="0.38"/><circle cx="526.9" cy="522.1" r="0.44"/><circle cx="529.6" cy="468.4" r="0.48"/><circle cx="436.6" cy="549.6" r="0.54"/><circle cx="521.1" cy="456.3" r="0.33"/><circle cx="484.3" cy="550.4" r="0.46"/><circle cx="502.5" cy="534.8" r="0.55"/><circle cx="440.7" cy="532.7" r="0.32"/><circle cx="403.8" cy="495.1" r="0.51"/><circle cx="438.9" cy="434.6" r="0.33"/><circle cx="399.9" cy="497.7" r="0.59"/><circle cx="417.7" cy="428.2" r="0.30"/><circle cx="447.4" cy="431.4" r="0.37"/><circle cx="393.6" cy="500.5" r="0.30"/><circle cx="489.4" cy="416.1" r="0.36"/><circle cx="444.9" cy="545.4" r="0.41"/><circle cx="442.2" cy="542.3" r="0.40"/><circle cx="430.8" cy="436.5" r="0.38"/><circle cx="457.2" cy="438.9" r="0.40"/><circle cx="386.3" cy="457.3" r="0.52"/><circle cx="492.5" cy="437.7" r="0.33"/><circle cx="504.2" cy="507.7" r="0.50"/><circle cx="496.4" cy="543.6" r="0.42"/><circle cx="396.0" cy="446.8" r="0.33"/><circle cx="494.4" cy="524.1" r="0.34"/><circle cx="522.8" cy="509.2" r="0.58"/><circle cx="396.7" cy="480.4" r="0.49"/><circle cx="497.6" cy="424.2" r="0.42"/><circle cx="410.4" cy="512.2" r="0.30"/><circle cx="443.1" cy="431.5" r="0.59"/><circle cx="421.0" cy="427.5" r="0.48"/><circle cx="449.9" cy="505.1" r="0.40"/><circle cx="522.7" cy="524.0" r="0.41"/><circle cx="480.4" cy="426.6" r="0.55"/><circle cx="503.8" cy="537.1" r="0.53"/><circle cx="384.7" cy="463.6" r="0.41"/><circle cx="507.5" cy="530.6" r="0.51"/><circle cx="379.2" cy="477.3" r="0.51"/><circle cx="489.8" cy="549.2" r="0.58"/><circle cx="487.5" cy="544.3" r="0.32"/><circle cx="412.7" cy="462.1" r="0.51"/><circle cx="519.7" cy="461.8" r="0.41"/><circle cx="512.2" cy="525.3" r="0.59"/><circle cx="503.5" cy="461.2" r="0.46"/><circle cx="396.3" cy="461.8" r="0.38"/><circle cx="546.2" cy="481.0" r="0.55"/><circle cx="516.4" cy="528.0" r="0.55"/><circle cx="511.4" cy="453.8" r="0.37"/><circle cx="498.8" cy="430.6" r="0.36"/><circle cx="527.2" cy="512.6" r="0.31"/><circle cx="515.9" cy="480.9" r="0.58"/><circle cx="436.7" cy="544.4" r="0.50"/><circle cx="406.0" cy="529.3" r="0.48"/><circle cx="543.0" cy="491.4" r="0.36"/><circle cx="506.3" cy="530.0" r="0.42"/><circle cx="497.0" cy="539.1" r="0.46"/><circle cx="410.2" cy="463.9" r="0.40"/><circle cx="536.5" cy="499.5" r="0.50"/><circle cx="511.4" cy="473.9" r="0.48"/><circle cx="405.1" cy="515.3" r="0.49"/><circle cx="467.4" cy="419.7" r="0.53"/><circle cx="532.9" cy="482.5" r="0.55"/><circle cx="395.1" cy="521.8" r="0.43"/><circle cx="523.5" cy="450.1" r="0.46"/><circle cx="398.9" cy="509.3" r="0.57"/><circle cx="521.7" cy="502.1" r="0.52"/><circle cx="454.2" cy="415.0" r="0.48"/><circle cx="437.0" cy="547.1" r="0.48"/><circle cx="492.1" cy="508.6" r="0.43"/><circle cx="407.6" cy="520.4" r="0.32"/><circle cx="387.8" cy="473.8" r="0.37"/><circle cx="415.2" cy="516.0" r="0.37"/><circle cx="497.5" cy="466.5" r="0.59"/><circle cx="514.2" cy="436.7" r="0.43"/><circle cx="477.6" cy="551.2" r="0.52"/><circle cx="523.1" cy="449.5" r="0.33"/><circle cx="520.2" cy="531.8" r="0.46"/><circle cx="547.3" cy="484.8" r="0.37"/><circle cx="436.1" cy="530.3" r="0.32"/><circle cx="496.4" cy="420.5" r="0.42"/><circle cx="408.8" cy="456.9" r="0.31"/><circle cx="489.4" cy="468.3" r="0.39"/><circle cx="527.5" cy="460.6" r="0.59"/><circle cx="482.1" cy="540.7" r="0.39"/><circle cx="529.7" cy="442.0" r="0.36"/><circle cx="414.3" cy="538.9" r="0.44"/><circle cx="501.3" cy="454.3" r="0.60"/><circle cx="426.9" cy="450.5" r="0.36"/><circle cx="541.5" cy="506.0" r="0.33"/><circle cx="433.5" cy="545.2" r="0.57"/><circle cx="444.7" cy="417.1" r="0.34"/><circle cx="534.5" cy="459.7" r="0.43"/><circle cx="470.5" cy="519.4" r="0.39"/><circle cx="489.0" cy="546.3" r="0.35"/><circle cx="434.5" cy="443.2" r="0.54"/><circle cx="429.6" cy="438.0" r="0.57"/><circle cx="473.1" cy="546.1" r="0.39"/><circle cx="422.1" cy="423.4" r="0.38"/><circle cx="526.8" cy="518.5" r="0.59"/><circle cx="397.0" cy="474.4" r="0.46"/><circle cx="434.5" cy="466.7" r="0.39"/><circle cx="482.4" cy="438.3" r="0.33"/><circle cx="465.6" cy="433.9" r="0.37"/><circle cx="406.7" cy="469.5" r="0.36"/><circle cx="545.7" cy="479.1" r="0.31"/><circle cx="463.8" cy="426.5" r="0.42"/><circle cx="380.2" cy="484.5" r="0.35"/><circle cx="419.3" cy="436.2" r="0.41"/><circle cx="479.1" cy="421.8" r="0.46"/><circle cx="503.1" cy="435.4" r="0.51"/><circle cx="531.0" cy="466.5" r="0.35"/><circle cx="503.8" cy="542.3" r="0.48"/><circle cx="410.7" cy="502.1" r="0.53"/><circle cx="483.8" cy="419.4" r="0.37"/><circle cx="476.0" cy="542.5" r="0.47"/><circle cx="531.7" cy="497.5" r="0.48"/><circle cx="394.0" cy="455.6" r="0.56"/><circle cx="493.9" cy="520.8" r="0.31"/><circle cx="399.5" cy="508.1" r="0.43"/><circle cx="481.1" cy="437.3" r="0.32"/><circle cx="388.4" cy="455.1" r="0.46"/><circle cx="469.5" cy="551.7" r="0.34"/><circle cx="522.6" cy="498.1" r="0.39"/><circle cx="390.1" cy="474.5" r="0.38"/><circle cx="525.7" cy="517.3" r="0.55"/><circle cx="461.9" cy="528.4" r="0.35"/><circle cx="500.8" cy="427.8" r="0.54"/><circle cx="430.6" cy="502.0" r="0.41"/><circle cx="517.9" cy="475.9" r="0.31"/><circle cx="468.4" cy="425.7" r="0.60"/><circle cx="416.0" cy="496.1" r="0.52"/><circle cx="465.5" cy="513.5" r="0.57"/><circle cx="425.0" cy="510.5" r="0.39"/><circle cx="522.8" cy="510.7" r="0.31"/><circle cx="470.6" cy="412.8" r="0.52"/><circle cx="462.4" cy="532.2" r="0.47"/><circle cx="408.0" cy="496.1" r="0.58"/><circle cx="430.2" cy="530.8" r="0.59"/><circle cx="535.3" cy="500.0" r="0.42"/><circle cx="533.8" cy="507.4" r="0.40"/><circle cx="514.1" cy="435.6" r="0.48"/><circle cx="383.6" cy="500.7" r="0.42"/><circle cx="404.0" cy="531.1" r="0.53"/><circle cx="431.7" cy="522.8" r="0.36"/><circle cx="500.5" cy="536.7" r="0.36"/><circle cx="409.4" cy="493.9" r="0.39"/><circle cx="531.3" cy="482.1" r="0.50"/><circle cx="486.5" cy="550.8" r="0.41"/><circle cx="448.8" cy="452.3" r="0.41"/><circle cx="522.3" cy="490.3" r="0.35"/><circle cx="417.8" cy="515.3" r="0.58"/><circle cx="454.5" cy="549.6" r="0.41"/><circle cx="509.9" cy="468.0" r="0.41"/><circle cx="450.4" cy="418.6" r="0.57"/><circle cx="451.0" cy="506.3" r="0.42"/><circle cx="494.8" cy="460.3" r="0.40"/><circle cx="385.1" cy="476.4" r="0.32"/><circle cx="468.3" cy="539.8" r="0.31"/><circle cx="422.2" cy="460.6" r="0.31"/><circle cx="409.0" cy="508.4" r="0.46"/><circle cx="450.4" cy="444.8" r="0.38"/><circle cx="424.4" cy="427.6" r="0.34"/><circle cx="453.2" cy="529.8" r="0.51"/><circle cx="413.6" cy="521.1" r="0.56"/><circle cx="448.9" cy="530.3" r="0.40"/><circle cx="517.0" cy="496.4" r="0.31"/><circle cx="395.1" cy="459.0" r="0.54"/><circle cx="438.4" cy="552.8" r="0.50"/><circle cx="481.0" cy="553.2" r="0.51"/><circle cx="536.4" cy="466.6" r="0.56"/><circle cx="425.4" cy="449.0" r="0.33"/><circle cx="411.2" cy="520.0" r="0.32"/><circle cx="432.8" cy="533.0" r="0.45"/><circle cx="495.8" cy="526.8" r="0.42"/><circle cx="498.0" cy="535.1" r="0.50"/><circle cx="511.0" cy="511.1" r="0.40"/><circle cx="502.5" cy="530.4" r="0.47"/><circle cx="390.8" cy="463.1" r="0.51"/><circle cx="440.5" cy="500.3" r="0.41"/><circle cx="431.2" cy="503.3" r="0.32"/><circle cx="403.6" cy="454.1" r="0.44"/><circle cx="462.2" cy="537.1" r="0.31"/><circle cx="512.6" cy="450.8" r="0.47"/><circle cx="434.7" cy="441.4" r="0.36"/><circle cx="412.0" cy="445.9" r="0.59"/><circle cx="406.7" cy="459.5" r="0.58"/><circle cx="408.4" cy="436.5" r="0.49"/><circle cx="406.3" cy="512.9" r="0.38"/><circle cx="522.2" cy="437.6" r="0.41"/><circle cx="543.9" cy="501.1" r="0.34"/><circle cx="438.2" cy="540.0" r="0.41"/><circle cx="513.2" cy="542.3" r="0.36"/><circle cx="439.6" cy="441.4" r="0.37"/><circle cx="451.9" cy="481.7" r="0.42"/><circle cx="406.6" cy="486.4" r="0.50"/><circle cx="412.5" cy="441.6" r="0.47"/><circle cx="542.7" cy="471.2" r="0.40"/><circle cx="511.2" cy="449.4" r="0.39"/><circle cx="437.5" cy="422.8" r="0.51"/><circle cx="501.4" cy="420.9" r="0.35"/><circle cx="389.2" cy="488.2" r="0.47"/><circle cx="449.2" cy="537.6" r="0.52"/><circle cx="469.3" cy="544.7" r="0.37"/><circle cx="490.7" cy="531.7" r="0.45"/><circle cx="507.4" cy="500.1" r="0.32"/><circle cx="450.9" cy="448.0" r="0.33"/><circle cx="472.9" cy="427.4" r="0.44"/><circle cx="497.6" cy="452.3" r="0.56"/><circle cx="462.6" cy="516.2" r="0.45"/><circle cx="401.3" cy="526.8" r="0.51"/><circle cx="451.2" cy="436.7" r="0.40"/><circle cx="467.1" cy="431.6" r="0.55"/><circle cx="390.0" cy="456.4" r="0.43"/><circle cx="408.3" cy="438.9" r="0.55"/><circle cx="519.9" cy="532.4" r="0.41"/><circle cx="472.5" cy="548.4" r="0.36"/><circle cx="441.5" cy="473.4" r="0.58"/><circle cx="519.7" cy="537.7" r="0.51"/><circle cx="418.3" cy="443.0" r="0.42"/><circle cx="546.7" cy="479.5" r="0.31"/><circle cx="520.4" cy="528.9" r="0.31"/><circle cx="456.5" cy="434.1" r="0.60"/><circle cx="440.9" cy="519.4" r="0.31"/><circle cx="392.3" cy="491.0" r="0.41"/><circle cx="482.6" cy="435.3" r="0.55"/><circle cx="417.1" cy="516.3" r="0.49"/><circle cx="541.8" cy="476.5" r="0.42"/><circle cx="389.9" cy="466.0" r="0.54"/><circle cx="486.0" cy="522.0" r="0.33"/><circle cx="462.8" cy="555.1" r="0.45"/><circle cx="442.5" cy="520.1" r="0.31"/><circle cx="508.4" cy="532.7" r="0.49"/><circle cx="471.8" cy="534.1" r="0.44"/><circle cx="459.6" cy="538.7" r="0.32"/><circle cx="494.3" cy="463.6" r="0.39"/><circle cx="480.6" cy="516.7" r="0.45"/><circle cx="488.6" cy="553.2" r="0.56"/><circle cx="403.9" cy="514.6" r="0.54"/><circle cx="524.8" cy="504.2" r="0.47"/><circle cx="409.4" cy="439.8" r="0.38"/><circle cx="518.6" cy="431.3" r="0.60"/><circle cx="497.5" cy="434.9" r="0.52"/><circle cx="515.0" cy="491.9" r="0.35"/><circle cx="505.3" cy="502.4" r="0.41"/><circle cx="434.6" cy="546.3" r="0.45"/><circle cx="469.4" cy="504.0" r="0.59"/><circle cx="439.8" cy="481.0" r="0.54"/><circle cx="456.2" cy="417.3" r="0.42"/><circle cx="501.0" cy="424.7" r="0.53"/><circle cx="531.7" cy="527.0" r="0.59"/><circle cx="445.2" cy="430.9" r="0.38"/><circle cx="545.4" cy="494.8" r="0.47"/><circle cx="420.6" cy="515.2" r="0.41"/><circle cx="491.7" cy="425.1" r="0.41"/><circle cx="417.9" cy="534.9" r="0.38"/><circle cx="427.5" cy="547.5" r="0.33"/><circle cx="460.2" cy="431.6" r="0.36"/><circle cx="388.6" cy="465.5" r="0.50"/><circle cx="504.7" cy="511.9" r="0.34"/><circle cx="406.0" cy="507.1" r="0.30"/><circle cx="405.9" cy="518.4" r="0.40"/><circle cx="531.7" cy="466.6" r="0.36"/><circle cx="428.2" cy="547.2" r="0.53"/><circle cx="509.0" cy="481.5" r="0.43"/><circle cx="479.5" cy="554.4" r="0.42"/><circle cx="497.3" cy="543.2" r="0.38"/><circle cx="535.6" cy="463.7" r="0.40"/><circle cx="430.5" cy="519.5" r="0.60"/><circle cx="430.5" cy="452.9" r="0.41"/><circle cx="481.1" cy="546.4" r="0.48"/><circle cx="514.4" cy="429.8" r="0.49"/><circle cx="399.6" cy="460.0" r="0.33"/><circle cx="433.6" cy="420.8" r="0.44"/><circle cx="397.2" cy="515.7" r="0.42"/><circle cx="418.1" cy="456.3" r="0.47"/><circle cx="532.7" cy="496.5" r="0.49"/><circle cx="407.0" cy="452.7" r="0.48"/><circle cx="511.7" cy="542.1" r="0.44"/><circle cx="457.1" cy="412.8" r="0.39"/><circle cx="541.4" cy="480.1" r="0.42"/><circle cx="520.6" cy="533.9" r="0.60"/><circle cx="470.4" cy="543.2" r="0.55"/><circle cx="533.1" cy="460.2" r="0.55"/><circle cx="383.9" cy="479.6" r="0.60"/><circle cx="490.6" cy="460.1" r="0.51"/><circle cx="483.8" cy="438.7" r="0.44"/><circle cx="510.9" cy="439.3" r="0.36"/><circle cx="426.7" cy="444.9" r="0.32"/><circle cx="480.2" cy="425.1" r="0.45"/><circle cx="481.1" cy="438.5" r="0.56"/><circle cx="388.2" cy="464.1" r="0.57"/><circle cx="509.7" cy="539.6" r="0.41"/><circle cx="507.0" cy="493.2" r="0.40"/><circle cx="504.5" cy="424.7" r="0.34"/><circle cx="423.2" cy="513.3" r="0.55"/><circle cx="524.1" cy="448.1" r="0.32"/><circle cx="486.2" cy="553.6" r="0.49"/><circle cx="452.0" cy="415.8" r="0.36"/><circle cx="394.6" cy="511.6" r="0.30"/><circle cx="438.4" cy="533.3" r="0.49"/><circle cx="416.1" cy="454.1" r="0.51"/><circle cx="500.0" cy="516.6" r="0.51"/><circle cx="510.8" cy="526.7" r="0.33"/><circle cx="399.1" cy="439.4" r="0.41"/><circle cx="517.3" cy="483.0" r="0.51"/><circle cx="413.6" cy="535.3" r="0.39"/><circle cx="503.6" cy="529.0" r="0.49"/><circle cx="492.0" cy="433.3" r="0.42"/><circle cx="395.3" cy="482.1" r="0.58"/><circle cx="445.4" cy="433.3" r="0.37"/><circle cx="447.6" cy="544.8" r="0.56"/><circle cx="500.1" cy="444.3" r="0.50"/><circle cx="525.8" cy="461.1" r="0.42"/><circle cx="400.6" cy="445.1" r="0.43"/><circle cx="429.1" cy="500.7" r="0.38"/><circle cx="528.3" cy="468.4" r="0.39"/><circle cx="427.4" cy="427.1" r="0.37"/><circle cx="508.2" cy="526.0" r="0.57"/><circle cx="412.8" cy="507.9" r="0.40"/><circle cx="510.9" cy="429.5" r="0.48"/><circle cx="521.7" cy="520.0" r="0.57"/><circle cx="435.3" cy="512.1" r="0.41"/><circle cx="425.8" cy="427.0" r="0.40"/><circle cx="541.9" cy="462.8" r="0.31"/><circle cx="390.1" cy="496.7" r="0.41"/><circle cx="435.9" cy="537.7" r="0.50"/><circle cx="536.1" cy="472.9" r="0.59"/><circle cx="396.4" cy="528.5" r="0.55"/><circle cx="440.7" cy="423.7" r="0.60"/><circle cx="424.8" cy="492.4" r="0.42"/><circle cx="478.6" cy="547.2" r="0.60"/><circle cx="426.0" cy="518.4" r="0.34"/><circle cx="460.1" cy="429.1" r="0.33"/><circle cx="433.0" cy="449.4" r="0.49"/><circle cx="461.8" cy="550.7" r="0.54"/><circle cx="476.2" cy="419.4" r="0.34"/><circle cx="531.9" cy="490.3" r="0.56"/><circle cx="529.9" cy="441.4" r="0.31"/><circle cx="401.7" cy="472.5" r="0.46"/><circle cx="474.7" cy="446.7" r="0.39"/><circle cx="513.3" cy="526.5" r="0.47"/><circle cx="504.3" cy="505.9" r="0.45"/><circle cx="473.9" cy="434.2" r="0.37"/><circle cx="526.1" cy="503.3" r="0.37"/><circle cx="399.9" cy="463.9" r="0.44"/><circle cx="527.9" cy="526.5" r="0.56"/><circle cx="513.0" cy="476.6" r="0.46"/><circle cx="413.2" cy="448.2" r="0.56"/><circle cx="391.5" cy="521.4" r="0.30"/><circle cx="484.5" cy="445.8" r="0.52"/><circle cx="506.3" cy="539.0" r="0.46"/><circle cx="487.7" cy="501.5" r="0.39"/><circle cx="411.1" cy="428.7" r="0.55"/><circle cx="432.5" cy="499.8" r="0.32"/><circle cx="508.0" cy="516.4" r="0.58"/><circle cx="401.4" cy="488.1" r="0.50"/><circle cx="541.1" cy="461.5" r="0.47"/><circle cx="521.1" cy="450.8" r="0.42"/><circle cx="459.4" cy="433.3" r="0.38"/><circle cx="405.5" cy="507.9" r="0.44"/><circle cx="405.7" cy="507.4" r="0.44"/><circle cx="482.3" cy="457.8" r="0.32"/><circle cx="395.6" cy="466.8" r="0.42"/><circle cx="508.8" cy="512.1" r="0.41"/><circle cx="402.3" cy="489.7" r="0.37"/><circle cx="385.3" cy="489.8" r="0.30"/><circle cx="528.1" cy="472.7" r="0.30"/><circle cx="534.7" cy="469.3" r="0.41"/><circle cx="413.5" cy="530.2" r="0.39"/><circle cx="400.9" cy="451.1" r="0.39"/><circle cx="393.9" cy="478.5" r="0.53"/><circle cx="494.7" cy="501.9" r="0.38"/><circle cx="480.2" cy="436.6" r="0.43"/><circle cx="396.9" cy="524.3" r="0.39"/><circle cx="529.1" cy="517.6" r="0.60"/><circle cx="425.4" cy="544.8" r="0.40"/><circle cx="482.7" cy="418.4" r="0.49"/><circle cx="466.7" cy="452.4" r="0.31"/><circle cx="392.9" cy="464.2" r="0.58"/><circle cx="537.7" cy="493.4" r="0.58"/><circle cx="394.7" cy="452.5" r="0.30"/><circle cx="395.5" cy="516.9" r="0.50"/><circle cx="536.8" cy="448.7" r="0.32"/><circle cx="389.6" cy="509.0" r="0.53"/><circle cx="402.2" cy="502.2" r="0.43"/><circle cx="443.6" cy="520.3" r="0.52"/><circle cx="493.8" cy="507.4" r="0.55"/><circle cx="391.1" cy="465.4" r="0.33"/><circle cx="446.3" cy="521.3" r="0.59"/><circle cx="527.3" cy="455.8" r="0.36"/><circle cx="398.8" cy="471.8" r="0.55"/><circle cx="496.7" cy="455.9" r="0.44"/><circle cx="434.2" cy="495.8" r="0.41"/><circle cx="532.0" cy="456.4" r="0.45"/><circle cx="405.1" cy="526.5" r="0.53"/><circle cx="461.3" cy="446.2" r="0.35"/><circle cx="485.2" cy="543.7" r="0.40"/><circle cx="433.5" cy="519.6" r="0.48"/><circle cx="409.4" cy="523.1" r="0.47"/><circle cx="412.5" cy="537.8" r="0.48"/><circle cx="532.2" cy="477.4" r="0.40"/><circle cx="471.4" cy="549.2" r="0.38"/><circle cx="394.1" cy="454.6" r="0.38"/><circle cx="481.4" cy="454.7" r="0.41"/><circle cx="392.9" cy="511.4" r="0.49"/><circle cx="534.9" cy="475.2" r="0.57"/><circle cx="395.5" cy="489.3" r="0.37"/><circle cx="526.3" cy="524.4" r="0.39"/><circle cx="542.7" cy="499.5" r="0.51"/><circle cx="394.7" cy="465.0" r="0.40"/><circle cx="511.2" cy="471.6" r="0.53"/><circle cx="528.9" cy="523.5" r="0.54"/><circle cx="480.9" cy="529.2" r="0.46"/><circle cx="517.2" cy="527.6" r="0.53"/><circle cx="522.4" cy="447.9" r="0.58"/><circle cx="413.2" cy="533.4" r="0.59"/><circle cx="443.8" cy="548.0" r="0.56"/><circle cx="456.3" cy="550.1" r="0.37"/><circle cx="435.7" cy="478.9" r="0.38"/><circle cx="462.4" cy="535.6" r="0.34"/><circle cx="453.7" cy="542.7" r="0.39"/><circle cx="404.2" cy="481.6" r="0.56"/><circle cx="495.8" cy="451.2" r="0.56"/><circle cx="392.3" cy="467.5" r="0.52"/><circle cx="425.3" cy="433.5" r="0.58"/><circle cx="458.6" cy="551.4" r="0.32"/><circle cx="409.2" cy="538.2" r="0.54"/><circle cx="409.4" cy="498.5" r="0.41"/><circle cx="536.5" cy="461.6" r="0.45"/><circle cx="421.4" cy="534.4" r="0.37"/><circle cx="528.0" cy="529.8" r="0.58"/><circle cx="531.5" cy="512.4" r="0.57"/><circle cx="422.4" cy="469.3" r="0.34"/><circle cx="432.6" cy="551.3" r="0.56"/><circle cx="444.0" cy="456.0" r="0.32"/><circle cx="434.9" cy="472.9" r="0.59"/><circle cx="510.5" cy="433.4" r="0.54"/><circle cx="526.2" cy="512.5" r="0.46"/><circle cx="411.3" cy="477.0" r="0.41"/><circle cx="486.2" cy="540.6" r="0.51"/><circle cx="397.2" cy="489.5" r="0.32"/><circle cx="398.5" cy="463.7" r="0.59"/><circle cx="511.4" cy="530.4" r="0.39"/><circle cx="444.9" cy="433.8" r="0.58"/><circle cx="543.8" cy="462.4" r="0.58"/><circle cx="538.2" cy="457.1" r="0.31"/><circle cx="404.9" cy="452.7" r="0.51"/><circle cx="407.3" cy="443.5" r="0.58"/><circle cx="421.0" cy="480.1" r="0.59"/><circle cx="488.2" cy="502.2" r="0.56"/><circle cx="546.5" cy="495.2" r="0.31"/><circle cx="433.1" cy="421.2" r="0.46"/><circle cx="466.9" cy="422.7" r="0.54"/><circle cx="473.5" cy="488.4" r="0.54"/><circle cx="505.7" cy="422.6" r="0.42"/><circle cx="427.7" cy="528.0" r="0.30"/><circle cx="457.4" cy="551.2" r="0.48"/><circle cx="427.2" cy="536.2" r="0.50"/><circle cx="470.2" cy="542.0" r="0.56"/><circle cx="494.2" cy="520.3" r="0.38"/><circle cx="478.0" cy="427.2" r="0.40"/><circle cx="431.3" cy="444.8" r="0.38"/><circle cx="461.3" cy="544.5" r="0.56"/><circle cx="469.4" cy="529.1" r="0.39"/><circle cx="454.3" cy="432.3" r="0.50"/><circle cx="386.4" cy="467.7" r="0.32"/><circle cx="466.3" cy="551.2" r="0.37"/><circle cx="529.8" cy="480.9" r="0.41"/><circle cx="517.5" cy="455.9" r="0.60"/><circle cx="506.4" cy="526.0" r="0.54"/><circle cx="421.8" cy="541.7" r="0.54"/><circle cx="448.5" cy="537.9" r="0.48"/><circle cx="386.2" cy="494.5" r="0.55"/><circle cx="437.9" cy="484.6" r="0.41"/><circle cx="497.5" cy="467.4" r="0.34"/><circle cx="502.8" cy="452.5" r="0.59"/><circle cx="418.0" cy="543.6" r="0.58"/><circle cx="452.6" cy="443.9" r="0.58"/><circle cx="498.8" cy="518.7" r="0.50"/><circle cx="451.4" cy="415.7" r="0.58"/><circle cx="416.1" cy="526.0" r="0.34"/><circle cx="518.3" cy="465.7" r="0.32"/><circle cx="433.0" cy="521.2" r="0.31"/><circle cx="488.5" cy="531.7" r="0.34"/><circle cx="394.7" cy="469.4" r="0.47"/><circle cx="385.8" cy="473.3" r="0.58"/><circle cx="470.6" cy="519.7" r="0.32"/><circle cx="467.6" cy="432.8" r="0.58"/><circle cx="501.0" cy="534.7" r="0.40"/><circle cx="443.5" cy="543.6" r="0.54"/><circle cx="381.8" cy="502.4" r="0.48"/><circle cx="384.3" cy="499.5" r="0.36"/><circle cx="546.3" cy="474.7" r="0.31"/><circle cx="399.6" cy="523.5" r="0.32"/><circle cx="487.3" cy="522.8" r="0.52"/><circle cx="518.1" cy="490.2" r="0.37"/><circle cx="383.7" cy="484.8" r="0.50"/><circle cx="491.7" cy="537.5" r="0.30"/><circle cx="522.4" cy="497.8" r="0.38"/><circle cx="412.8" cy="530.6" r="0.44"/><circle cx="433.0" cy="542.1" r="0.41"/><circle cx="391.8" cy="450.6" r="0.43"/><circle cx="394.2" cy="499.4" r="0.40"/><circle cx="472.2" cy="554.3" r="0.58"/><circle cx="523.5" cy="438.0" r="0.35"/><circle cx="533.5" cy="478.7" r="0.39"/><circle cx="454.9" cy="441.2" r="0.37"/><circle cx="503.6" cy="536.3" r="0.58"/><circle cx="512.5" cy="513.5" r="0.51"/><circle cx="404.6" cy="465.0" r="0.45"/><circle cx="380.7" cy="478.2" r="0.41"/><circle cx="449.4" cy="484.8" r="0.38"/><circle cx="414.3" cy="439.1" r="0.44"/><circle cx="420.2" cy="485.1" r="0.44"/><circle cx="537.2" cy="472.6" r="0.38"/><circle cx="521.8" cy="513.6" r="0.54"/><circle cx="490.5" cy="442.3" r="0.54"/><circle cx="511.0" cy="456.4" r="0.45"/><circle cx="400.5" cy="465.2" r="0.58"/><circle cx="394.3" cy="491.1" r="0.39"/><circle cx="382.5" cy="483.2" r="0.40"/><circle cx="475.2" cy="529.1" r="0.55"/><circle cx="542.7" cy="475.5" r="0.58"/><circle cx="485.9" cy="422.6" r="0.51"/><circle cx="488.9" cy="420.1" r="0.35"/><circle cx="437.1" cy="548.7" r="0.37"/><circle cx="545.7" cy="494.6" r="0.45"/><circle cx="479.8" cy="433.0" r="0.48"/><circle cx="539.0" cy="455.6" r="0.49"/><circle cx="443.9" cy="455.5" r="0.33"/><circle cx="521.9" cy="432.7" r="0.39"/><circle cx="445.3" cy="442.3" r="0.53"/><circle cx="402.9" cy="434.5" r="0.34"/><circle cx="536.0" cy="508.2" r="0.56"/><circle cx="480.9" cy="419.3" r="0.56"/><circle cx="531.6" cy="463.1" r="0.49"/><circle cx="411.4" cy="523.7" r="0.41"/><circle cx="479.2" cy="505.7" r="0.54"/><circle cx="431.5" cy="445.3" r="0.53"/><circle cx="387.1" cy="478.0" r="0.39"/><circle cx="486.2" cy="530.7" r="0.49"/><circle cx="535.0" cy="461.5" r="0.40"/><circle cx="534.2" cy="447.3" r="0.39"/><circle cx="402.2" cy="436.1" r="0.59"/><circle cx="424.0" cy="542.6" r="0.38"/><circle cx="392.8" cy="489.1" r="0.31"/><circle cx="384.0" cy="469.2" r="0.44"/><circle cx="463.6" cy="550.8" r="0.36"/><circle cx="467.5" cy="546.2" r="0.40"/><circle cx="501.7" cy="495.5" r="0.41"/><circle cx="530.9" cy="465.5" r="0.49"/><circle cx="408.2" cy="515.6" r="0.37"/><circle cx="530.2" cy="469.6" r="0.34"/><circle cx="437.0" cy="432.1" r="0.53"/><circle cx="418.0" cy="437.2" r="0.58"/><circle cx="462.9" cy="554.5" r="0.46"/><circle cx="379.8" cy="472.0" r="0.36"/><circle cx="537.4" cy="507.9" r="0.35"/><circle cx="453.3" cy="544.8" r="0.52"/><circle cx="430.7" cy="544.2" r="0.53"/><circle cx="442.9" cy="423.2" r="0.44"/><circle cx="516.2" cy="519.8" r="0.44"/><circle cx="527.6" cy="438.7" r="0.32"/><circle cx="458.6" cy="518.6" r="0.51"/><circle cx="510.3" cy="525.6" r="0.43"/><circle cx="460.9" cy="422.9" r="0.42"/><circle cx="432.0" cy="426.5" r="0.48"/><circle cx="454.7" cy="455.0" r="0.34"/><circle cx="426.3" cy="489.8" r="0.31"/><circle cx="431.9" cy="506.4" r="0.44"/><circle cx="506.9" cy="473.5" r="0.56"/><circle cx="404.3" cy="453.7" r="0.39"/><circle cx="525.2" cy="533.5" r="0.39"/><circle cx="500.5" cy="449.2" r="0.45"/><circle cx="410.2" cy="517.8" r="0.57"/><circle cx="478.4" cy="436.9" r="0.51"/><circle cx="418.3" cy="527.5" r="0.43"/><circle cx="436.2" cy="537.4" r="0.49"/><circle cx="441.6" cy="537.5" r="0.53"/><circle cx="396.3" cy="494.1" r="0.56"/><circle cx="415.0" cy="525.1" r="0.57"/><circle cx="482.3" cy="414.8" r="0.42"/><circle cx="459.2" cy="420.2" r="0.39"/><circle cx="537.3" cy="464.1" r="0.50"/><circle cx="393.8" cy="510.0" r="0.50"/><circle cx="470.7" cy="437.4" r="0.46"/><circle cx="417.5" cy="544.5" r="0.51"/><circle cx="440.1" cy="496.0" r="0.53"/><circle cx="419.4" cy="452.2" r="0.37"/><circle cx="529.1" cy="482.3" r="0.36"/><circle cx="540.6" cy="510.2" r="0.47"/><circle cx="505.5" cy="426.4" r="0.42"/><circle cx="446.2" cy="424.1" r="0.53"/><circle cx="394.6" cy="452.9" r="0.38"/><circle cx="392.1" cy="460.0" r="0.46"/><circle cx="518.9" cy="538.8" r="0.53"/><circle cx="454.4" cy="432.5" r="0.59"/><circle cx="409.5" cy="464.0" r="0.46"/><circle cx="498.3" cy="535.8" r="0.49"/><circle cx="420.8" cy="424.8" r="0.39"/><circle cx="393.4" cy="517.1" r="0.34"/><circle cx="391.9" cy="499.9" r="0.46"/><circle cx="386.7" cy="454.1" r="0.59"/><circle cx="467.1" cy="430.8" r="0.32"/><circle cx="441.8" cy="436.5" r="0.51"/><circle cx="404.7" cy="531.2" r="0.38"/><circle cx="401.5" cy="471.9" r="0.31"/><circle cx="428.0" cy="438.8" r="0.34"/><circle cx="506.2" cy="447.2" r="0.58"/><circle cx="488.7" cy="528.4" r="0.34"/><circle cx="475.2" cy="449.7" r="0.52"/><circle cx="405.1" cy="487.9" r="0.51"/><circle cx="476.6" cy="460.5" r="0.56"/><circle cx="447.6" cy="439.9" r="0.51"/><circle cx="508.8" cy="447.8" r="0.37"/><circle cx="436.6" cy="538.3" r="0.43"/><circle cx="390.9" cy="455.6" r="0.48"/><circle cx="477.6" cy="555.2" r="0.37"/><circle cx="507.1" cy="535.5" r="0.59"/><circle cx="405.0" cy="504.1" r="0.43"/><circle cx="533.0" cy="449.9" r="0.50"/><circle cx="431.7" cy="519.2" r="0.51"/><circle cx="504.5" cy="453.0" r="0.56"/><circle cx="426.6" cy="520.3" r="0.37"/><circle cx="537.6" cy="503.6" r="0.51"/><circle cx="484.7" cy="456.6" r="0.46"/><circle cx="523.9" cy="519.4" r="0.31"/><circle cx="526.7" cy="479.3" r="0.48"/><circle cx="538.8" cy="511.0" r="0.33"/><circle cx="454.1" cy="461.5" r="0.35"/><circle cx="434.1" cy="441.1" r="0.51"/><circle cx="402.9" cy="495.2" r="0.39"/><circle cx="418.9" cy="532.7" r="0.41"/><circle cx="448.4" cy="531.6" r="0.38"/><circle cx="453.6" cy="505.6" r="0.48"/><circle cx="508.1" cy="517.0" r="0.55"/><circle cx="394.9" cy="480.2" r="0.39"/><circle cx="465.6" cy="414.9" r="0.49"/><circle cx="436.7" cy="424.6" r="0.45"/><circle cx="412.4" cy="520.3" r="0.45"/><circle cx="395.9" cy="474.0" r="0.46"/><circle cx="525.6" cy="442.4" r="0.37"/><circle cx="454.3" cy="508.0" r="0.31"/><circle cx="405.5" cy="438.1" r="0.39"/><circle cx="499.8" cy="451.2" r="0.55"/><circle cx="436.1" cy="424.1" r="0.52"/><circle cx="409.0" cy="519.2" r="0.47"/><circle cx="545.4" cy="480.7" r="0.58"/><circle cx="535.7" cy="515.3" r="0.37"/><circle cx="382.3" cy="465.2" r="0.45"/><circle cx="503.1" cy="445.0" r="0.46"/><circle cx="538.9" cy="517.3" r="0.60"/><circle cx="478.7" cy="501.8" r="0.42"/><circle cx="521.1" cy="525.2" r="0.47"/><circle cx="386.7" cy="512.4" r="0.53"/><circle cx="399.7" cy="453.7" r="0.35"/><circle cx="519.1" cy="450.5" r="0.50"/><circle cx="411.1" cy="499.8" r="0.46"/><circle cx="408.2" cy="459.6" r="0.49"/><circle cx="468.7" cy="507.4" r="0.50"/><circle cx="513.1" cy="505.2" r="0.53"/><circle cx="523.8" cy="470.6" r="0.47"/><circle cx="434.3" cy="455.8" r="0.38"/><circle cx="450.5" cy="417.4" r="0.53"/><circle cx="500.8" cy="491.4" r="0.54"/><circle cx="478.1" cy="524.2" r="0.31"/><circle cx="413.0" cy="491.7" r="0.59"/><circle cx="459.9" cy="536.8" r="0.55"/><circle cx="428.5" cy="450.8" r="0.48"/><circle cx="543.8" cy="503.7" r="0.47"/><circle cx="492.5" cy="435.3" r="0.38"/><circle cx="494.1" cy="544.7" r="0.45"/><circle cx="468.8" cy="555.7" r="0.38"/><circle cx="425.6" cy="422.0" r="0.32"/><circle cx="467.8" cy="529.3" r="0.39"/><circle cx="438.7" cy="419.1" r="0.59"/><circle cx="410.8" cy="438.2" r="0.41"/><circle cx="386.1" cy="487.2" r="0.32"/><circle cx="411.5" cy="523.8" r="0.46"/><circle cx="499.4" cy="489.9" r="0.59"/><circle cx="432.5" cy="532.3" r="0.34"/><circle cx="526.6" cy="452.7" r="0.35"/><circle cx="393.5" cy="484.6" r="0.53"/><circle cx="468.6" cy="545.7" r="0.36"/><circle cx="532.0" cy="515.5" r="0.56"/><circle cx="475.7" cy="510.3" r="0.44"/><circle cx="404.3" cy="437.6" r="0.52"/><circle cx="449.9" cy="418.8" r="0.32"/><circle cx="511.8" cy="539.1" r="0.35"/><circle cx="496.9" cy="489.6" r="0.56"/><circle cx="519.0" cy="512.9" r="0.31"/><circle cx="398.3" cy="443.6" r="0.57"/><circle cx="489.2" cy="503.1" r="0.39"/><circle cx="504.2" cy="513.8" r="0.36"/><circle cx="500.4" cy="539.8" r="0.35"/><circle cx="412.9" cy="527.1" r="0.34"/><circle cx="391.0" cy="481.4" r="0.42"/><circle cx="530.3" cy="498.9" r="0.48"/><circle cx="436.0" cy="523.5" r="0.30"/><circle cx="393.4" cy="448.1" r="0.42"/><circle cx="530.0" cy="462.1" r="0.34"/><circle cx="446.6" cy="431.3" r="0.41"/><circle cx="528.2" cy="448.9" r="0.31"/><circle cx="447.6" cy="533.3" r="0.53"/><circle cx="438.7" cy="420.6" r="0.58"/><circle cx="421.9" cy="512.4" r="0.56"/><circle cx="523.4" cy="527.9" r="0.59"/><circle cx="515.5" cy="435.1" r="0.41"/><circle cx="534.9" cy="468.5" r="0.57"/><circle cx="519.6" cy="445.1" r="0.60"/><circle cx="418.4" cy="427.6" r="0.59"/><circle cx="422.9" cy="508.3" r="0.47"/><circle cx="472.8" cy="444.5" r="0.32"/><circle cx="449.7" cy="546.6" r="0.40"/><circle cx="490.1" cy="542.9" r="0.43"/><circle cx="544.6" cy="478.8" r="0.38"/><circle cx="441.3" cy="433.5" r="0.36"/><circle cx="489.2" cy="549.7" r="0.47"/><circle cx="526.3" cy="484.9" r="0.30"/><circle cx="456.5" cy="495.6" r="0.38"/><circle cx="408.5" cy="429.8" r="0.32"/><circle cx="472.0" cy="549.7" r="0.44"/><circle cx="511.7" cy="433.0" r="0.58"/><circle cx="436.0" cy="536.0" r="0.42"/><circle cx="460.3" cy="432.6" r="0.44"/><circle cx="507.7" cy="537.4" r="0.53"/><circle cx="488.0" cy="552.7" r="0.48"/><circle cx="513.3" cy="494.0" r="0.42"/><circle cx="457.1" cy="440.1" r="0.47"/><circle cx="538.1" cy="471.6" r="0.32"/><circle cx="506.8" cy="492.9" r="0.44"/><circle cx="431.0" cy="422.1" r="0.46"/><circle cx="407.0" cy="534.1" r="0.33"/><circle cx="537.6" cy="494.7" r="0.37"/><circle cx="480.3" cy="507.4" r="0.32"/><circle cx="512.9" cy="528.0" r="0.48"/><circle cx="418.5" cy="541.1" r="0.34"/><circle cx="453.3" cy="420.7" r="0.57"/><circle cx="400.8" cy="454.4" r="0.56"/><circle cx="538.8" cy="474.4" r="0.39"/><circle cx="410.4" cy="434.8" r="0.44"/><circle cx="439.9" cy="487.5" r="0.38"/><circle cx="389.9" cy="480.8" r="0.45"/><circle cx="489.5" cy="508.5" r="0.48"/><circle cx="539.7" cy="480.7" r="0.54"/><circle cx="405.7" cy="498.5" r="0.45"/><circle cx="400.5" cy="526.2" r="0.58"/><circle cx="407.9" cy="519.6" r="0.44"/><circle cx="527.2" cy="484.4" r="0.31"/><circle cx="521.2" cy="511.2" r="0.50"/><circle cx="493.1" cy="518.7" r="0.43"/><circle cx="469.8" cy="422.3" r="0.43"/><circle cx="422.8" cy="522.3" r="0.57"/><circle cx="518.5" cy="487.8" r="0.57"/><circle cx="510.2" cy="527.9" r="0.34"/><circle cx="463.0" cy="414.8" r="0.32"/><circle cx="480.7" cy="547.3" r="0.43"/><circle cx="533.6" cy="504.2" r="0.58"/><circle cx="502.2" cy="526.2" r="0.53"/><circle cx="508.0" cy="493.5" r="0.50"/><circle cx="519.3" cy="450.4" r="0.54"/><circle cx="516.0" cy="497.5" r="0.48"/><circle cx="441.8" cy="539.8" r="0.58"/><circle cx="429.4" cy="448.1" r="0.32"/><circle cx="542.4" cy="462.2" r="0.49"/><circle cx="453.4" cy="432.8" r="0.57"/><circle cx="540.6" cy="501.6" r="0.45"/><circle cx="416.6" cy="472.6" r="0.59"/><circle cx="464.1" cy="553.6" r="0.47"/><circle cx="493.7" cy="530.0" r="0.52"/><circle cx="422.7" cy="541.5" r="0.43"/><circle cx="452.7" cy="420.1" r="0.44"/><circle cx="502.1" cy="506.9" r="0.35"/><circle cx="382.9" cy="486.1" r="0.49"/><circle cx="419.9" cy="524.3" r="0.35"/><circle cx="397.0" cy="440.5" r="0.34"/><circle cx="400.6" cy="446.9" r="0.48"/><circle cx="402.1" cy="442.4" r="0.56"/><circle cx="393.3" cy="524.0" r="0.49"/><circle cx="408.9" cy="513.6" r="0.41"/><circle cx="418.3" cy="535.5" r="0.41"/><circle cx="488.4" cy="419.1" r="0.50"/><circle cx="402.3" cy="529.6" r="0.49"/><circle cx="440.4" cy="529.3" r="0.33"/><circle cx="533.7" cy="452.4" r="0.39"/><circle cx="511.5" cy="521.3" r="0.34"/><circle cx="521.9" cy="444.7" r="0.33"/><circle cx="466.8" cy="435.5" r="0.37"/><circle cx="414.2" cy="539.9" r="0.44"/><circle cx="449.8" cy="529.0" r="0.43"/><circle cx="455.7" cy="434.6" r="0.31"/><circle cx="487.8" cy="424.4" r="0.40"/><circle cx="502.5" cy="515.5" r="0.32"/><circle cx="400.0" cy="443.8" r="0.30"/><circle cx="408.1" cy="451.0" r="0.40"/><circle cx="434.3" cy="497.9" r="0.41"/><circle cx="409.9" cy="539.6" r="0.58"/><circle cx="390.6" cy="453.3" r="0.34"/><circle cx="531.1" cy="520.9" r="0.47"/><circle cx="500.5" cy="505.1" r="0.42"/><circle cx="514.0" cy="482.3" r="0.47"/><circle cx="542.9" cy="465.7" r="0.53"/><circle cx="389.4" cy="495.3" r="0.53"/><circle cx="505.0" cy="538.4" r="0.46"/><circle cx="397.4" cy="479.0" r="0.51"/><circle cx="394.2" cy="457.0" r="0.54"/><circle cx="530.9" cy="521.9" r="0.34"/><circle cx="482.8" cy="510.4" r="0.59"/><circle cx="406.7" cy="503.9" r="0.44"/><circle cx="450.2" cy="544.8" r="0.53"/><circle cx="498.8" cy="440.9" r="0.54"/><circle cx="451.3" cy="481.3" r="0.33"/><circle cx="537.9" cy="513.9" r="0.38"/><circle cx="397.1" cy="448.4" r="0.50"/><circle cx="397.7" cy="477.3" r="0.36"/><circle cx="460.4" cy="542.5" r="0.50"/><circle cx="493.0" cy="513.8" r="0.36"/><circle cx="401.4" cy="454.9" r="0.30"/><circle cx="506.8" cy="422.8" r="0.41"/><circle cx="486.8" cy="446.3" r="0.59"/><circle cx="465.5" cy="440.1" r="0.55"/><circle cx="485.0" cy="552.8" r="0.34"/><circle cx="469.5" cy="527.6" r="0.57"/><circle cx="381.8" cy="496.0" r="0.34"/><circle cx="467.0" cy="538.2" r="0.49"/><circle cx="476.2" cy="419.7" r="0.43"/><circle cx="396.6" cy="496.1" r="0.41"/><circle cx="436.5" cy="431.5" r="0.51"/><circle cx="406.8" cy="463.0" r="0.34"/><circle cx="436.4" cy="504.2" r="0.41"/><circle cx="492.1" cy="497.7" r="0.43"/><circle cx="507.2" cy="424.1" r="0.31"/><circle cx="421.7" cy="522.8" r="0.39"/><circle cx="422.4" cy="462.3" r="0.55"/><circle cx="492.5" cy="533.7" r="0.33"/><circle cx="466.0" cy="462.3" r="0.37"/><circle cx="483.2" cy="420.9" r="0.33"/><circle cx="442.2" cy="525.9" r="0.53"/><circle cx="438.1" cy="547.0" r="0.44"/><circle cx="400.9" cy="494.0" r="0.54"/><circle cx="485.2" cy="438.6" r="0.58"/><circle cx="534.8" cy="468.7" r="0.58"/><circle cx="515.3" cy="482.1" r="0.36"/><circle cx="521.4" cy="531.3" r="0.39"/><circle cx="499.5" cy="436.0" r="0.50"/><circle cx="507.1" cy="456.9" r="0.56"/><circle cx="530.4" cy="503.2" r="0.39"/><circle cx="410.9" cy="509.4" r="0.58"/><circle cx="494.6" cy="428.1" r="0.32"/><circle cx="456.8" cy="436.2" r="0.40"/><circle cx="515.3" cy="502.8" r="0.32"/><circle cx="400.0" cy="468.4" r="0.42"/><circle cx="445.1" cy="543.8" r="0.31"/><circle cx="424.5" cy="539.9" r="0.45"/><circle cx="455.4" cy="538.9" r="0.32"/><circle cx="445.5" cy="533.4" r="0.33"/><circle cx="432.0" cy="487.8" r="0.31"/><circle cx="411.1" cy="537.9" r="0.43"/><circle cx="533.7" cy="493.6" r="0.33"/><circle cx="389.0" cy="461.1" r="0.45"/><circle cx="464.0" cy="431.1" r="0.45"/><circle cx="504.3" cy="426.6" r="0.57"/><circle cx="427.8" cy="426.1" r="0.44"/><circle cx="400.8" cy="455.7" r="0.46"/><circle cx="514.0" cy="431.5" r="0.32"/><circle cx="405.0" cy="440.2" r="0.48"/><circle cx="542.3" cy="506.0" r="0.44"/><circle cx="524.7" cy="467.1" r="0.35"/><circle cx="508.1" cy="532.8" r="0.53"/><circle cx="457.1" cy="425.8" r="0.39"/><circle cx="545.5" cy="487.6" r="0.37"/><circle cx="519.9" cy="439.0" r="0.53"/><circle cx="515.2" cy="508.9" r="0.51"/><circle cx="535.8" cy="509.0" r="0.58"/><circle cx="533.0" cy="497.1" r="0.44"/><circle cx="513.2" cy="516.9" r="0.57"/><circle cx="522.8" cy="534.2" r="0.43"/><circle cx="435.8" cy="440.3" r="0.33"/><circle cx="410.7" cy="512.8" r="0.44"/><circle cx="408.1" cy="452.1" r="0.58"/><circle cx="533.1" cy="445.7" r="0.55"/><circle cx="465.5" cy="532.1" r="0.44"/><circle cx="404.5" cy="445.1" r="0.40"/><circle cx="431.1" cy="550.9" r="0.31"/><circle cx="474.4" cy="520.1" r="0.52"/><circle cx="541.7" cy="502.3" r="0.37"/><circle cx="476.5" cy="437.4" r="0.57"/><circle cx="510.3" cy="514.2" r="0.59"/><circle cx="445.9" cy="414.6" r="0.44"/><circle cx="472.0" cy="418.5" r="0.45"/><circle cx="405.2" cy="476.6" r="0.50"/><circle cx="423.8" cy="444.2" r="0.34"/><circle cx="483.7" cy="553.8" r="0.37"/><circle cx="543.4" cy="462.5" r="0.58"/><circle cx="510.5" cy="428.6" r="0.55"/><circle cx="528.2" cy="512.1" r="0.52"/><circle cx="505.9" cy="426.2" r="0.31"/><circle cx="458.8" cy="451.8" r="0.45"/><circle cx="545.7" cy="480.4" r="0.43"/><circle cx="424.8" cy="429.0" r="0.51"/><circle cx="422.4" cy="442.7" r="0.32"/><circle cx="449.8" cy="415.6" r="0.54"/><circle cx="482.6" cy="540.2" r="0.44"/><circle cx="390.7" cy="465.2" r="0.33"/><circle cx="449.3" cy="493.5" r="0.37"/><circle cx="473.5" cy="531.3" r="0.42"/><circle cx="529.1" cy="450.7" r="0.50"/><circle cx="482.8" cy="466.5" r="0.48"/><circle cx="404.6" cy="441.3" r="0.41"/><circle cx="520.1" cy="507.6" r="0.50"/><circle cx="447.7" cy="455.6" r="0.57"/><circle cx="403.9" cy="444.7" r="0.54"/><circle cx="495.7" cy="418.8" r="0.60"/><circle cx="531.6" cy="489.8" r="0.48"/><circle cx="512.4" cy="436.4" r="0.48"/><circle cx="527.5" cy="486.1" r="0.55"/><circle cx="537.7" cy="478.7" r="0.48"/><circle cx="474.8" cy="416.3" r="0.60"/><circle cx="518.2" cy="449.6" r="0.42"/><circle cx="452.4" cy="502.7" r="0.41"/><circle cx="396.5" cy="528.6" r="0.38"/><circle cx="526.3" cy="521.8" r="0.39"/><circle cx="510.0" cy="523.6" r="0.48"/><circle cx="485.0" cy="430.9" r="0.40"/><circle cx="491.8" cy="551.9" r="0.46"/><circle cx="519.3" cy="488.7" r="0.39"/><circle cx="442.2" cy="551.9" r="0.45"/><circle cx="456.4" cy="544.3" r="0.46"/><circle cx="440.3" cy="511.7" r="0.39"/><circle cx="473.6" cy="417.0" r="0.51"/><circle cx="512.6" cy="438.2" r="0.52"/><circle cx="489.3" cy="507.9" r="0.52"/><circle cx="544.3" cy="479.9" r="0.53"/><circle cx="417.3" cy="466.9" r="0.49"/><circle cx="512.5" cy="531.3" r="0.59"/><circle cx="455.2" cy="543.7" r="0.59"/><circle cx="522.4" cy="508.0" r="0.50"/><circle cx="475.1" cy="532.9" r="0.39"/><circle cx="432.1" cy="541.2" r="0.50"/><circle cx="546.0" cy="480.5" r="0.57"/><circle cx="461.9" cy="554.9" r="0.55"/><circle cx="425.8" cy="466.5" r="0.32"/><circle cx="505.7" cy="472.6" r="0.34"/><circle cx="387.2" cy="473.4" r="0.30"/><circle cx="537.4" cy="509.6" r="0.57"/><circle cx="383.2" cy="486.1" r="0.43"/><circle cx="453.9" cy="459.4" r="0.31"/><circle cx="526.8" cy="457.3" r="0.50"/><circle cx="455.1" cy="445.7" r="0.51"/><circle cx="471.9" cy="432.2" r="0.47"/><circle cx="398.0" cy="475.4" r="0.38"/><circle cx="509.4" cy="451.9" r="0.40"/><circle cx="410.6" cy="534.2" r="0.36"/><circle cx="476.6" cy="481.9" r="0.53"/><circle cx="391.8" cy="446.5" r="0.32"/><circle cx="512.2" cy="497.7" r="0.48"/><circle cx="535.0" cy="467.1" r="0.39"/><circle cx="473.7" cy="531.6" r="0.34"/><circle cx="432.1" cy="485.5" r="0.43"/><circle cx="524.7" cy="468.1" r="0.39"/><circle cx="384.6" cy="470.7" r="0.33"/><circle cx="439.0" cy="467.5" r="0.56"/><circle cx="452.6" cy="454.7" r="0.37"/><circle cx="501.6" cy="428.3" r="0.52"/><circle cx="495.4" cy="524.8" r="0.59"/><circle cx="537.0" cy="452.0" r="0.46"/><circle cx="438.4" cy="507.5" r="0.57"/><circle cx="452.3" cy="516.9" r="0.31"/><circle cx="413.8" cy="539.8" r="0.32"/><circle cx="481.7" cy="536.2" r="0.43"/><circle cx="422.9" cy="431.8" r="0.33"/><circle cx="530.4" cy="505.4" r="0.43"/><circle cx="457.2" cy="552.1" r="0.55"/><circle cx="418.6" cy="514.7" r="0.54"/><circle cx="446.9" cy="479.5" r="0.46"/><circle cx="536.8" cy="463.4" r="0.51"/><circle cx="481.1" cy="529.4" r="0.44"/><circle cx="407.2" cy="467.9" r="0.33"/><circle cx="397.1" cy="517.0" r="0.31"/><circle cx="506.7" cy="468.7" r="0.55"/><circle cx="400.4" cy="528.9" r="0.60"/><circle cx="455.7" cy="441.2" r="0.58"/><circle cx="518.3" cy="485.7" r="0.34"/><circle cx="477.5" cy="450.6" r="0.48"/><circle cx="515.4" cy="523.1" r="0.49"/><circle cx="496.0" cy="515.2" r="0.48"/><circle cx="487.1" cy="424.1" r="0.55"/><circle cx="447.3" cy="523.4" r="0.34"/><circle cx="532.1" cy="495.0" r="0.56"/><circle cx="490.9" cy="424.1" r="0.45"/><circle cx="505.6" cy="424.1" r="0.55"/><circle cx="480.5" cy="550.7" r="0.40"/><circle cx="466.9" cy="452.5" r="0.44"/><circle cx="442.7" cy="554.0" r="0.43"/><circle cx="543.6" cy="471.1" r="0.53"/><circle cx="536.3" cy="452.4" r="0.38"/><circle cx="531.9" cy="509.0" r="0.50"/><circle cx="379.7" cy="481.9" r="0.34"/><circle cx="530.0" cy="509.1" r="0.44"/><circle cx="427.1" cy="502.1" r="0.55"/><circle cx="510.8" cy="431.8" r="0.44"/><circle cx="527.1" cy="503.9" r="0.54"/><circle cx="402.7" cy="518.1" r="0.34"/><circle cx="526.6" cy="506.8" r="0.34"/><circle cx="426.3" cy="500.6" r="0.34"/><circle cx="401.4" cy="441.0" r="0.56"/><circle cx="502.2" cy="535.9" r="0.38"/><circle cx="393.8" cy="449.6" r="0.49"/><circle cx="534.9" cy="503.3" r="0.36"/><circle cx="501.0" cy="437.3" r="0.58"/><circle cx="459.1" cy="546.5" r="0.31"/><circle cx="402.7" cy="517.6" r="0.58"/><circle cx="478.8" cy="528.9" r="0.30"/><circle cx="474.6" cy="459.6" r="0.56"/><circle cx="513.6" cy="488.6" r="0.47"/><circle cx="420.3" cy="452.4" r="0.57"/><circle cx="448.8" cy="549.7" r="0.48"/><circle cx="467.1" cy="433.7" r="0.38"/><circle cx="427.9" cy="422.2" r="0.57"/><circle cx="524.0" cy="469.3" r="0.47"/><circle cx="428.4" cy="445.3" r="0.39"/><circle cx="508.3" cy="494.2" r="0.48"/><circle cx="509.7" cy="513.0" r="0.53"/><circle cx="465.0" cy="442.8" r="0.38"/><circle cx="521.9" cy="462.2" r="0.55"/><circle cx="543.7" cy="476.1" r="0.48"/><circle cx="403.6" cy="435.3" r="0.47"/><circle cx="418.5" cy="520.6" r="0.47"/><circle cx="427.4" cy="446.6" r="0.56"/><circle cx="475.6" cy="549.4" r="0.31"/><circle cx="404.7" cy="506.4" r="0.55"/><circle cx="392.2" cy="477.7" r="0.48"/><circle cx="432.1" cy="429.6" r="0.47"/><circle cx="469.8" cy="545.2" r="0.34"/><circle cx="514.6" cy="447.1" r="0.58"/><circle cx="409.7" cy="461.4" r="0.46"/><circle cx="493.2" cy="536.5" r="0.54"/><circle cx="469.4" cy="520.3" r="0.38"/><circle cx="482.4" cy="527.7" r="0.32"/><circle cx="496.9" cy="537.5" r="0.49"/><circle cx="411.3" cy="440.5" r="0.44"/><circle cx="442.6" cy="544.7" r="0.44"/><circle cx="480.0" cy="547.8" r="0.52"/><circle cx="535.7" cy="474.7" r="0.48"/><circle cx="471.7" cy="424.0" r="0.39"/><circle cx="404.8" cy="507.0" r="0.52"/><circle cx="494.2" cy="544.8" r="0.59"/><circle cx="379.0" cy="486.5" r="0.60"/><circle cx="407.8" cy="526.3" r="0.33"/><circle cx="440.5" cy="471.9" r="0.52"/><circle cx="478.7" cy="423.0" r="0.43"/><circle cx="401.4" cy="444.3" r="0.49"/><circle cx="427.7" cy="431.7" r="0.47"/><circle cx="443.8" cy="451.8" r="0.51"/><circle cx="529.3" cy="473.8" r="0.44"/><circle cx="412.2" cy="481.4" r="0.41"/><circle cx="502.8" cy="456.5" r="0.35"/><circle cx="500.7" cy="541.9" r="0.46"/><circle cx="535.6" cy="522.6" r="0.56"/><circle cx="483.6" cy="482.1" r="0.57"/><circle cx="419.5" cy="440.7" r="0.44"/><circle cx="431.9" cy="518.7" r="0.43"/><circle cx="525.1" cy="530.0" r="0.46"/><circle cx="398.4" cy="465.5" r="0.54"/><circle cx="430.7" cy="540.4" r="0.59"/><circle cx="453.7" cy="546.3" r="0.46"/><circle cx="541.7" cy="504.4" r="0.49"/><circle cx="447.1" cy="541.7" r="0.35"/><circle cx="411.3" cy="502.8" r="0.43"/><circle cx="454.1" cy="546.4" r="0.49"/><circle cx="483.0" cy="428.5" r="0.54"/><circle cx="519.7" cy="477.5" r="0.46"/><circle cx="461.7" cy="537.5" r="0.51"/><circle cx="436.2" cy="432.3" r="0.38"/><circle cx="456.1" cy="553.2" r="0.56"/><circle cx="408.7" cy="517.8" r="0.47"/><circle cx="395.8" cy="466.7" r="0.47"/><circle cx="459.7" cy="413.6" r="0.33"/><circle cx="547.8" cy="491.5" r="0.32"/><circle cx="450.6" cy="551.7" r="0.31"/><circle cx="411.3" cy="485.8" r="0.55"/><circle cx="477.9" cy="505.2" r="0.30"/><circle cx="448.6" cy="513.6" r="0.45"/><circle cx="413.2" cy="427.3" r="0.56"/><circle cx="525.5" cy="451.3" r="0.50"/><circle cx="423.9" cy="519.2" r="0.44"/><circle cx="504.2" cy="466.7" r="0.44"/><circle cx="409.4" cy="486.9" r="0.54"/><circle cx="413.1" cy="458.3" r="0.33"/><circle cx="485.4" cy="529.2" r="0.45"/><circle cx="474.4" cy="548.7" r="0.51"/><circle cx="463.9" cy="422.5" r="0.60"/><circle cx="526.0" cy="483.3" r="0.44"/><circle cx="494.4" cy="538.1" r="0.33"/><circle cx="523.5" cy="522.9" r="0.31"/><circle cx="422.5" cy="475.0" r="0.36"/><circle cx="469.8" cy="435.2" r="0.43"/><circle cx="442.2" cy="446.5" r="0.60"/><circle cx="393.5" cy="505.8" r="0.46"/><circle cx="504.0" cy="429.0" r="0.54"/><circle cx="474.3" cy="436.6" r="0.33"/><circle cx="415.7" cy="482.6" r="0.36"/><circle cx="448.2" cy="544.4" r="0.58"/><circle cx="490.4" cy="432.3" r="0.58"/><circle cx="471.4" cy="427.2" r="0.45"/><circle cx="510.2" cy="523.7" r="0.50"/><circle cx="431.9" cy="419.4" r="0.40"/><circle cx="419.5" cy="531.7" r="0.42"/><circle cx="542.5" cy="487.3" r="0.44"/><circle cx="506.0" cy="532.1" r="0.52"/><circle cx="416.0" cy="512.5" r="0.37"/><circle cx="396.8" cy="510.8" r="0.51"/><circle cx="477.5" cy="429.1" r="0.47"/><circle cx="418.3" cy="486.4" r="0.38"/><circle cx="520.9" cy="468.1" r="0.44"/><circle cx="507.0" cy="539.4" r="0.49"/><circle cx="471.8" cy="523.5" r="0.34"/><circle cx="488.7" cy="470.4" r="0.59"/><circle cx="527.5" cy="488.8" r="0.52"/><circle cx="536.2" cy="502.6" r="0.53"/><circle cx="467.7" cy="518.2" r="0.53"/><circle cx="471.4" cy="551.0" r="0.45"/><circle cx="400.0" cy="443.5" r="0.46"/><circle cx="511.7" cy="503.1" r="0.36"/><circle cx="405.1" cy="450.4" r="0.44"/><circle cx="394.6" cy="459.7" r="0.49"/><circle cx="499.7" cy="437.5" r="0.46"/><circle cx="545.2" cy="478.4" r="0.55"/><circle cx="434.4" cy="422.2" r="0.47"/><circle cx="509.5" cy="513.7" r="0.50"/><circle cx="419.7" cy="452.9" r="0.46"/><circle cx="396.8" cy="511.4" r="0.37"/><circle cx="443.5" cy="435.8" r="0.57"/><circle cx="439.4" cy="532.6" r="0.43"/><circle cx="418.3" cy="442.5" r="0.53"/><circle cx="492.1" cy="422.2" r="0.52"/><circle cx="383.5" cy="507.1" r="0.43"/><circle cx="434.0" cy="543.3" r="0.55"/><circle cx="401.1" cy="464.8" r="0.46"/><circle cx="527.4" cy="488.1" r="0.38"/><circle cx="529.3" cy="466.9" r="0.34"/><circle cx="544.9" cy="472.5" r="0.54"/><circle cx="522.6" cy="490.6" r="0.56"/><circle cx="451.5" cy="516.9" r="0.58"/><circle cx="497.5" cy="426.8" r="0.55"/><circle cx="411.1" cy="483.3" r="0.33"/><circle cx="398.7" cy="485.9" r="0.55"/><circle cx="433.4" cy="440.5" r="0.34"/><circle cx="517.7" cy="502.2" r="0.47"/><circle cx="446.6" cy="424.2" r="0.43"/><circle cx="449.1" cy="414.9" r="0.47"/><circle cx="498.5" cy="547.2" r="0.39"/><circle cx="405.1" cy="448.9" r="0.59"/><circle cx="536.5" cy="503.1" r="0.58"/><circle cx="482.4" cy="540.4" r="0.53"/><circle cx="509.1" cy="434.5" r="0.47"/><circle cx="406.5" cy="493.6" r="0.44"/><circle cx="408.0" cy="458.4" r="0.34"/><circle cx="506.1" cy="517.7" r="0.31"/><circle cx="458.0" cy="424.6" r="0.42"/><circle cx="399.3" cy="440.4" r="0.50"/><circle cx="511.7" cy="454.4" r="0.40"/><circle cx="466.5" cy="553.1" r="0.59"/><circle cx="496.7" cy="542.8" r="0.52"/><circle cx="425.5" cy="512.7" r="0.41"/><circle cx="423.1" cy="524.9" r="0.35"/><circle cx="518.3" cy="515.4" r="0.54"/><circle cx="448.5" cy="432.2" r="0.43"/><circle cx="524.8" cy="435.4" r="0.51"/><circle cx="532.8" cy="449.1" r="0.58"/><circle cx="408.1" cy="453.5" r="0.32"/><circle cx="433.3" cy="532.4" r="0.49"/><circle cx="464.1" cy="466.2" r="0.32"/><circle cx="397.0" cy="489.8" r="0.55"/><circle cx="508.3" cy="535.2" r="0.50"/><circle cx="421.5" cy="452.3" r="0.42"/><circle cx="383.8" cy="506.9" r="0.38"/><circle cx="522.6" cy="470.8" r="0.40"/><circle cx="407.7" cy="473.9" r="0.50"/><circle cx="536.8" cy="518.5" r="0.40"/><circle cx="385.9" cy="486.4" r="0.51"/><circle cx="527.2" cy="519.9" r="0.32"/><circle cx="446.1" cy="526.3" r="0.35"/><circle cx="508.6" cy="517.9" r="0.31"/><circle cx="467.0" cy="424.5" r="0.35"/><circle cx="457.5" cy="447.7" r="0.32"/><circle cx="414.6" cy="487.0" r="0.39"/><circle cx="384.1" cy="481.9" r="0.46"/><circle cx="527.1" cy="494.0" r="0.55"/><circle cx="493.9" cy="435.6" r="0.33"/><circle cx="398.4" cy="470.5" r="0.35"/><circle cx="501.2" cy="470.8" r="0.58"/><circle cx="381.8" cy="464.7" r="0.52"/><circle cx="390.5" cy="493.3" r="0.35"/><circle cx="393.2" cy="506.7" r="0.50"/><circle cx="454.0" cy="513.0" r="0.33"/><circle cx="385.4" cy="493.2" r="0.39"/><circle cx="384.8" cy="475.8" r="0.39"/><circle cx="528.9" cy="485.2" r="0.32"/><circle cx="496.2" cy="477.7" r="0.56"/><circle cx="530.3" cy="462.5" r="0.46"/><circle cx="523.9" cy="524.0" r="0.43"/><circle cx="401.2" cy="518.4" r="0.50"/><circle cx="428.0" cy="440.4" r="0.36"/><circle cx="400.9" cy="510.3" r="0.46"/><circle cx="465.3" cy="516.4" r="0.51"/><circle cx="412.6" cy="490.9" r="0.60"/><circle cx="456.1" cy="422.1" r="0.53"/><circle cx="399.4" cy="530.8" r="0.42"/><circle cx="541.1" cy="495.1" r="0.44"/><circle cx="408.2" cy="467.1" r="0.52"/><circle cx="382.1" cy="481.5" r="0.51"/><circle cx="441.0" cy="454.7" r="0.58"/><circle cx="389.4" cy="488.3" r="0.45"/><circle cx="492.1" cy="535.2" r="0.36"/><circle cx="384.2" cy="477.8" r="0.31"/><circle cx="499.5" cy="429.6" r="0.50"/><circle cx="513.7" cy="471.2" r="0.35"/><circle cx="395.4" cy="499.3" r="0.35"/><circle cx="486.4" cy="530.3" r="0.35"/><circle cx="442.3" cy="461.2" r="0.50"/><circle cx="518.6" cy="469.9" r="0.43"/><circle cx="524.8" cy="459.0" r="0.49"/><circle cx="462.2" cy="426.4" r="0.52"/><circle cx="518.9" cy="506.5" r="0.52"/><circle cx="400.2" cy="445.3" r="0.34"/><circle cx="498.9" cy="543.6" r="0.54"/><circle cx="414.9" cy="436.8" r="0.32"/><circle cx="456.6" cy="430.5" r="0.33"/><circle cx="434.3" cy="499.5" r="0.56"/><circle cx="472.9" cy="547.3" r="0.32"/><circle cx="507.9" cy="427.3" r="0.51"/><circle cx="463.8" cy="438.2" r="0.30"/><circle cx="441.4" cy="524.3" r="0.59"/><circle cx="481.3" cy="508.5" r="0.52"/><circle cx="454.6" cy="550.8" r="0.32"/><circle cx="543.4" cy="471.7" r="0.57"/><circle cx="525.9" cy="515.8" r="0.52"/><circle cx="500.4" cy="428.9" r="0.53"/><circle cx="532.9" cy="475.8" r="0.44"/><circle cx="419.4" cy="440.9" r="0.54"/><circle cx="531.8" cy="462.0" r="0.38"/><circle cx="523.0" cy="436.2" r="0.40"/><circle cx="438.2" cy="468.7" r="0.49"/><circle cx="385.0" cy="459.1" r="0.52"/><circle cx="502.1" cy="542.6" r="0.50"/><circle cx="477.7" cy="540.4" r="0.38"/><circle cx="457.4" cy="430.5" r="0.47"/><circle cx="521.6" cy="502.3" r="0.54"/><circle cx="504.0" cy="427.5" r="0.54"/><circle cx="455.9" cy="517.1" r="0.44"/><circle cx="490.6" cy="438.7" r="0.36"/><circle cx="438.7" cy="491.2" r="0.32"/><circle cx="438.8" cy="468.0" r="0.48"/><circle cx="528.2" cy="510.4" r="0.47"/><circle cx="439.7" cy="541.1" r="0.37"/><circle cx="413.3" cy="489.0" r="0.41"/><circle cx="429.9" cy="429.4" r="0.38"/><circle cx="459.6" cy="547.0" r="0.52"/><circle cx="418.3" cy="458.7" r="0.52"/><circle cx="385.2" cy="471.5" r="0.57"/><circle cx="485.8" cy="415.3" r="0.41"/><circle cx="422.4" cy="449.0" r="0.34"/><circle cx="506.9" cy="509.3" r="0.50"/><circle cx="520.9" cy="458.4" r="0.54"/><circle cx="425.1" cy="535.3" r="0.40"/><circle cx="492.0" cy="504.7" r="0.56"/><circle cx="524.0" cy="487.2" r="0.59"/><circle cx="473.5" cy="430.2" r="0.44"/><circle cx="537.2" cy="519.0" r="0.44"/><circle cx="537.9" cy="494.3" r="0.58"/><circle cx="436.0" cy="436.7" r="0.32"/><circle cx="499.2" cy="502.7" r="0.54"/><circle cx="535.7" cy="448.8" r="0.46"/><circle cx="470.9" cy="448.2" r="0.45"/><circle cx="410.7" cy="434.3" r="0.47"/><circle cx="495.8" cy="518.8" r="0.32"/><circle cx="447.2" cy="539.7" r="0.59"/><circle cx="465.6" cy="453.6" r="0.34"/><circle cx="503.3" cy="466.7" r="0.37"/><circle cx="400.2" cy="452.9" r="0.42"/><circle cx="503.7" cy="526.0" r="0.51"/><circle cx="411.6" cy="452.2" r="0.55"/><circle cx="426.9" cy="500.7" r="0.41"/><circle cx="403.1" cy="435.8" r="0.36"/><circle cx="531.5" cy="489.8" r="0.45"/><circle cx="489.6" cy="510.5" r="0.45"/><circle cx="480.0" cy="543.4" r="0.48"/><circle cx="445.5" cy="434.8" r="0.32"/><circle cx="386.7" cy="506.2" r="0.35"/><circle cx="421.7" cy="447.8" r="0.33"/><circle cx="478.5" cy="553.5" r="0.42"/><circle cx="424.3" cy="493.9" r="0.59"/><circle cx="486.7" cy="525.0" r="0.46"/><circle cx="510.2" cy="534.2" r="0.37"/><circle cx="468.4" cy="546.9" r="0.31"/><circle cx="515.5" cy="436.7" r="0.54"/><circle cx="482.4" cy="551.5" r="0.39"/><circle cx="408.5" cy="443.0" r="0.49"/><circle cx="470.8" cy="545.2" r="0.37"/><circle cx="503.3" cy="497.2" r="0.47"/><circle cx="494.1" cy="459.1" r="0.59"/><circle cx="512.0" cy="475.6" r="0.49"/><circle cx="448.6" cy="495.8" r="0.41"/><circle cx="519.3" cy="505.7" r="0.37"/><circle cx="437.6" cy="491.9" r="0.44"/><circle cx="513.7" cy="462.6" r="0.57"/><circle cx="485.8" cy="428.3" r="0.41"/><circle cx="477.2" cy="419.0" r="0.41"/><circle cx="417.0" cy="537.7" r="0.35"/><circle cx="513.8" cy="521.5" r="0.52"/><circle cx="405.7" cy="485.2" r="0.54"/><circle cx="525.4" cy="450.7" r="0.52"/><circle cx="459.1" cy="419.6" r="0.51"/><circle cx="394.7" cy="445.1" r="0.50"/><circle cx="393.2" cy="471.6" r="0.58"/><circle cx="485.8" cy="532.3" r="0.45"/><circle cx="449.8" cy="433.9" r="0.49"/><circle cx="467.3" cy="496.8" r="0.49"/><circle cx="435.6" cy="434.2" r="0.44"/><circle cx="446.5" cy="448.3" r="0.59"/><circle cx="431.0" cy="459.9" r="0.48"/><circle cx="389.4" cy="482.4" r="0.45"/><circle cx="522.3" cy="432.8" r="0.43"/><circle cx="423.8" cy="425.5" r="0.54"/><circle cx="540.1" cy="515.7" r="0.36"/><circle cx="487.1" cy="441.0" r="0.58"/><circle cx="407.7" cy="488.8" r="0.57"/><circle cx="397.2" cy="450.4" r="0.57"/><circle cx="533.4" cy="522.6" r="0.59"/><circle cx="418.2" cy="450.9" r="0.53"/><circle cx="442.6" cy="532.4" r="0.57"/><circle cx="542.2" cy="474.6" r="0.33"/><circle cx="458.6" cy="421.5" r="0.59"/><circle cx="448.9" cy="549.1" r="0.33"/><circle cx="460.6" cy="528.5" r="0.47"/><circle cx="500.3" cy="526.7" r="0.33"/><circle cx="493.8" cy="425.0" r="0.34"/><circle cx="533.5" cy="477.1" r="0.41"/><circle cx="490.1" cy="428.4" r="0.31"/><circle cx="476.0" cy="416.0" r="0.52"/><circle cx="400.6" cy="487.3" r="0.58"/><circle cx="497.3" cy="500.8" r="0.49"/><circle cx="513.2" cy="541.7" r="0.36"/><circle cx="480.1" cy="428.3" r="0.47"/><circle cx="535.2" cy="505.0" r="0.36"/><circle cx="451.9" cy="423.3" r="0.33"/><circle cx="446.4" cy="518.3" r="0.42"/><circle cx="493.5" cy="530.9" r="0.32"/><circle cx="535.5" cy="466.2" r="0.49"/><circle cx="521.5" cy="534.8" r="0.48"/><circle cx="500.2" cy="440.0" r="0.48"/><circle cx="527.2" cy="452.4" r="0.59"/><circle cx="418.5" cy="500.3" r="0.33"/><circle cx="475.2" cy="544.9" r="0.51"/><circle cx="527.1" cy="487.1" r="0.57"/><circle cx="458.0" cy="524.6" r="0.46"/><circle cx="468.8" cy="452.5" r="0.51"/><circle cx="429.6" cy="457.3" r="0.34"/><circle cx="522.8" cy="517.9" r="0.38"/><circle cx="398.2" cy="468.6" r="0.50"/><circle cx="421.0" cy="545.1" r="0.41"/><circle cx="459.2" cy="438.2" r="0.41"/><circle cx="483.0" cy="528.1" r="0.43"/><circle cx="388.7" cy="510.5" r="0.54"/><circle cx="403.5" cy="455.9" r="0.38"/><circle cx="452.9" cy="429.2" r="0.33"/><circle cx="462.3" cy="542.2" r="0.39"/><circle cx="483.6" cy="534.8" r="0.47"/><circle cx="466.1" cy="513.8" r="0.38"/><circle cx="490.1" cy="446.0" r="0.51"/><circle cx="518.7" cy="536.1" r="0.36"/><circle cx="402.2" cy="481.7" r="0.55"/><circle cx="515.0" cy="431.7" r="0.31"/><circle cx="447.4" cy="507.0" r="0.43"/><circle cx="451.4" cy="498.6" r="0.34"/><circle cx="483.7" cy="551.7" r="0.40"/><circle cx="493.7" cy="448.5" r="0.33"/><circle cx="475.9" cy="540.7" r="0.37"/><circle cx="444.6" cy="414.4" r="0.52"/><circle cx="526.5" cy="476.9" r="0.59"/><circle cx="474.2" cy="547.3" r="0.31"/><circle cx="392.1" cy="489.7" r="0.56"/><circle cx="498.2" cy="418.8" r="0.37"/><circle cx="399.2" cy="437.9" r="0.31"/><circle cx="516.4" cy="472.6" r="0.54"/><circle cx="422.5" cy="428.2" r="0.31"/><circle cx="438.8" cy="552.0" r="0.53"/><circle cx="392.2" cy="489.0" r="0.46"/><circle cx="505.8" cy="424.0" r="0.42"/><circle cx="500.3" cy="545.9" r="0.40"/><circle cx="522.6" cy="499.8" r="0.42"/><circle cx="478.4" cy="482.0" r="0.55"/><circle cx="527.6" cy="506.6" r="0.38"/><circle cx="442.1" cy="549.0" r="0.33"/><circle cx="404.4" cy="457.7" r="0.34"/><circle cx="402.9" cy="465.4" r="0.52"/><circle cx="529.5" cy="481.4" r="0.38"/><circle cx="532.4" cy="516.2" r="0.57"/><circle cx="496.8" cy="538.3" r="0.54"/><circle cx="519.7" cy="535.2" r="0.56"/><circle cx="411.7" cy="540.5" r="0.54"/><circle cx="392.7" cy="457.7" r="0.42"/><circle cx="488.2" cy="436.9" r="0.53"/><circle cx="539.6" cy="514.0" r="0.47"/><circle cx="479.1" cy="548.5" r="0.31"/><circle cx="479.3" cy="416.0" r="0.51"/><circle cx="405.7" cy="504.5" r="0.54"/><circle cx="456.0" cy="448.0" r="0.51"/><circle cx="529.0" cy="467.6" r="0.49"/><circle cx="491.7" cy="549.8" r="0.42"/><circle cx="403.3" cy="485.0" r="0.53"/><circle cx="535.2" cy="446.1" r="0.56"/><circle cx="454.8" cy="413.4" r="0.52"/><circle cx="427.2" cy="504.7" r="0.45"/><circle cx="500.4" cy="462.3" r="0.41"/><circle cx="513.3" cy="508.3" r="0.46"/><circle cx="522.9" cy="467.5" r="0.49"/><circle cx="500.3" cy="532.0" r="0.31"/><circle cx="405.1" cy="442.5" r="0.45"/><circle cx="404.1" cy="516.2" r="0.57"/><circle cx="467.9" cy="516.3" r="0.54"/><circle cx="433.3" cy="529.9" r="0.43"/><circle cx="467.1" cy="433.4" r="0.33"/><circle cx="447.5" cy="424.9" r="0.40"/><circle cx="415.8" cy="536.6" r="0.49"/><circle cx="445.0" cy="519.2" r="0.47"/><circle cx="391.3" cy="498.6" r="0.31"/><circle cx="510.9" cy="439.1" r="0.38"/><circle cx="423.8" cy="452.5" r="0.37"/><circle cx="503.6" cy="501.6" r="0.49"/><circle cx="474.5" cy="415.6" r="0.48"/><circle cx="510.9" cy="428.0" r="0.38"/><circle cx="527.5" cy="475.5" r="0.58"/><circle cx="412.1" cy="438.2" r="0.40"/><circle cx="442.7" cy="516.8" r="0.37"/><circle cx="421.6" cy="432.0" r="0.49"/><circle cx="546.3" cy="484.8" r="0.36"/><circle cx="433.0" cy="512.1" r="0.57"/><circle cx="484.4" cy="429.1" r="0.35"/><circle cx="482.7" cy="433.2" r="0.39"/><circle cx="400.3" cy="446.0" r="0.50"/><circle cx="443.4" cy="505.1" r="0.60"/><circle cx="452.0" cy="538.3" r="0.60"/><circle cx="439.2" cy="425.9" r="0.45"/><circle cx="406.2" cy="524.8" r="0.38"/><circle cx="472.0" cy="535.0" r="0.51"/><circle cx="495.4" cy="508.9" r="0.45"/><circle cx="480.1" cy="414.1" r="0.50"/><circle cx="484.6" cy="548.3" r="0.45"/><circle cx="436.3" cy="481.6" r="0.31"/><circle cx="497.2" cy="511.6" r="0.40"/><circle cx="477.2" cy="541.8" r="0.32"/><circle cx="508.3" cy="472.2" r="0.60"/><circle cx="517.7" cy="537.6" r="0.36"/><circle cx="545.1" cy="491.3" r="0.34"/><circle cx="536.9" cy="470.3" r="0.58"/><circle cx="430.1" cy="547.1" r="0.52"/><circle cx="530.9" cy="442.8" r="0.59"/><circle cx="481.5" cy="419.5" r="0.51"/><circle cx="403.6" cy="459.4" r="0.58"/><circle cx="535.3" cy="494.3" r="0.43"/><circle cx="442.7" cy="417.5" r="0.44"/><circle cx="466.8" cy="413.9" r="0.37"/><circle cx="516.1" cy="436.9" r="0.30"/><circle cx="387.6" cy="513.9" r="0.55"/><circle cx="452.9" cy="503.6" r="0.39"/><circle cx="433.1" cy="445.2" r="0.54"/><circle cx="527.1" cy="450.3" r="0.33"/><circle cx="414.8" cy="514.0" r="0.54"/><circle cx="541.4" cy="480.7" r="0.56"/><circle cx="458.8" cy="424.3" r="0.55"/><circle cx="433.1" cy="430.4" r="0.56"/><circle cx="507.9" cy="541.6" r="0.31"/><circle cx="494.5" cy="424.7" r="0.36"/><circle cx="467.0" cy="415.7" r="0.35"/><circle cx="435.9" cy="448.7" r="0.49"/><circle cx="506.1" cy="460.9" r="0.36"/><circle cx="539.6" cy="461.6" r="0.34"/><circle cx="390.3" cy="464.5" r="0.57"/><circle cx="405.9" cy="514.6" r="0.37"/><circle cx="428.9" cy="546.6" r="0.57"/><circle cx="488.8" cy="466.5" r="0.31"/><circle cx="537.3" cy="464.1" r="0.40"/><circle cx="400.6" cy="516.5" r="0.32"/><circle cx="382.6" cy="487.2" r="0.54"/><circle cx="480.9" cy="508.7" r="0.37"/><circle cx="542.9" cy="494.4" r="0.31"/><circle cx="414.5" cy="520.3" r="0.55"/><circle cx="468.7" cy="553.4" r="0.52"/><circle cx="470.0" cy="430.8" r="0.50"/><circle cx="423.8" cy="491.0" r="0.43"/><circle cx="399.2" cy="464.8" r="0.51"/><circle cx="398.1" cy="477.7" r="0.55"/><circle cx="490.1" cy="545.1" r="0.34"/><circle cx="519.8" cy="469.4" r="0.42"/><circle cx="543.5" cy="469.2" r="0.51"/><circle cx="461.5" cy="430.1" r="0.45"/><circle cx="379.7" cy="483.9" r="0.49"/><circle cx="411.1" cy="437.3" r="0.35"/><circle cx="398.2" cy="511.3" r="0.50"/><circle cx="484.9" cy="549.0" r="0.41"/><circle cx="519.9" cy="472.7" r="0.45"/><circle cx="529.8" cy="471.9" r="0.53"/><circle cx="382.1" cy="483.1" r="0.34"/><circle cx="519.2" cy="512.0" r="0.42"/><circle cx="396.1" cy="491.9" r="0.59"/><circle cx="499.4" cy="536.6" r="0.35"/><circle cx="387.6" cy="478.1" r="0.42"/><circle cx="404.7" cy="516.2" r="0.50"/><circle cx="533.5" cy="503.2" r="0.45"/><circle cx="413.4" cy="460.3" r="0.44"/><circle cx="540.3" cy="469.8" r="0.52"/><circle cx="389.3" cy="481.5" r="0.33"/><circle cx="489.0" cy="546.8" r="0.41"/><circle cx="456.7" cy="546.2" r="0.56"/><circle cx="534.2" cy="474.1" r="0.31"/><circle cx="433.2" cy="536.6" r="0.47"/><circle cx="400.2" cy="450.0" r="0.58"/><circle cx="417.1" cy="526.1" r="0.52"/><circle cx="455.0" cy="545.1" r="0.58"/><circle cx="513.4" cy="506.0" r="0.46"/><circle cx="514.1" cy="429.0" r="0.54"/><circle cx="389.6" cy="480.1" r="0.39"/><circle cx="415.4" cy="499.8" r="0.55"/><circle cx="535.1" cy="477.4" r="0.54"/><circle cx="403.3" cy="451.6" r="0.43"/><circle cx="504.6" cy="423.7" r="0.35"/><circle cx="427.0" cy="421.8" r="0.41"/><circle cx="394.6" cy="515.9" r="0.51"/><circle cx="415.7" cy="440.9" r="0.58"/><circle cx="381.8" cy="493.1" r="0.42"/><circle cx="425.0" cy="427.6" r="0.33"/><circle cx="450.6" cy="543.1" r="0.49"/><circle cx="448.2" cy="526.2" r="0.38"/><circle cx="409.0" cy="464.3" r="0.56"/><circle cx="418.1" cy="433.9" r="0.53"/><circle cx="404.7" cy="508.7" r="0.50"/><circle cx="464.6" cy="438.2" r="0.58"/><circle cx="538.8" cy="512.2" r="0.57"/><circle cx="501.7" cy="519.1" r="0.49"/><circle cx="490.6" cy="532.8" r="0.48"/><circle cx="394.0" cy="470.7" r="0.45"/><circle cx="476.2" cy="422.5" r="0.52"/><circle cx="499.6" cy="426.8" r="0.44"/><circle cx="520.5" cy="525.8" r="0.32"/><circle cx="434.8" cy="432.2" r="0.37"/><circle cx="443.0" cy="553.5" r="0.45"/><circle cx="531.1" cy="473.9" r="0.35"/><circle cx="425.1" cy="448.0" r="0.41"/><circle cx="506.1" cy="523.8" r="0.58"/><circle cx="403.9" cy="457.4" r="0.37"/><circle cx="529.2" cy="528.1" r="0.51"/><circle cx="424.6" cy="477.9" r="0.40"/><circle cx="385.8" cy="511.1" r="0.55"/><circle cx="466.3" cy="511.2" r="0.60"/><circle cx="526.0" cy="497.5" r="0.38"/><circle cx="400.5" cy="475.2" r="0.41"/><circle cx="403.3" cy="492.8" r="0.44"/><circle cx="411.0" cy="479.4" r="0.47"/><circle cx="458.9" cy="423.0" r="0.44"/><circle cx="515.1" cy="468.1" r="0.34"/><circle cx="410.7" cy="510.2" r="0.42"/><circle cx="498.7" cy="448.8" r="0.39"/><circle cx="408.0" cy="446.0" r="0.34"/><circle cx="508.6" cy="526.6" r="0.46"/><circle cx="510.9" cy="432.2" r="0.58"/><circle cx="418.8" cy="494.5" r="0.50"/><circle cx="524.1" cy="465.7" r="0.45"/><circle cx="538.1" cy="512.8" r="0.42"/><circle cx="503.7" cy="429.1" r="0.45"/><circle cx="468.6" cy="415.6" r="0.42"/><circle cx="386.7" cy="477.8" r="0.33"/><circle cx="509.6" cy="426.5" r="0.57"/><circle cx="473.0" cy="437.2" r="0.31"/><circle cx="440.8" cy="540.6" r="0.45"/><circle cx="401.7" cy="467.5" r="0.43"/><circle cx="420.4" cy="428.7" r="0.38"/><circle cx="467.7" cy="530.1" r="0.40"/><circle cx="396.6" cy="483.0" r="0.53"/><circle cx="457.5" cy="556.0" r="0.39"/><circle cx="534.1" cy="487.1" r="0.49"/><circle cx="435.3" cy="468.5" r="0.48"/><circle cx="528.3" cy="481.3" r="0.39"/><circle cx="484.9" cy="498.9" r="0.37"/><circle cx="458.3" cy="418.5" r="0.41"/><circle cx="506.2" cy="543.9" r="0.37"/><circle cx="392.4" cy="471.9" r="0.54"/><circle cx="513.4" cy="454.5" r="0.49"/><circle cx="395.1" cy="455.3" r="0.36"/><circle cx="531.3" cy="463.0" r="0.30"/><circle cx="441.2" cy="533.8" r="0.38"/><circle cx="416.4" cy="430.7" r="0.34"/><circle cx="519.2" cy="439.4" r="0.32"/><circle cx="441.0" cy="470.4" r="0.56"/><circle cx="391.6" cy="482.2" r="0.42"/><circle cx="525.3" cy="452.4" r="0.48"/><circle cx="387.0" cy="498.7" r="0.57"/><circle cx="384.6" cy="480.8" r="0.39"/><circle cx="523.7" cy="477.7" r="0.49"/><circle cx="423.3" cy="480.1" r="0.43"/><circle cx="448.2" cy="545.5" r="0.57"/><circle cx="496.3" cy="432.8" r="0.38"/><circle cx="384.7" cy="464.5" r="0.46"/><circle cx="526.4" cy="464.2" r="0.47"/><circle cx="416.9" cy="530.2" r="0.44"/><circle cx="408.1" cy="501.4" r="0.38"/><circle cx="436.0" cy="510.8" r="0.31"/><circle cx="526.2" cy="520.6" r="0.57"/><circle cx="455.2" cy="536.2" r="0.46"/><circle cx="453.6" cy="434.2" r="0.39"/><circle cx="543.7" cy="502.8" r="0.32"/><circle cx="432.5" cy="420.1" r="0.38"/><circle cx="415.5" cy="533.4" r="0.45"/><circle cx="406.2" cy="472.0" r="0.49"/><circle cx="460.4" cy="553.2" r="0.47"/><circle cx="514.5" cy="440.8" r="0.44"/><circle cx="536.2" cy="453.0" r="0.42"/><circle cx="528.3" cy="473.7" r="0.47"/><circle cx="475.8" cy="425.1" r="0.48"/><circle cx="424.9" cy="434.3" r="0.38"/><circle cx="528.1" cy="487.5" r="0.52"/><circle cx="456.5" cy="416.6" r="0.59"/><circle cx="524.9" cy="526.0" r="0.40"/><circle cx="528.3" cy="528.5" r="0.56"/><circle cx="511.4" cy="538.5" r="0.36"/><circle cx="419.0" cy="430.4" r="0.31"/><circle cx="490.3" cy="540.3" r="0.56"/><circle cx="534.6" cy="489.5" r="0.42"/><circle cx="483.1" cy="473.4" r="0.57"/><circle cx="541.0" cy="485.5" r="0.58"/><circle cx="429.3" cy="444.3" r="0.53"/><circle cx="517.4" cy="525.2" r="0.37"/><circle cx="519.0" cy="530.8" r="0.41"/><circle cx="393.4" cy="522.7" r="0.35"/><circle cx="419.4" cy="536.3" r="0.54"/><circle cx="494.0" cy="436.7" r="0.55"/><circle cx="413.3" cy="471.6" r="0.43"/><circle cx="503.8" cy="463.6" r="0.40"/><circle cx="532.3" cy="507.7" r="0.59"/><circle cx="429.5" cy="419.0" r="0.34"/><circle cx="389.2" cy="497.0" r="0.44"/><circle cx="495.6" cy="522.8" r="0.55"/><circle cx="462.0" cy="422.0" r="0.52"/><circle cx="400.9" cy="467.3" r="0.39"/><circle cx="395.0" cy="511.4" r="0.54"/><circle cx="419.2" cy="519.0" r="0.32"/><circle cx="471.1" cy="512.8" r="0.31"/><circle cx="414.9" cy="523.4" r="0.56"/><circle cx="498.5" cy="481.7" r="0.33"/><circle cx="412.8" cy="537.7" r="0.37"/><circle cx="417.8" cy="533.8" r="0.30"/><circle cx="442.8" cy="447.8" r="0.52"/><circle cx="461.9" cy="556.4" r="0.53"/><circle cx="400.8" cy="479.2" r="0.38"/><circle cx="520.4" cy="455.7" r="0.38"/><circle cx="519.6" cy="453.7" r="0.44"/><circle cx="385.1" cy="470.0" r="0.40"/><circle cx="419.1" cy="430.7" r="0.41"/><circle cx="534.7" cy="523.7" r="0.55"/><circle cx="444.1" cy="420.9" r="0.44"/><circle cx="538.9" cy="502.6" r="0.50"/><circle cx="395.1" cy="522.2" r="0.52"/><circle cx="386.7" cy="483.8" r="0.53"/><circle cx="514.0" cy="524.8" r="0.46"/><circle cx="503.8" cy="541.6" r="0.44"/><circle cx="544.0" cy="490.2" r="0.56"/><circle cx="422.1" cy="525.2" r="0.51"/><circle cx="446.4" cy="544.4" r="0.35"/><circle cx="514.8" cy="448.4" r="0.60"/><circle cx="437.8" cy="422.6" r="0.51"/><circle cx="507.5" cy="544.0" r="0.34"/><circle cx="543.9" cy="493.0" r="0.46"/><circle cx="520.9" cy="457.1" r="0.49"/><circle cx="515.0" cy="503.2" r="0.44"/><circle cx="393.0" cy="496.9" r="0.47"/><circle cx="438.8" cy="510.0" r="0.55"/><circle cx="486.1" cy="531.6" r="0.35"/><circle cx="520.4" cy="432.7" r="0.42"/><circle cx="421.4" cy="523.4" r="0.56"/><circle cx="542.6" cy="463.8" r="0.56"/><circle cx="520.1" cy="527.8" r="0.58"/><circle cx="460.0" cy="441.0" r="0.41"/><circle cx="445.1" cy="460.6" r="0.38"/><circle cx="498.2" cy="547.6" r="0.50"/><circle cx="527.9" cy="501.3" r="0.38"/><circle cx="473.0" cy="433.3" r="0.53"/><circle cx="505.7" cy="545.5" r="0.36"/><circle cx="435.9" cy="533.9" r="0.36"/><circle cx="541.9" cy="486.8" r="0.46"/><circle cx="444.7" cy="522.2" r="0.39"/><circle cx="527.0" cy="462.8" r="0.52"/><circle cx="530.5" cy="480.9" r="0.38"/><circle cx="428.6" cy="450.4" r="0.53"/><circle cx="385.9" cy="481.6" r="0.52"/><circle cx="522.7" cy="467.6" r="0.52"/><circle cx="386.1" cy="467.7" r="0.58"/><circle cx="529.1" cy="466.9" r="0.43"/><circle cx="428.9" cy="549.2" r="0.45"/><circle cx="394.7" cy="465.6" r="0.55"/><circle cx="497.2" cy="547.0" r="0.51"/><circle cx="404.9" cy="518.5" r="0.33"/><circle cx="546.1" cy="479.6" r="0.52"/><circle cx="526.6" cy="515.1" r="0.40"/><circle cx="516.8" cy="511.8" r="0.41"/><circle cx="408.7" cy="512.8" r="0.32"/><circle cx="509.5" cy="472.2" r="0.47"/><circle cx="409.8" cy="499.5" r="0.41"/><circle cx="494.2" cy="537.3" r="0.52"/><circle cx="405.8" cy="433.6" r="0.59"/><circle cx="385.4" cy="468.8" r="0.46"/><circle cx="412.0" cy="532.6" r="0.32"/><circle cx="491.3" cy="431.9" r="0.50"/><circle cx="479.4" cy="458.6" r="0.31"/><circle cx="494.7" cy="538.3" r="0.39"/><circle cx="421.2" cy="452.9" r="0.51"/><circle cx="381.4" cy="481.9" r="0.32"/><circle cx="492.8" cy="499.2" r="0.34"/><circle cx="448.6" cy="526.9" r="0.35"/><circle cx="411.9" cy="537.7" r="0.44"/><circle cx="497.1" cy="545.5" r="0.45"/><circle cx="428.9" cy="487.3" r="0.58"/><circle cx="440.1" cy="542.6" r="0.49"/><circle cx="393.4" cy="485.3" r="0.49"/><circle cx="523.2" cy="442.9" r="0.59"/><circle cx="494.6" cy="418.4" r="0.50"/><circle cx="491.0" cy="548.0" r="0.36"/><circle cx="389.0" cy="511.5" r="0.31"/><circle cx="515.6" cy="534.0" r="0.38"/><circle cx="494.3" cy="549.9" r="0.55"/><circle cx="479.5" cy="436.6" r="0.41"/><circle cx="434.2" cy="428.5" r="0.52"/><circle cx="437.5" cy="443.7" r="0.35"/><circle cx="473.6" cy="436.7" r="0.35"/><circle cx="513.6" cy="521.4" r="0.47"/><circle cx="429.9" cy="518.4" r="0.59"/><circle cx="395.7" cy="484.2" r="0.31"/><circle cx="509.5" cy="515.1" r="0.49"/><circle cx="485.8" cy="522.7" r="0.34"/><circle cx="418.4" cy="430.4" r="0.39"/><circle cx="453.4" cy="535.9" r="0.46"/><circle cx="512.3" cy="530.0" r="0.35"/><circle cx="449.6" cy="546.6" r="0.50"/><circle cx="506.1" cy="510.1" r="0.32"/><circle cx="384.2" cy="468.8" r="0.31"/><circle cx="420.4" cy="444.8" r="0.37"/><circle cx="544.2" cy="486.6" r="0.46"/><circle cx="490.9" cy="541.6" r="0.60"/><circle cx="512.4" cy="529.0" r="0.53"/><circle cx="450.5" cy="460.4" r="0.55"/><circle cx="537.7" cy="493.7" r="0.32"/><circle cx="509.6" cy="428.4" r="0.38"/><circle cx="495.8" cy="419.5" r="0.33"/><circle cx="545.3" cy="490.5" r="0.40"/><circle cx="477.1" cy="529.5" r="0.45"/><circle cx="498.5" cy="478.0" r="0.36"/><circle cx="417.9" cy="536.4" r="0.58"/><circle cx="391.2" cy="486.0" r="0.53"/><circle cx="394.6" cy="503.2" r="0.35"/><circle cx="408.3" cy="435.6" r="0.44"/><circle cx="380.9" cy="500.4" r="0.52"/><circle cx="431.0" cy="518.0" r="0.49"/><circle cx="521.7" cy="483.3" r="0.60"/><circle cx="449.0" cy="422.0" r="0.38"/><circle cx="514.1" cy="433.1" r="0.44"/><circle cx="422.6" cy="433.9" r="0.37"/><circle cx="478.3" cy="512.2" r="0.46"/><circle cx="509.7" cy="434.6" r="0.38"/><circle cx="418.4" cy="505.6" r="0.35"/><circle cx="405.4" cy="487.9" r="0.51"/><circle cx="484.4" cy="518.5" r="0.44"/><circle cx="495.3" cy="538.1" r="0.50"/><circle cx="534.0" cy="470.4" r="0.59"/><circle cx="526.9" cy="517.8" r="0.46"/><circle cx="452.9" cy="533.7" r="0.32"/><circle cx="421.0" cy="430.5" r="0.38"/><circle cx="519.8" cy="482.2" r="0.47"/><circle cx="465.5" cy="549.6" r="0.58"/><circle cx="386.1" cy="480.8" r="0.33"/><circle cx="530.1" cy="493.4" r="0.36"/><circle cx="524.2" cy="527.7" r="0.36"/><circle cx="525.1" cy="473.8" r="0.35"/><circle cx="398.4" cy="473.1" r="0.31"/><circle cx="529.0" cy="510.6" r="0.40"/><circle cx="525.4" cy="483.5" r="0.43"/><circle cx="434.5" cy="529.6" r="0.39"/><circle cx="442.9" cy="524.1" r="0.51"/><circle cx="471.7" cy="537.8" r="0.31"/><circle cx="439.8" cy="548.8" r="0.38"/><circle cx="543.1" cy="471.3" r="0.47"/><circle cx="484.2" cy="455.3" r="0.53"/><circle cx="457.1" cy="507.0" r="0.55"/><circle cx="494.2" cy="536.9" r="0.60"/><circle cx="486.8" cy="526.8" r="0.51"/><circle cx="441.0" cy="415.4" r="0.31"/><circle cx="469.8" cy="508.1" r="0.50"/><circle cx="526.4" cy="531.7" r="0.50"/><circle cx="538.3" cy="496.4" r="0.57"/><circle cx="420.2" cy="521.4" r="0.54"/><circle cx="413.2" cy="441.3" r="0.32"/><circle cx="507.5" cy="535.3" r="0.55"/><circle cx="416.6" cy="430.5" r="0.49"/><circle cx="503.8" cy="421.7" r="0.51"/><circle cx="527.2" cy="488.8" r="0.60"/><circle cx="501.4" cy="493.4" r="0.48"/><circle cx="383.7" cy="508.7" r="0.36"/><circle cx="478.4" cy="504.7" r="0.41"/><circle cx="456.0" cy="537.7" r="0.56"/><circle cx="547.7" cy="474.8" r="0.36"/><circle cx="503.0" cy="540.3" r="0.44"/><circle cx="435.6" cy="538.9" r="0.54"/><circle cx="481.6" cy="440.0" r="0.53"/><circle cx="529.8" cy="513.6" r="0.34"/><circle cx="540.8" cy="467.1" r="0.37"/><circle cx="467.3" cy="420.3" r="0.56"/><circle cx="477.1" cy="524.0" r="0.32"/><circle cx="415.3" cy="535.1" r="0.51"/><circle cx="430.4" cy="451.3" r="0.38"/><circle cx="406.6" cy="453.8" r="0.59"/><circle cx="474.5" cy="440.1" r="0.32"/><circle cx="446.3" cy="442.6" r="0.32"/><circle cx="525.4" cy="440.3" r="0.37"/><circle cx="417.8" cy="431.9" r="0.59"/><circle cx="416.3" cy="528.1" r="0.56"/><circle cx="513.7" cy="458.7" r="0.41"/><circle cx="497.3" cy="436.4" r="0.53"/><circle cx="434.8" cy="446.8" r="0.60"/><circle cx="402.0" cy="464.7" r="0.50"/><circle cx="403.6" cy="526.2" r="0.41"/><circle cx="426.7" cy="452.9" r="0.40"/><circle cx="540.0" cy="502.9" r="0.53"/><circle cx="498.0" cy="452.8" r="0.55"/><circle cx="515.2" cy="516.0" r="0.36"/><circle cx="517.8" cy="478.3" r="0.54"/><circle cx="493.3" cy="485.9" r="0.47"/><circle cx="399.0" cy="465.8" r="0.55"/><circle cx="517.1" cy="535.8" r="0.59"/><circle cx="396.4" cy="495.3" r="0.35"/><circle cx="485.7" cy="528.9" r="0.38"/><circle cx="460.0" cy="545.1" r="0.38"/><circle cx="505.1" cy="500.9" r="0.57"/><circle cx="399.0" cy="501.4" r="0.34"/><circle cx="547.8" cy="490.2" r="0.54"/><circle cx="455.1" cy="513.5" r="0.45"/><circle cx="444.2" cy="429.1" r="0.47"/><circle cx="533.8" cy="511.1" r="0.39"/><circle cx="404.7" cy="490.3" r="0.43"/><circle cx="495.0" cy="512.4" r="0.32"/><circle cx="440.8" cy="459.0" r="0.59"/><circle cx="487.2" cy="543.4" r="0.48"/><circle cx="449.1" cy="542.4" r="0.54"/><circle cx="443.4" cy="531.0" r="0.31"/><circle cx="514.0" cy="461.9" r="0.44"/><circle cx="385.9" cy="488.7" r="0.38"/><circle cx="400.0" cy="481.4" r="0.39"/><circle cx="533.2" cy="493.9" r="0.42"/><circle cx="417.5" cy="489.8" r="0.46"/><circle cx="521.1" cy="434.1" r="0.57"/><circle cx="444.6" cy="539.6" r="0.55"/><circle cx="429.4" cy="511.7" r="0.32"/><circle cx="461.1" cy="416.6" r="0.58"/><circle cx="491.0" cy="446.0" r="0.51"/><circle cx="396.3" cy="505.6" r="0.54"/><circle cx="528.5" cy="465.1" r="0.58"/><circle cx="401.2" cy="471.4" r="0.43"/><circle cx="513.7" cy="429.0" r="0.42"/><circle cx="437.2" cy="534.1" r="0.50"/><circle cx="408.5" cy="440.3" r="0.46"/><circle cx="539.5" cy="487.0" r="0.44"/><circle cx="453.7" cy="420.0" r="0.54"/><circle cx="513.7" cy="463.4" r="0.59"/><circle cx="495.5" cy="427.6" r="0.36"/><circle cx="474.3" cy="528.6" r="0.46"/><circle cx="415.1" cy="540.9" r="0.58"/><circle cx="541.1" cy="503.3" r="0.31"/><circle cx="378.5" cy="484.6" r="0.53"/><circle cx="436.5" cy="549.7" r="0.30"/><circle cx="537.7" cy="455.6" r="0.42"/><circle cx="539.0" cy="489.2" r="0.58"/><circle cx="536.8" cy="475.8" r="0.51"/><circle cx="490.9" cy="533.3" r="0.45"/><circle cx="383.8" cy="469.8" r="0.46"/><circle cx="497.0" cy="522.1" r="0.37"/><circle cx="403.5" cy="493.6" r="0.58"/><circle cx="471.5" cy="534.0" r="0.52"/><circle cx="471.0" cy="554.9" r="0.39"/><circle cx="525.1" cy="505.5" r="0.33"/><circle cx="465.4" cy="545.4" r="0.37"/><circle cx="384.0" cy="492.3" r="0.47"/><circle cx="460.0" cy="420.6" r="0.58"/><circle cx="527.7" cy="530.7" r="0.52"/><circle cx="485.6" cy="501.9" r="0.38"/><circle cx="491.1" cy="517.7" r="0.37"/><circle cx="481.8" cy="418.4" r="0.45"/><circle cx="462.5" cy="423.6" r="0.48"/><circle cx="423.3" cy="493.3" r="0.36"/><circle cx="531.7" cy="476.3" r="0.36"/><circle cx="409.6" cy="458.7" r="0.50"/><circle cx="415.3" cy="516.2" r="0.45"/><circle cx="542.8" cy="506.1" r="0.57"/><circle cx="525.9" cy="453.8" r="0.42"/><circle cx="538.0" cy="493.8" r="0.37"/><circle cx="427.4" cy="540.5" r="0.46"/><circle cx="384.9" cy="458.0" r="0.50"/><circle cx="462.5" cy="545.8" r="0.60"/><circle cx="527.6" cy="492.7" r="0.43"/><circle cx="481.6" cy="538.6" r="0.43"/><circle cx="501.5" cy="472.0" r="0.46"/><circle cx="406.3" cy="469.5" r="0.48"/><circle cx="487.3" cy="433.0" r="0.44"/><circle cx="472.0" cy="414.5" r="0.51"/><circle cx="448.9" cy="443.0" r="0.59"/><circle cx="540.7" cy="503.0" r="0.39"/><circle cx="456.0" cy="473.7" r="0.57"/><circle cx="424.1" cy="429.0" r="0.46"/><circle cx="389.0" cy="465.4" r="0.54"/><circle cx="413.8" cy="492.4" r="0.49"/><circle cx="426.4" cy="471.5" r="0.57"/><circle cx="459.2" cy="448.3" r="0.52"/><circle cx="543.9" cy="469.9" r="0.49"/><circle cx="390.9" cy="494.4" r="0.43"/><circle cx="424.8" cy="537.7" r="0.54"/><circle cx="397.7" cy="508.7" r="0.45"/><circle cx="503.3" cy="428.5" r="0.54"/><circle cx="466.2" cy="549.8" r="0.30"/><circle cx="504.1" cy="504.6" r="0.45"/><circle cx="422.6" cy="490.4" r="0.53"/><circle cx="510.8" cy="443.6" r="0.41"/><circle cx="457.0" cy="543.0" r="0.34"/><circle cx="515.4" cy="527.9" r="0.34"/><circle cx="455.3" cy="434.1" r="0.59"/><circle cx="466.7" cy="531.4" r="0.59"/><circle cx="484.6" cy="425.3" r="0.60"/><circle cx="464.8" cy="548.6" r="0.59"/><circle cx="545.8" cy="485.8" r="0.59"/><circle cx="472.0" cy="547.9" r="0.44"/><circle cx="472.9" cy="433.7" r="0.42"/><circle cx="496.3" cy="461.3" r="0.40"/><circle cx="447.3" cy="442.6" r="0.34"/><circle cx="394.1" cy="505.9" r="0.34"/><circle cx="434.3" cy="417.9" r="0.32"/><circle cx="412.9" cy="429.3" r="0.55"/><circle cx="501.5" cy="543.2" r="0.39"/><circle cx="483.0" cy="443.7" r="0.58"/><circle cx="426.8" cy="431.3" r="0.59"/><circle cx="397.5" cy="506.3" r="0.38"/><circle cx="524.4" cy="534.3" r="0.36"/><circle cx="543.6" cy="496.1" r="0.36"/><circle cx="469.5" cy="544.5" r="0.42"/><circle cx="448.6" cy="462.1" r="0.32"/><circle cx="511.7" cy="514.9" r="0.51"/><circle cx="411.3" cy="468.7" r="0.31"/><circle cx="423.8" cy="535.8" r="0.57"/><circle cx="448.1" cy="528.1" r="0.56"/><circle cx="424.7" cy="486.4" r="0.45"/><circle cx="493.1" cy="528.9" r="0.45"/><circle cx="495.1" cy="486.1" r="0.39"/><circle cx="460.2" cy="539.2" r="0.51"/><circle cx="412.0" cy="448.9" r="0.48"/><circle cx="533.8" cy="457.4" r="0.47"/><circle cx="391.6" cy="461.8" r="0.32"/><circle cx="384.0" cy="472.2" r="0.31"/><circle cx="385.3" cy="483.9" r="0.58"/><circle cx="398.1" cy="494.7" r="0.57"/><circle cx="474.1" cy="414.6" r="0.43"/><circle cx="457.6" cy="427.8" r="0.57"/><circle cx="443.4" cy="429.2" r="0.47"/><circle cx="479.7" cy="543.9" r="0.38"/><circle cx="521.2" cy="479.6" r="0.31"/><circle cx="479.6" cy="529.6" r="0.54"/><circle cx="436.2" cy="544.6" r="0.33"/><circle cx="461.8" cy="420.1" r="0.49"/><circle cx="400.4" cy="446.6" r="0.31"/><circle cx="518.4" cy="435.6" r="0.35"/><circle cx="528.1" cy="478.8" r="0.59"/><circle cx="507.8" cy="427.7" r="0.35"/><circle cx="499.6" cy="422.2" r="0.36"/><circle cx="495.7" cy="419.8" r="0.57"/><circle cx="532.3" cy="523.0" r="0.35"/><circle cx="500.7" cy="544.5" r="0.40"/><circle cx="501.9" cy="425.5" r="0.42"/><circle cx="441.4" cy="431.5" r="0.60"/><circle cx="420.8" cy="536.4" r="0.37"/><circle cx="422.8" cy="455.5" r="0.52"/><circle cx="461.4" cy="437.3" r="0.48"/><circle cx="391.8" cy="474.4" r="0.42"/><circle cx="438.0" cy="479.3" r="0.50"/><circle cx="544.5" cy="472.7" r="0.49"/><circle cx="495.7" cy="451.1" r="0.42"/><circle cx="542.5" cy="460.1" r="0.33"/><circle cx="498.9" cy="494.1" r="0.50"/><circle cx="413.8" cy="443.1" r="0.40"/><circle cx="524.2" cy="519.5" r="0.36"/><circle cx="473.8" cy="549.9" r="0.33"/><circle cx="538.4" cy="477.8" r="0.58"/><circle cx="444.8" cy="416.8" r="0.30"/><circle cx="419.6" cy="463.4" r="0.46"/><circle cx="542.9" cy="497.6" r="0.49"/><circle cx="464.8" cy="450.1" r="0.33"/><circle cx="473.1" cy="426.2" r="0.60"/><circle cx="479.5" cy="418.3" r="0.39"/><circle cx="391.1" cy="468.1" r="0.45"/><circle cx="394.4" cy="505.7" r="0.41"/><circle cx="415.9" cy="431.3" r="0.59"/><circle cx="489.6" cy="417.6" r="0.33"/><circle cx="393.4" cy="485.6" r="0.54"/><circle cx="490.7" cy="550.7" r="0.30"/><circle cx="544.3" cy="474.1" r="0.40"/><circle cx="408.1" cy="525.7" r="0.42"/><circle cx="436.7" cy="425.2" r="0.57"/><circle cx="399.4" cy="486.4" r="0.44"/><circle cx="379.3" cy="476.8" r="0.58"/><circle cx="546.4" cy="497.3" r="0.53"/><circle cx="417.5" cy="485.1" r="0.49"/><circle cx="426.8" cy="467.8" r="0.51"/><circle cx="402.1" cy="471.5" r="0.42"/><circle cx="461.9" cy="527.0" r="0.58"/><circle cx="391.1" cy="468.3" r="0.54"/><circle cx="466.6" cy="416.1" r="0.42"/><circle cx="432.1" cy="538.9" r="0.32"/><circle cx="536.3" cy="518.5" r="0.41"/><circle cx="433.5" cy="548.5" r="0.57"/><circle cx="480.5" cy="504.3" r="0.43"/><circle cx="483.5" cy="423.4" r="0.57"/><circle cx="495.2" cy="547.1" r="0.60"/><circle cx="428.3" cy="490.8" r="0.40"/><circle cx="472.2" cy="508.7" r="0.60"/></g>
<g fill="#a8a8a8" fill-opacity="0.7"><circle cx="416.5" cy="543.6" r="1.30"/><circle cx="538.8" cy="497.9" r="1.02"/><circle cx="454.7" cy="526.5" r="1.10"/><circle cx="433.2" cy="518.8" r="0.60"/><circle cx="444.2" cy="531.2" r="0.68"/><circle cx="430.7" cy="503.0" r="0.66"/><circle cx="459.4" cy="554.9" r="0.86"/><circle cx="476.6" cy="457.7" r="0.73"/><circle cx="438.4" cy="506.8" r="1.24"/><circle cx="382.7" cy="499.1" r="1.01"/><circle cx="492.9" cy="467.1" r="1.13"/><circle cx="492.2" cy="446.2" r="0.71"/><circle cx="448.4" cy="539.6" r="1.00"/><circle cx="411.6" cy="472.2" r="0.78"/><circle cx="479.8" cy="496.4" r="1.15"/><circle cx="398.5" cy="480.2" r="1.06"/><circle cx="484.0" cy="527.0" r="0.89"/><circle cx="454.7" cy="419.4" r="0.92"/><circle cx="461.3" cy="545.5" r="1.26"/><circle cx="487.8" cy="425.9" r="0.86"/><circle cx="446.0" cy="426.2" r="0.97"/><circle cx="452.8" cy="549.7" r="1.15"/><circle cx="405.5" cy="479.7" r="0.70"/><circle cx="511.1" cy="449.5" r="0.62"/><circle cx="416.2" cy="473.6" r="1.06"/><circle cx="434.4" cy="425.9" r="1.10"/><circle cx="504.4" cy="534.6" r="0.98"/><circle cx="519.4" cy="486.2" r="0.96"/><circle cx="381.1" cy="499.4" r="1.13"/><circle cx="534.2" cy="498.8" r="0.98"/><circle cx="415.4" cy="425.5" r="0.81"/><circle cx="423.5" cy="423.6" r="1.25"/><circle cx="393.8" cy="450.4" r="0.93"/><circle cx="434.4" cy="537.4" r="1.20"/><circle cx="506.5" cy="482.1" r="0.84"/><circle cx="413.2" cy="449.8" r="0.82"/><circle cx="531.4" cy="505.1" r="1.21"/><circle cx="491.8" cy="460.0" r="1.20"/><circle cx="463.8" cy="418.0" r="0.73"/><circle cx="528.8" cy="507.1" r="1.12"/><circle cx="482.8" cy="549.0" r="0.91"/><circle cx="444.4" cy="456.2" r="1.09"/><circle cx="438.0" cy="466.0" r="1.22"/><circle cx="503.7" cy="462.2" r="0.79"/><circle cx="482.5" cy="493.8" r="1.13"/><circle cx="494.9" cy="452.2" r="0.90"/><circle cx="478.7" cy="455.6" r="0.83"/><circle cx="507.0" cy="485.4" r="0.81"/><circle cx="397.7" cy="486.0" r="1.01"/><circle cx="500.6" cy="485.0" r="1.22"/><circle cx="452.8" cy="431.0" r="1.23"/><circle cx="459.4" cy="424.0" r="0.75"/><circle cx="412.7" cy="480.9" r="1.29"/><circle cx="473.2" cy="555.3" r="1.04"/><circle cx="427.7" cy="521.5" r="0.80"/><circle cx="400.3" cy="532.5" r="0.92"/><circle cx="485.4" cy="458.3" r="0.66"/><circle cx="468.6" cy="552.0" r="0.76"/><circle cx="445.4" cy="504.6" r="1.27"/><circle cx="433.6" cy="529.3" r="1.12"/><circle cx="465.8" cy="440.2" r="1.28"/><circle cx="541.7" cy="501.6" r="1.15"/><circle cx="485.2" cy="420.5" r="1.00"/><circle cx="445.4" cy="453.7" r="1.01"/><circle cx="470.7" cy="428.1" r="0.73"/><circle cx="421.9" cy="446.1" r="1.23"/><circle cx="527.6" cy="437.6" r="0.78"/><circle cx="400.3" cy="476.1" r="0.92"/><circle cx="439.0" cy="507.7" r="1.25"/><circle cx="508.2" cy="448.6" r="1.22"/><circle cx="522.6" cy="455.6" r="1.28"/><circle cx="448.1" cy="476.1" r="1.27"/><circle cx="425.9" cy="521.6" r="0.71"/><circle cx="388.4" cy="457.7" r="1.01"/><circle cx="520.8" cy="448.0" r="0.96"/><circle cx="397.5" cy="503.8" r="0.83"/><circle cx="412.5" cy="427.8" r="0.95"/><circle cx="438.9" cy="459.6" r="0.63"/><circle cx="479.5" cy="539.0" r="0.87"/><circle cx="471.8" cy="527.7" r="0.91"/><circle cx="463.0" cy="520.3" r="1.10"/><circle cx="486.3" cy="456.7" r="0.89"/><circle cx="470.7" cy="441.8" r="0.86"/><circle cx="524.6" cy="484.8" r="0.72"/><circle cx="380.4" cy="487.1" r="0.90"/><circle cx="523.9" cy="516.8" r="0.71"/><circle cx="408.5" cy="434.2" r="0.82"/><circle cx="442.8" cy="550.8" r="0.91"/><circle cx="510.4" cy="431.2" r="0.80"/><circle cx="484.5" cy="553.8" r="0.79"/><circle cx="400.4" cy="462.6" r="0.98"/><circle cx="475.7" cy="429.4" r="0.78"/><circle cx="434.5" cy="435.6" r="1.22"/><circle cx="430.3" cy="520.7" r="0.93"/><circle cx="408.6" cy="480.9" r="1.26"/><circle cx="489.1" cy="445.6" r="1.22"/><circle cx="423.7" cy="530.3" r="0.68"/><circle cx="502.6" cy="435.6" r="0.87"/><circle cx="489.2" cy="444.1" r="0.71"/><circle cx="470.8" cy="425.2" r="0.96"/><circle cx="417.3" cy="456.6" r="0.84"/><circle cx="484.6" cy="424.0" r="1.16"/><circle cx="519.1" cy="531.0" r="0.79"/><circle cx="414.7" cy="436.9" r="1.23"/><circle cx="523.7" cy="504.9" r="0.65"/><circle cx="433.0" cy="478.2" r="0.83"/><circle cx="487.6" cy="471.3" r="0.65"/><circle cx="472.8" cy="434.3" r="1.08"/><circle cx="513.5" cy="474.2" r="0.91"/><circle cx="393.2" cy="516.3" r="1.05"/><circle cx="541.5" cy="510.2" r="1.00"/><circle cx="533.4" cy="472.2" r="1.02"/><circle cx="498.7" cy="519.9" r="0.99"/><circle cx="435.7" cy="516.5" r="1.27"/><circle cx="477.1" cy="523.9" r="1.07"/><circle cx="520.4" cy="453.2" r="0.83"/><circle cx="396.8" cy="518.1" r="1.30"/><circle cx="492.1" cy="550.2" r="0.86"/><circle cx="398.2" cy="494.9" r="1.01"/><circle cx="508.0" cy="535.9" r="1.05"/><circle cx="395.9" cy="520.3" r="0.79"/><circle cx="421.4" cy="455.9" r="0.68"/><circle cx="447.4" cy="525.4" r="1.08"/><circle cx="389.3" cy="466.8" r="0.70"/><circle cx="519.5" cy="503.5" r="1.30"/><circle cx="498.1" cy="437.1" r="0.77"/><circle cx="498.0" cy="521.4" r="0.87"/><circle cx="392.4" cy="464.2" r="0.83"/><circle cx="457.4" cy="520.7" r="1.14"/><circle cx="511.4" cy="482.4" r="1.19"/><circle cx="510.8" cy="485.2" r="1.18"/><circle cx="448.9" cy="462.2" r="0.95"/><circle cx="408.2" cy="458.1" r="0.61"/><circle cx="505.3" cy="429.4" r="0.63"/><circle cx="493.4" cy="444.5" r="0.74"/><circle cx="478.6" cy="448.7" r="1.29"/><circle cx="492.7" cy="551.8" r="0.69"/><circle cx="477.3" cy="495.3" r="0.83"/><circle cx="466.4" cy="413.5" r="0.73"/><circle cx="403.8" cy="468.5" r="0.71"/><circle cx="475.5" cy="510.7" r="0.81"/><circle cx="491.9" cy="480.6" r="1.28"/><circle cx="402.8" cy="507.2" r="0.99"/><circle cx="395.7" cy="520.6" r="1.24"/><circle cx="449.3" cy="554.4" r="1.00"/><circle cx="435.6" cy="551.4" r="1.29"/><circle cx="431.3" cy="434.1" r="0.67"/><circle cx="428.8" cy="440.4" r="0.74"/><circle cx="396.4" cy="527.6" r="1.00"/><circle cx="433.5" cy="545.7" r="1.09"/><circle cx="475.8" cy="420.4" r="0.82"/><circle cx="412.0" cy="459.3" r="0.91"/><circle cx="402.8" cy="461.7" r="1.13"/><circle cx="474.0" cy="521.4" r="0.69"/><circle cx="482.1" cy="540.3" r="1.25"/><circle cx="415.7" cy="498.3" r="1.14"/><circle cx="512.6" cy="507.3" r="0.76"/><circle cx="419.2" cy="536.6" r="1.26"/><circle cx="448.4" cy="521.3" r="0.95"/><circle cx="446.7" cy="532.6" r="0.67"/><circle cx="463.0" cy="427.0" r="0.86"/><circle cx="402.6" cy="434.8" r="0.85"/><circle cx="452.8" cy="535.4" r="0.67"/><circle cx="398.7" cy="472.5" r="1.16"/><circle cx="499.5" cy="490.3" r="1.24"/><circle cx="453.9" cy="433.7" r="1.21"/><circle cx="488.0" cy="527.0" r="1.15"/><circle cx="406.2" cy="483.8" r="0.60"/><circle cx="397.3" cy="506.4" r="0.75"/><circle cx="507.7" cy="465.9" r="1.23"/><circle cx="439.8" cy="529.1" r="0.84"/><circle cx="419.0" cy="518.4" r="1.27"/><circle cx="449.2" cy="498.6" r="0.98"/><circle cx="427.4" cy="537.5" r="1.10"/><circle cx="501.2" cy="528.6" r="1.24"/><circle cx="449.2" cy="443.4" r="1.25"/><circle cx="465.3" cy="444.4" r="1.14"/><circle cx="515.4" cy="459.1" r="0.70"/><circle cx="531.3" cy="476.8" r="0.97"/><circle cx="397.2" cy="524.4" r="1.05"/><circle cx="446.8" cy="429.6" r="1.11"/><circle cx="468.1" cy="420.1" r="0.75"/><circle cx="483.7" cy="424.3" r="1.12"/><circle cx="417.7" cy="472.0" r="0.61"/><circle cx="413.3" cy="427.3" r="0.77"/><circle cx="435.9" cy="540.7" r="0.99"/><circle cx="512.8" cy="432.7" r="1.29"/><circle cx="391.5" cy="469.7" r="0.96"/><circle cx="508.1" cy="492.6" r="1.22"/><circle cx="503.9" cy="421.9" r="0.73"/><circle cx="488.0" cy="542.6" r="0.83"/><circle cx="535.0" cy="456.7" r="0.61"/><circle cx="444.3" cy="420.2" r="1.09"/><circle cx="436.8" cy="515.4" r="1.12"/><circle cx="487.7" cy="521.8" r="0.93"/><circle cx="459.7" cy="524.5" r="0.71"/><circle cx="504.3" cy="510.3" r="0.89"/><circle cx="501.4" cy="523.3" r="0.72"/><circle cx="520.3" cy="507.5" r="0.81"/><circle cx="461.4" cy="458.8" r="0.69"/><circle cx="506.8" cy="526.9" r="1.08"/><circle cx="439.7" cy="416.0" r="0.66"/><circle cx="488.7" cy="520.7" r="1.22"/><circle cx="466.5" cy="452.9" r="1.14"/><circle cx="392.0" cy="515.0" r="0.89"/><circle cx="428.9" cy="442.7" r="0.94"/><circle cx="393.5" cy="509.1" r="1.19"/><circle cx="454.4" cy="544.8" r="0.90"/><circle cx="508.9" cy="462.2" r="0.63"/><circle cx="406.7" cy="507.4" r="1.02"/><circle cx="444.5" cy="454.5" r="0.69"/><circle cx="442.1" cy="528.0" r="0.65"/><circle cx="542.3" cy="511.4" r="1.23"/><circle cx="531.3" cy="457.3" r="1.01"/><circle cx="397.8" cy="504.3" r="0.98"/><circle cx="489.8" cy="529.2" r="1.01"/><circle cx="541.5" cy="475.0" r="1.24"/><circle cx="483.8" cy="543.0" r="0.99"/><circle cx="493.2" cy="454.0" r="1.13"/><circle cx="436.2" cy="531.2" r="1.22"/><circle cx="520.6" cy="510.2" r="1.07"/><circle cx="510.8" cy="520.9" r="1.20"/><circle cx="481.9" cy="524.6" r="0.97"/><circle cx="436.7" cy="524.0" r="0.92"/><circle cx="393.6" cy="446.6" r="0.90"/><circle cx="535.2" cy="454.5" r="1.24"/><circle cx="472.1" cy="464.4" r="1.14"/><circle cx="452.7" cy="420.8" r="1.06"/><circle cx="509.4" cy="466.5" r="1.16"/><circle cx="411.6" cy="475.2" r="0.73"/><circle cx="426.5" cy="452.7" r="0.70"/><circle cx="450.6" cy="474.5" r="1.03"/><circle cx="544.6" cy="496.4" r="0.82"/><circle cx="499.8" cy="466.2" r="1.16"/><circle cx="418.5" cy="491.4" r="1.08"/><circle cx="391.3" cy="491.1" r="0.98"/><circle cx="510.5" cy="500.8" r="0.71"/><circle cx="505.7" cy="529.6" r="1.22"/><circle cx="520.0" cy="488.4" r="1.05"/><circle cx="460.7" cy="421.6" r="0.91"/><circle cx="426.6" cy="421.9" r="1.25"/><circle cx="451.8" cy="550.5" r="0.90"/><circle cx="429.4" cy="453.0" r="0.87"/><circle cx="419.4" cy="525.9" r="0.72"/><circle cx="452.7" cy="424.7" r="0.84"/><circle cx="431.0" cy="460.3" r="1.04"/><circle cx="496.6" cy="432.5" r="1.26"/><circle cx="400.3" cy="446.2" r="1.26"/><circle cx="393.6" cy="477.9" r="0.74"/><circle cx="425.1" cy="521.9" r="0.79"/><circle cx="486.0" cy="527.4" r="0.67"/><circle cx="399.0" cy="507.7" r="1.16"/><circle cx="532.5" cy="456.7" r="1.24"/><circle cx="441.1" cy="455.4" r="1.25"/><circle cx="487.7" cy="508.6" r="0.61"/><circle cx="509.0" cy="471.1" r="1.22"/><circle cx="508.2" cy="485.6" r="0.67"/><circle cx="427.6" cy="546.0" r="1.00"/><circle cx="410.2" cy="509.1" r="1.04"/><circle cx="540.0" cy="512.4" r="0.89"/><circle cx="481.0" cy="421.8" r="1.04"/><circle cx="518.6" cy="492.5" r="0.76"/><circle cx="518.9" cy="448.0" r="1.01"/><circle cx="410.3" cy="525.2" r="1.13"/><circle cx="380.4" cy="496.0" r="1.05"/><circle cx="461.8" cy="542.9" r="1.23"/><circle cx="431.8" cy="499.2" r="1.25"/><circle cx="409.0" cy="522.7" r="0.75"/><circle cx="462.7" cy="432.5" r="1.08"/><circle cx="532.6" cy="465.5" r="0.86"/><circle cx="423.0" cy="451.6" r="1.25"/><circle cx="510.8" cy="434.4" r="1.18"/><circle cx="447.8" cy="468.9" r="0.77"/><circle cx="480.9" cy="422.8" r="1.16"/><circle cx="429.4" cy="514.5" r="0.71"/><circle cx="441.1" cy="419.6" r="0.99"/><circle cx="457.6" cy="425.6" r="0.92"/><circle cx="509.8" cy="472.9" r="1.14"/><circle cx="401.2" cy="462.7" r="0.74"/><circle cx="513.1" cy="499.3" r="1.06"/><circle cx="457.5" cy="551.6" r="0.74"/><circle cx="449.9" cy="537.9" r="1.13"/><circle cx="460.3" cy="529.8" r="0.88"/><circle cx="444.6" cy="417.9" r="0.68"/><circle cx="505.6" cy="496.5" r="1.07"/><circle cx="500.6" cy="538.6" r="0.80"/><circle cx="540.3" cy="505.3" r="1.11"/><circle cx="418.2" cy="428.8" r="0.82"/><circle cx="531.4" cy="453.9" r="0.99"/><circle cx="405.0" cy="448.0" r="1.25"/><circle cx="420.3" cy="423.2" r="0.94"/><circle cx="421.0" cy="487.3" r="0.90"/><circle cx="389.0" cy="490.2" r="0.77"/><circle cx="463.3" cy="442.2" r="1.00"/><circle cx="490.8" cy="546.4" r="0.91"/><circle cx="483.0" cy="515.8" r="0.84"/><circle cx="516.6" cy="470.9" r="0.67"/><circle cx="520.4" cy="516.3" r="1.22"/><circle cx="488.4" cy="457.8" r="0.82"/><circle cx="512.9" cy="514.2" r="1.04"/><circle cx="445.9" cy="458.2" r="0.97"/><circle cx="430.8" cy="446.5" r="1.10"/><circle cx="493.0" cy="469.3" r="1.21"/><circle cx="533.4" cy="453.6" r="0.84"/><circle cx="424.2" cy="499.8" r="1.24"/><circle cx="521.4" cy="524.6" r="1.13"/><circle cx="386.7" cy="500.9" r="1.05"/><circle cx="391.4" cy="516.2" r="1.15"/><circle cx="479.1" cy="426.2" r="1.19"/><circle cx="480.5" cy="520.0" r="1.01"/><circle cx="445.9" cy="533.1" r="0.60"/><circle cx="528.5" cy="483.8" r="0.89"/><circle cx="427.9" cy="515.6" r="1.02"/><circle cx="475.8" cy="503.5" r="0.97"/><circle cx="442.9" cy="436.0" r="0.69"/><circle cx="492.5" cy="469.4" r="1.13"/><circle cx="404.9" cy="447.0" r="0.73"/><circle cx="420.8" cy="497.5" r="1.08"/><circle cx="397.6" cy="484.3" r="0.66"/><circle cx="469.1" cy="555.1" r="0.87"/><circle cx="538.2" cy="462.4" r="0.86"/><circle cx="498.3" cy="437.7" r="0.94"/><circle cx="472.2" cy="519.4" r="0.84"/><circle cx="475.0" cy="488.6" r="1.23"/><circle cx="501.4" cy="424.8" r="0.81"/><circle cx="519.1" cy="465.3" r="0.64"/><circle cx="421.3" cy="525.8" r="1.12"/><circle cx="538.5" cy="482.1" r="1.28"/><circle cx="526.1" cy="454.3" r="1.02"/><circle cx="413.1" cy="482.3" r="0.79"/></g>
<defs><clipPath id="pc"><rect width="39" height="14.3" rx="7.15"/></clipPath><g id="pill"><g clip-path="url(#pc)"><rect width="20" height="14.3" fill="#de5a7c"/><rect x="20" width="19" height="14.3" fill="#e2e2e2"/><rect y="11.6" width="20" height="2.7" fill="#c9446a"/><rect x="20" y="11.6" width="19" height="2.7" fill="#c9c9c9"/><rect x="7" y="2.5" width="12" height="1.1" fill="#f1a3b7"/><rect x="21.5" y="2.5" width="12" height="1.1" fill="#f6f6f6"/></g><rect x="0.2" y="0.2" width="38.6" height="13.9" rx="6.95" fill="none" stroke="#000" stroke-opacity="0.1" stroke-width="0.5"/></g></defs>
<use href="#pill" x="397.90" y="357.80"/>
<use href="#pill" x="406.90" y="366.70"/>
<use href="#pill" x="415.90" y="375.60"/>
<use href="#pill" x="424.90" y="384.50"/>
<use href="#pill" x="432.00" y="357.80"/>
<use href="#pill" x="441.00" y="366.70"/>
<use href="#pill" x="450.00" y="375.60"/>
<use href="#pill" x="459.00" y="384.50"/>
<use href="#pill" x="467.50" y="354.50"/>
<use href="#pill" x="476.35" y="363.40"/>
<use href="#pill" x="485.20" y="372.30"/>
<use href="#pill" x="494.05" y="381.20"/>
<defs><marker id="ab" markerWidth="6" markerHeight="6" refX="5.5" refY="3" orient="auto" markerUnits="userSpaceOnUse"><path d="M0 0L6 3L0 6z" fill="#111"/></marker><marker id="ar" markerWidth="6" markerHeight="6" refX="5" refY="3" orient="auto" markerUnits="userSpaceOnUse"><path d="M0 0.3L5.5 3L0 5.7z" fill="#d7262b"/></marker><marker id="ar2" markerWidth="8" markerHeight="10" refX="8" refY="5" orient="auto" markerUnits="userSpaceOnUse"><path d="M0 1.5L8.8 5L0 8.5z" fill="#d7262b"/></marker></defs>
<line x1="465.00" y1="401.50" x2="422.95" y2="464.77" stroke="#111" stroke-width="1.2" marker-end="url(#ab)"/>
<line x1="465.00" y1="401.50" x2="458.38" y2="503.21" stroke="#111" stroke-width="1.2" marker-end="url(#ab)"/>
<line x1="465.00" y1="401.50" x2="512.45" y2="472.57" stroke="#111" stroke-width="1.2" marker-end="url(#ab)"/>
<line x1="416.00" y1="487.30" x2="465.80" y2="544.30" stroke="#d7262b" stroke-width="1.0" marker-end="url(#ar)"/>
<line x1="514.00" y1="474.90" x2="465.80" y2="544.30" stroke="#d7262b" stroke-width="1.0" marker-end="url(#ar)"/>
<g fill="#cc1f2d" stroke="#8e1a22" stroke-width="0.5"><circle cx="500.6" cy="434.5" r="2.5"/><circle cx="442.2" cy="455.0" r="2.5"/><circle cx="481.3" cy="458.8" r="2.5"/><circle cx="421.4" cy="467.1" r="2.5"/><circle cx="456.1" cy="467.1" r="2.5"/><circle cx="394.6" cy="474.9" r="2.5"/><circle cx="514.0" cy="474.9" r="2.5"/><circle cx="500.6" cy="477.0" r="2.5"/><circle cx="476.9" cy="482.9" r="2.5"/><circle cx="416.0" cy="487.3" r="2.5"/><circle cx="441.6" cy="496.5" r="2.5"/><circle cx="402.7" cy="501.3" r="2.5"/><circle cx="483.1" cy="501.0" r="2.5"/><circle cx="458.2" cy="506.0" r="2.5"/><circle cx="498.3" cy="515.0" r="2.5"/><circle cx="416.0" cy="521.2" r="2.5"/><circle cx="451.9" cy="521.8" r="2.5"/><circle cx="478.4" cy="521.2" r="2.5"/></g>
<circle cx="465.4" cy="561.6" r="17.1" fill="#fff" stroke="#333" stroke-width="1"/>
<text x="465.90" y="564.80" font-size="10" fill="#231f20" text-anchor="middle" textLength="28.40" lengthAdjust="spacingAndGlyphs">Sensor</text>
<path d="M448.3 561.6H420.6V597.4M415.2 597.4H426.0" stroke="#3a46ae" stroke-width="1.3" fill="none"/>
<path d="M482.5 561.6H510.6V590" stroke="#d7262b" stroke-width="1.3" fill="none"/>
<path d="M507.9 589.0L513.3 589.0L510.6 598.3z" fill="#d7262b"/>
<rect x="383.5" y="585.0" width="73.3" height="54.0" rx="7.5" fill="none" stroke="#444" stroke-width="1"/>
<rect x="473.6" y="584.8" width="73.5" height="54.3" rx="8" fill="none" stroke="#444" stroke-width="1"/>
<text x="391.00" y="608.70" font-size="10" fill="#231f20" text-anchor="start" textLength="15.60" lengthAdjust="spacingAndGlyphs">RAR</text>
<text x="411.50" y="608.70" font-size="10" fill="#231f20" text-anchor="start" textLength="15.00" lengthAdjust="spacingAndGlyphs">p53</text>
<text x="432.50" y="608.70" font-size="10" fill="#231f20" text-anchor="start" textLength="14.80" lengthAdjust="spacingAndGlyphs">HIF</text>
<text x="391.00" y="620.50" font-size="10" fill="#231f20" text-anchor="start" textLength="21.50" lengthAdjust="spacingAndGlyphs">NFkB</text>
<text x="414.20" y="620.50" font-size="10" fill="#231f20" text-anchor="start" textLength="37.00" lengthAdjust="spacingAndGlyphs">YAP/TAZ</text>
<text x="408.30" y="632.50" font-size="10" fill="#231f20" text-anchor="start" textLength="19.30" lengthAdjust="spacingAndGlyphs">WNT</text>
<text x="480.80" y="615.30" font-size="10" fill="#231f20" text-anchor="start" textLength="16.50" lengthAdjust="spacingAndGlyphs">AKT</text>
<text x="501.50" y="615.30" font-size="10" fill="#231f20" text-anchor="start" textLength="16.50" lengthAdjust="spacingAndGlyphs">PKA</text>
<text x="523.20" y="615.30" font-size="10" fill="#231f20" text-anchor="start" textLength="16.00" lengthAdjust="spacingAndGlyphs">ERK</text>
<text x="480.80" y="629.10" font-size="10" fill="#231f20" text-anchor="start" textLength="15.00" lengthAdjust="spacingAndGlyphs">JNK</text>
<text x="503.50" y="629.10" font-size="10" fill="#231f20" text-anchor="start" textLength="15.40" lengthAdjust="spacingAndGlyphs">p38</text>
<rect x="565.6" y="351.2" width="14.0" height="49.5" rx="0.8" fill="none" stroke="#6d6d6d" stroke-width="1"/>
<rect x="565.6" y="404.4" width="14.0" height="196.8" rx="0.8" fill="none" stroke="#6d6d6d" stroke-width="1"/>
<rect x="565.6" y="605.1" width="14.0" height="33.3" rx="0.8" fill="none" stroke="#6d6d6d" stroke-width="1"/>
<text x="590.20" y="379.00" font-size="10.5" fill="#231f20" font-weight="bold" text-anchor="start" textLength="27.20" lengthAdjust="spacingAndGlyphs">Drugs</text>
<text x="590.30" y="486.50" font-size="10.5" fill="#231f20" font-weight="bold" text-anchor="start" textLength="58.70" lengthAdjust="spacingAndGlyphs">Hundreds of</text>
<text x="590.30" y="497.90" font-size="10.5" fill="#231f20" font-weight="bold" text-anchor="start" textLength="63.50" lengthAdjust="spacingAndGlyphs">direct targets</text>
<text x="589.80" y="624.80" font-size="10.5" fill="#231f20" font-weight="bold" text-anchor="start" textLength="45.40" lengthAdjust="spacingAndGlyphs">2 clusters</text>
</svg>
</body></html>
